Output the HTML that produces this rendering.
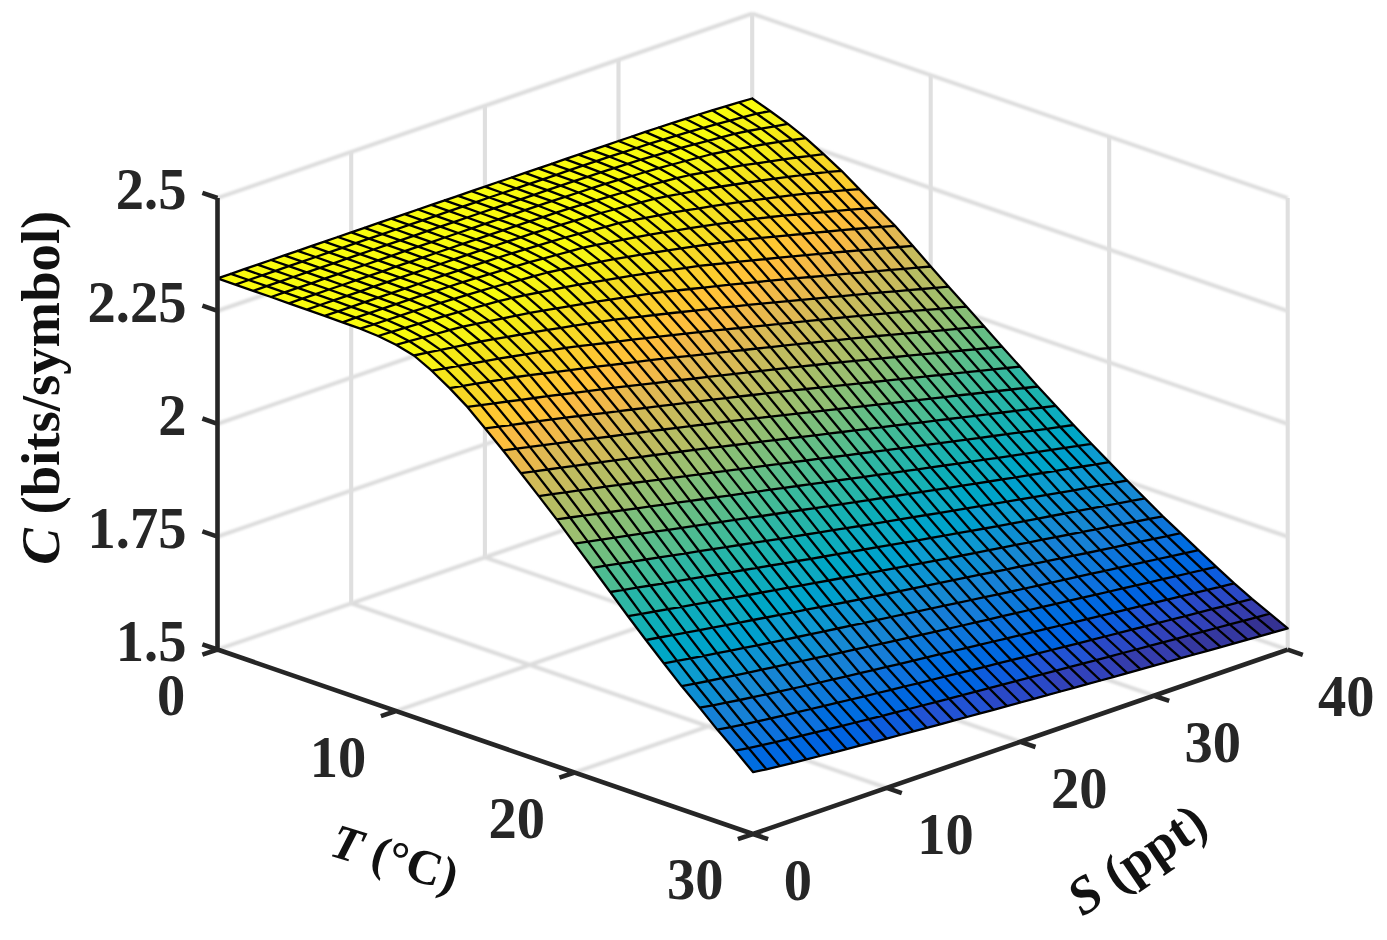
<!DOCTYPE html>
<html lang="en">
<head>
<meta charset="utf-8">
<title>Capacity versus temperature and salinity</title>
<style>
html,body{margin:0;padding:0;background:#fff;}
body{width:1387px;height:940px;overflow:hidden;}
svg{display:block;}
</style>
</head>
<body>
<svg width="1387" height="940" viewBox="0 0 1387 940">
<rect width="1387" height="940" fill="#fff"/>
<defs><filter id="soft" x="-2%" y="-2%" width="104%" height="104%"><feGaussianBlur stdDeviation="0.55"/></filter><filter id="soft2" x="-2%" y="-2%" width="104%" height="104%"><feGaussianBlur stdDeviation="0.8"/></filter></defs>
<path d="M351.2,603.4L886.7,787.9 M484.9,557.3L1020.4,741.8 M618.5,511.2L1154,695.7 M752.2,465.1L1287.7,649.6 M217.5,649.5L752.2,465.1 M396,711L930.7,526.6 M574.5,772.5L1109.2,588.1 M217.5,536.6L752.2,352.2 M217.5,423.8L752.2,239.4 M217.5,310.9L752.2,126.5 M217.5,198L752.2,13.6 M752.2,352.2L1287.7,536.7 M752.2,239.4L1287.7,423.9 M752.2,126.5L1287.7,311 M752.2,13.6L1287.7,198.1" stroke="#dcdcdc" stroke-width="3.9" fill="none" stroke-linecap="butt" filter="url(#soft2)"/>
<path d="M351.2,603.4L351.2,151.9 M484.9,557.3L484.9,105.8 M618.5,511.2L618.5,59.7 M752.2,465.1L752.2,13.6 M930.7,526.6L930.7,75.1 M1109.2,588.1L1109.2,136.6 M1287.7,649.6L1287.7,198.1" stroke="#dfdfdf" stroke-width="4.1" fill="none" stroke-linecap="butt"/>
<g filter="url(#soft)">
<g stroke-width="0.6" stroke-linejoin="round">
<polygon points="738.8,102.4 752.2,98.5 770.1,111 756.7,113.7" fill="#f9fb0e" stroke="#f9fb0e"/>
<polygon points="756.7,113.7 770.1,111 787.9,123.9 774.5,126.3" fill="#f6f313" stroke="#f6f313"/>
<polygon points="774.5,126.3 787.9,123.9 805.8,138.2 792.4,140" fill="#f5eb18" stroke="#f5eb18"/>
<polygon points="792.4,140 805.8,138.2 823.6,154.2 810.2,155.9" fill="#f5de21" stroke="#f5de21"/>
<polygon points="810.2,155.9 823.6,154.2 841.5,170.8 828.1,171.8" fill="#f7d826" stroke="#f7d826"/>
<polygon points="828.1,171.8 841.5,170.8 859.3,189.1 845.9,190.2" fill="#fcce2e" stroke="#fcce2e"/>
<polygon points="845.9,190.2 859.3,189.1 877.2,207.5 863.8,208.6" fill="#fdbe3d" stroke="#fdbe3d"/>
<polygon points="863.8,208.6 877.2,207.5 895,225.8 881.6,226.8" fill="#f1b94a" stroke="#f1b94a"/>
<polygon points="881.6,226.8 895,225.8 912.9,245.9 899.5,247" fill="#e1b952" stroke="#e1b952"/>
<polygon points="899.5,247 912.9,245.9 930.7,266.5 917.3,267.6" fill="#c8bc5d" stroke="#c8bc5d"/>
<polygon points="917.3,267.6 930.7,266.5 948.6,286.7 935.2,287.8" fill="#b7bd64" stroke="#b7bd64"/>
<polygon points="935.2,287.8 948.6,286.7 966.4,306.6 953,307.7" fill="#9cbf6f" stroke="#9cbf6f"/>
<polygon points="953,307.7 966.4,306.6 984.2,326.5 970.9,327.7" fill="#87bf77" stroke="#87bf77"/>
<polygon points="970.9,327.7 984.2,326.5 1002.1,346.7 988.7,348" fill="#65be86" stroke="#65be86"/>
<polygon points="988.7,348 1002.1,346.7 1020,366.6 1006.6,368" fill="#4dbc92" stroke="#4dbc92"/>
<polygon points="1006.6,368 1020,366.6 1037.8,386.5 1024.4,388" fill="#2eb7a4" stroke="#2eb7a4"/>
<polygon points="1024.4,388 1037.8,386.5 1055.7,405.8 1042.3,407.5" fill="#1db3af" stroke="#1db3af"/>
<polygon points="1042.3,407.5 1055.7,405.8 1073.5,425 1060.1,426.9" fill="#0aacbe" stroke="#0aacbe"/>
<polygon points="1060.1,426.9 1073.5,425 1091.4,443.8 1078,445.8" fill="#06a7c6" stroke="#06a7c6"/>
<polygon points="1078,445.8 1091.4,443.8 1109.2,462.1 1095.8,464.3" fill="#079ccf" stroke="#079ccf"/>
<polygon points="1095.8,464.3 1109.2,462.1 1127.1,480.5 1113.7,482.9" fill="#0c93d2" stroke="#0c93d2"/>
<polygon points="1113.7,482.9 1127.1,480.5 1144.9,498.4 1131.5,500.8" fill="#1389d3" stroke="#1389d3"/>
<polygon points="1131.5,500.8 1144.9,498.4 1162.8,516.3 1149.4,518.9" fill="#1481d6" stroke="#1481d6"/>
<polygon points="1149.4,518.9 1162.8,516.3 1180.6,533.2 1167.2,536.1" fill="#0d75dc" stroke="#0d75dc"/>
<polygon points="1167.2,536.1 1180.6,533.2 1198.5,550.2 1185.1,553.1" fill="#046de0" stroke="#046de0"/>
<polygon points="1185.1,553.1 1198.5,550.2 1216.3,566.8 1202.9,569.9" fill="#0363e1" stroke="#0363e1"/>
<polygon points="1202.9,569.9 1216.3,566.8 1234.2,583.3 1220.8,586.6" fill="#0f5cdd" stroke="#0f5cdd"/>
<polygon points="1220.8,586.6 1234.2,583.3 1252,598.9 1238.6,602.4" fill="#2c4ac7" stroke="#2c4ac7"/>
<polygon points="1238.6,602.4 1252,598.9 1269.9,613.7 1256.5,617.3" fill="#353dad" stroke="#353dad"/>
<polygon points="1256.5,617.3 1269.9,613.7 1287.7,628.4 1274.3,632.1" fill="#363093" stroke="#363093"/>
<polygon points="725.5,106.4 738.8,102.4 756.7,113.7 743.3,117.2" fill="#f9fb0e" stroke="#f9fb0e"/>
<polygon points="743.3,117.2 756.7,113.7 774.5,126.3 761.2,128.6" fill="#f6f313" stroke="#f6f313"/>
<polygon points="761.2,128.6 774.5,126.3 792.4,140 779,141.9" fill="#f5eb18" stroke="#f5eb18"/>
<polygon points="779,141.9 792.4,140 810.2,155.9 796.9,157.5" fill="#f5e41d" stroke="#f5e41d"/>
<polygon points="796.9,157.5 810.2,155.9 828.1,171.8 814.7,173.5" fill="#f7d826" stroke="#f7d826"/>
<polygon points="814.7,173.5 828.1,171.8 845.9,190.2 832.6,191.4" fill="#fcce2e" stroke="#fcce2e"/>
<polygon points="832.6,191.4 845.9,190.2 863.8,208.6 850.4,209.7" fill="#ffc337" stroke="#ffc337"/>
<polygon points="850.4,209.7 863.8,208.6 881.6,226.8 868.3,227.9" fill="#f8bb44" stroke="#f8bb44"/>
<polygon points="868.3,227.9 881.6,226.8 899.5,247 886.1,248.2" fill="#e9b94e" stroke="#e9b94e"/>
<polygon points="886.1,248.2 899.5,247 917.3,267.6 904,268.8" fill="#d1bb59" stroke="#d1bb59"/>
<polygon points="904,268.8 917.3,267.6 935.2,287.8 921.8,289" fill="#b7bd64" stroke="#b7bd64"/>
<polygon points="921.8,289 935.2,287.8 953,307.7 939.7,308.8" fill="#a5be6b" stroke="#a5be6b"/>
<polygon points="939.7,308.8 953,307.7 970.9,327.7 957.5,328.9" fill="#87bf77" stroke="#87bf77"/>
<polygon points="957.5,328.9 970.9,327.7 988.7,348 975.4,349.3" fill="#71bf80" stroke="#71bf80"/>
<polygon points="975.4,349.3 988.7,348 1006.6,368 993.2,369.4" fill="#4dbc92" stroke="#4dbc92"/>
<polygon points="993.2,369.4 1006.6,368 1024.4,388 1011.1,389.5" fill="#38b99e" stroke="#38b99e"/>
<polygon points="1011.1,389.5 1024.4,388 1042.3,407.5 1028.9,409.2" fill="#1db3af" stroke="#1db3af"/>
<polygon points="1028.9,409.2 1042.3,407.5 1060.1,426.9 1046.8,428.8" fill="#0faeb9" stroke="#0faeb9"/>
<polygon points="1046.8,428.8 1060.1,426.9 1078,445.8 1064.6,447.8" fill="#06a7c6" stroke="#06a7c6"/>
<polygon points="1064.6,447.8 1078,445.8 1095.8,464.3 1082.5,466.5" fill="#06a0cd" stroke="#06a0cd"/>
<polygon points="1082.5,466.5 1095.8,464.3 1113.7,482.9 1100.3,485.4" fill="#0998d1" stroke="#0998d1"/>
<polygon points="1100.3,485.4 1113.7,482.9 1131.5,500.8 1118.2,503.3" fill="#1389d3" stroke="#1389d3"/>
<polygon points="1118.2,503.3 1131.5,500.8 1149.4,518.9 1136,521.5" fill="#1481d6" stroke="#1481d6"/>
<polygon points="1136,521.5 1149.4,518.9 1167.2,536.1 1153.9,538.9" fill="#1079da" stroke="#1079da"/>
<polygon points="1153.9,538.9 1167.2,536.1 1185.1,553.1 1171.7,556.1" fill="#0871de" stroke="#0871de"/>
<polygon points="1171.7,556.1 1185.1,553.1 1202.9,569.9 1189.6,573" fill="#0268e1" stroke="#0268e1"/>
<polygon points="1189.6,573 1202.9,569.9 1220.8,586.6 1207.4,589.8" fill="#0f5cdd" stroke="#0f5cdd"/>
<polygon points="1207.4,589.8 1220.8,586.6 1238.6,602.4 1225.3,605.8" fill="#2c4ac7" stroke="#2c4ac7"/>
<polygon points="1225.3,605.8 1238.6,602.4 1256.5,617.3 1243.1,620.8" fill="#353dad" stroke="#353dad"/>
<polygon points="1243.1,620.8 1256.5,617.3 1274.3,632.1 1261,635.9" fill="#363093" stroke="#363093"/>
<polygon points="712.1,110.3 725.5,106.4 743.3,117.2 729.9,120.7" fill="#f9fb0e" stroke="#f9fb0e"/>
<polygon points="729.9,120.7 743.3,117.2 761.2,128.6 747.8,131" fill="#f6f313" stroke="#f6f313"/>
<polygon points="747.8,131 761.2,128.6 779,141.9 765.6,144" fill="#f6f313" stroke="#f6f313"/>
<polygon points="765.6,144 779,141.9 796.9,157.5 783.5,159.4" fill="#f5e41d" stroke="#f5e41d"/>
<polygon points="783.5,159.4 796.9,157.5 814.7,173.5 801.3,175.2" fill="#f5de21" stroke="#f5de21"/>
<polygon points="801.3,175.2 814.7,173.5 832.6,191.4 819.2,192.5" fill="#fad32a" stroke="#fad32a"/>
<polygon points="819.2,192.5 832.6,191.4 850.4,209.7 837,210.9" fill="#fec832" stroke="#fec832"/>
<polygon points="837,210.9 850.4,209.7 868.3,227.9 854.9,229" fill="#fdbe3d" stroke="#fdbe3d"/>
<polygon points="854.9,229 868.3,227.9 886.1,248.2 872.7,249.3" fill="#e9b94e" stroke="#e9b94e"/>
<polygon points="872.7,249.3 886.1,248.2 904,268.8 890.6,269.9" fill="#d9ba56" stroke="#d9ba56"/>
<polygon points="890.6,269.9 904,268.8 921.8,289 908.4,290.1" fill="#c0bc60" stroke="#c0bc60"/>
<polygon points="908.4,290.1 921.8,289 939.7,308.8 926.3,309.9" fill="#aebe67" stroke="#aebe67"/>
<polygon points="926.3,309.9 939.7,308.8 957.5,328.9 944.1,330.1" fill="#92bf73" stroke="#92bf73"/>
<polygon points="944.1,330.1 957.5,328.9 975.4,349.3 962,350.5" fill="#71bf80" stroke="#71bf80"/>
<polygon points="962,350.5 975.4,349.3 993.2,369.4 979.8,370.8" fill="#59bd8c" stroke="#59bd8c"/>
<polygon points="979.8,370.8 993.2,369.4 1011.1,389.5 997.7,391" fill="#38b99e" stroke="#38b99e"/>
<polygon points="997.7,391 1011.1,389.5 1028.9,409.2 1015.5,410.8" fill="#25b5a9" stroke="#25b5a9"/>
<polygon points="1015.5,410.8 1028.9,409.2 1046.8,428.8 1033.4,430.6" fill="#0faeb9" stroke="#0faeb9"/>
<polygon points="1033.4,430.6 1046.8,428.8 1064.6,447.8 1051.2,449.8" fill="#07a9c2" stroke="#07a9c2"/>
<polygon points="1051.2,449.8 1064.6,447.8 1082.5,466.5 1069.1,468.6" fill="#06a0cd" stroke="#06a0cd"/>
<polygon points="1069.1,468.6 1082.5,466.5 1100.3,485.4 1086.9,487.8" fill="#0998d1" stroke="#0998d1"/>
<polygon points="1086.9,487.8 1100.3,485.4 1118.2,503.3 1104.8,505.8" fill="#108ed2" stroke="#108ed2"/>
<polygon points="1104.8,505.8 1118.2,503.3 1136,521.5 1122.6,524.1" fill="#1481d6" stroke="#1481d6"/>
<polygon points="1122.6,524.1 1136,521.5 1153.9,538.9 1140.5,541.7" fill="#1079da" stroke="#1079da"/>
<polygon points="1140.5,541.7 1153.9,538.9 1171.7,556.1 1158.3,559" fill="#0871de" stroke="#0871de"/>
<polygon points="1158.3,559 1171.7,556.1 1189.6,573 1176.2,576.1" fill="#0268e1" stroke="#0268e1"/>
<polygon points="1176.2,576.1 1189.6,573 1207.4,589.8 1194,593.1" fill="#0f5cdd" stroke="#0f5cdd"/>
<polygon points="1194,593.1 1207.4,589.8 1225.3,605.8 1211.9,609.2" fill="#2c4ac7" stroke="#2c4ac7"/>
<polygon points="1211.9,609.2 1225.3,605.8 1243.1,620.8 1229.7,624.4" fill="#353dad" stroke="#353dad"/>
<polygon points="1229.7,624.4 1243.1,620.8 1261,635.9 1247.6,639.6" fill="#3637a0" stroke="#3637a0"/>
<polygon points="698.7,114.5 712.1,110.3 729.9,120.7 716.6,124.1" fill="#f9fb0e" stroke="#f9fb0e"/>
<polygon points="716.6,124.1 729.9,120.7 747.8,131 734.4,133.8" fill="#f6f313" stroke="#f6f313"/>
<polygon points="734.4,133.8 747.8,131 765.6,144 752.3,146.4" fill="#f6f313" stroke="#f6f313"/>
<polygon points="752.3,146.4 765.6,144 783.5,159.4 770.1,161.4" fill="#f5eb18" stroke="#f5eb18"/>
<polygon points="770.1,161.4 783.5,159.4 801.3,175.2 788,176.9" fill="#f5de21" stroke="#f5de21"/>
<polygon points="788,176.9 801.3,175.2 819.2,192.5 805.8,193.7" fill="#fad32a" stroke="#fad32a"/>
<polygon points="805.8,193.7 819.2,192.5 837,210.9 823.7,212" fill="#fec832" stroke="#fec832"/>
<polygon points="823.7,212 837,210.9 854.9,229 841.5,230.2" fill="#fdbe3d" stroke="#fdbe3d"/>
<polygon points="841.5,230.2 854.9,229 872.7,249.3 859.4,250.4" fill="#f1b94a" stroke="#f1b94a"/>
<polygon points="859.4,250.4 872.7,249.3 890.6,269.9 877.2,271.1" fill="#d9ba56" stroke="#d9ba56"/>
<polygon points="877.2,271.1 890.6,269.9 908.4,290.1 895.1,291.3" fill="#c8bc5d" stroke="#c8bc5d"/>
<polygon points="895.1,291.3 908.4,290.1 926.3,309.9 912.9,310.9" fill="#aebe67" stroke="#aebe67"/>
<polygon points="912.9,310.9 926.3,309.9 944.1,330.1 930.8,331.3" fill="#9cbf6f" stroke="#9cbf6f"/>
<polygon points="930.8,331.3 944.1,330.1 962,350.5 948.6,351.8" fill="#7cbf7b" stroke="#7cbf7b"/>
<polygon points="948.6,351.8 962,350.5 979.8,370.8 966.5,372.2" fill="#59bd8c" stroke="#59bd8c"/>
<polygon points="966.5,372.2 979.8,370.8 997.7,391 984.3,392.5" fill="#42bb98" stroke="#42bb98"/>
<polygon points="984.3,392.5 997.7,391 1015.5,410.8 1002.2,412.5" fill="#25b5a9" stroke="#25b5a9"/>
<polygon points="1002.2,412.5 1015.5,410.8 1033.4,430.6 1020,432.4" fill="#15b1b4" stroke="#15b1b4"/>
<polygon points="1020,432.4 1033.4,430.6 1051.2,449.8 1037.9,451.8" fill="#07a9c2" stroke="#07a9c2"/>
<polygon points="1037.9,451.8 1051.2,449.8 1069.1,468.6 1055.7,470.8" fill="#06a4ca" stroke="#06a4ca"/>
<polygon points="1055.7,470.8 1069.1,468.6 1086.9,487.8 1073.6,490.3" fill="#0998d1" stroke="#0998d1"/>
<polygon points="1073.6,490.3 1086.9,487.8 1104.8,505.8 1091.4,508.4" fill="#108ed2" stroke="#108ed2"/>
<polygon points="1091.4,508.4 1104.8,505.8 1122.6,524.1 1109.3,526.7" fill="#1485d4" stroke="#1485d4"/>
<polygon points="1109.3,526.7 1122.6,524.1 1140.5,541.7 1127.1,544.5" fill="#127dd8" stroke="#127dd8"/>
<polygon points="1127.1,544.5 1140.5,541.7 1158.3,559 1145,561.9" fill="#0871de" stroke="#0871de"/>
<polygon points="1145,561.9 1158.3,559 1176.2,576.1 1162.8,579.2" fill="#0268e1" stroke="#0268e1"/>
<polygon points="1162.8,579.2 1176.2,576.1 1194,593.1 1180.7,596.4" fill="#0f5cdd" stroke="#0f5cdd"/>
<polygon points="1180.7,596.4 1194,593.1 1211.9,609.2 1198.5,612.7" fill="#2c4ac7" stroke="#2c4ac7"/>
<polygon points="1198.5,612.7 1211.9,609.2 1229.7,624.4 1216.4,628" fill="#353dad" stroke="#353dad"/>
<polygon points="1216.4,628 1229.7,624.4 1247.6,639.6 1234.2,643.3" fill="#3637a0" stroke="#3637a0"/>
<polygon points="685.4,118.8 698.7,114.5 716.6,124.1 703.2,127.8" fill="#f9fb0e" stroke="#f9fb0e"/>
<polygon points="703.2,127.8 716.6,124.1 734.4,133.8 721.1,137.3" fill="#f9fb0e" stroke="#f9fb0e"/>
<polygon points="721.1,137.3 734.4,133.8 752.3,146.4 738.9,148.9" fill="#f6f313" stroke="#f6f313"/>
<polygon points="738.9,148.9 752.3,146.4 770.1,161.4 756.8,163.3" fill="#f5eb18" stroke="#f5eb18"/>
<polygon points="756.8,163.3 770.1,161.4 788,176.9 774.6,178.6" fill="#f5e41d" stroke="#f5e41d"/>
<polygon points="774.6,178.6 788,176.9 805.8,193.7 792.5,195.1" fill="#f7d826" stroke="#f7d826"/>
<polygon points="792.5,195.1 805.8,193.7 823.7,212 810.3,213.3" fill="#fcce2e" stroke="#fcce2e"/>
<polygon points="810.3,213.3 823.7,212 841.5,230.2 828.2,231.5" fill="#ffc337" stroke="#ffc337"/>
<polygon points="828.2,231.5 841.5,230.2 859.4,250.4 846,251.5" fill="#f8bb44" stroke="#f8bb44"/>
<polygon points="846,251.5 859.4,250.4 877.2,271.1 863.9,272.3" fill="#e1b952" stroke="#e1b952"/>
<polygon points="863.9,272.3 877.2,271.1 895.1,291.3 881.7,292.4" fill="#c8bc5d" stroke="#c8bc5d"/>
<polygon points="881.7,292.4 895.1,291.3 912.9,310.9 899.6,312.2" fill="#b7bd64" stroke="#b7bd64"/>
<polygon points="899.6,312.2 912.9,310.9 930.8,331.3 917.4,332.5" fill="#9cbf6f" stroke="#9cbf6f"/>
<polygon points="917.4,332.5 930.8,331.3 948.6,351.8 935.3,353.1" fill="#87bf77" stroke="#87bf77"/>
<polygon points="935.3,353.1 948.6,351.8 966.5,372.2 953.1,373.6" fill="#65be86" stroke="#65be86"/>
<polygon points="953.1,373.6 966.5,372.2 984.3,392.5 971,394" fill="#42bb98" stroke="#42bb98"/>
<polygon points="971,394 984.3,392.5 1002.2,412.5 988.8,414.1" fill="#2eb7a4" stroke="#2eb7a4"/>
<polygon points="988.8,414.1 1002.2,412.5 1020,432.4 1006.7,434.2" fill="#15b1b4" stroke="#15b1b4"/>
<polygon points="1006.7,434.2 1020,432.4 1037.9,451.8 1024.5,453.8" fill="#0aacbe" stroke="#0aacbe"/>
<polygon points="1024.5,453.8 1037.9,451.8 1055.7,470.8 1042.4,473" fill="#06a4ca" stroke="#06a4ca"/>
<polygon points="1042.4,473 1055.7,470.8 1073.6,490.3 1060.2,492.6" fill="#079ccf" stroke="#079ccf"/>
<polygon points="1060.2,492.6 1073.6,490.3 1091.4,508.4 1078.1,510.9" fill="#108ed2" stroke="#108ed2"/>
<polygon points="1078.1,510.9 1091.4,508.4 1109.3,526.7 1095.9,529.3" fill="#1485d4" stroke="#1485d4"/>
<polygon points="1095.9,529.3 1109.3,526.7 1127.1,544.5 1113.8,547.3" fill="#127dd8" stroke="#127dd8"/>
<polygon points="1113.8,547.3 1127.1,544.5 1145,561.9 1131.6,564.8" fill="#0d75dc" stroke="#0d75dc"/>
<polygon points="1131.6,564.8 1145,561.9 1162.8,579.2 1149.5,582.3" fill="#046de0" stroke="#046de0"/>
<polygon points="1149.5,582.3 1162.8,579.2 1180.7,596.4 1167.3,599.6" fill="#0363e1" stroke="#0363e1"/>
<polygon points="1167.3,599.6 1180.7,596.4 1198.5,612.7 1185.2,616.1" fill="#2053d4" stroke="#2053d4"/>
<polygon points="1185.2,616.1 1198.5,612.7 1216.4,628 1203,631.6" fill="#3243ba" stroke="#3243ba"/>
<polygon points="1203,631.6 1216.4,628 1234.2,643.3 1220.9,647.1" fill="#3637a0" stroke="#3637a0"/>
<polygon points="672,123.2 685.4,118.8 703.2,127.8 689.8,131.7" fill="#f9fb0e" stroke="#f9fb0e"/>
<polygon points="689.8,131.7 703.2,127.8 721.1,137.3 707.7,140.8" fill="#f9fb0e" stroke="#f9fb0e"/>
<polygon points="707.7,140.8 721.1,137.3 738.9,148.9 725.5,151.3" fill="#f6f313" stroke="#f6f313"/>
<polygon points="725.5,151.3 738.9,148.9 756.8,163.3 743.4,165.2" fill="#f5eb18" stroke="#f5eb18"/>
<polygon points="743.4,165.2 756.8,163.3 774.6,178.6 761.2,180.5" fill="#f5e41d" stroke="#f5e41d"/>
<polygon points="761.2,180.5 774.6,178.6 792.5,195.1 779.1,196.9" fill="#f7d826" stroke="#f7d826"/>
<polygon points="779.1,196.9 792.5,195.1 810.3,213.3 796.9,214.5" fill="#fcce2e" stroke="#fcce2e"/>
<polygon points="796.9,214.5 810.3,213.3 828.2,231.5 814.8,232.7" fill="#ffc337" stroke="#ffc337"/>
<polygon points="814.8,232.7 828.2,231.5 846,251.5 832.6,252.6" fill="#f8bb44" stroke="#f8bb44"/>
<polygon points="832.6,252.6 846,251.5 863.9,272.3 850.5,273.4" fill="#e9b94e" stroke="#e9b94e"/>
<polygon points="850.5,273.4 863.9,272.3 881.7,292.4 868.3,293.7" fill="#d1bb59" stroke="#d1bb59"/>
<polygon points="868.3,293.7 881.7,292.4 899.6,312.2 886.2,313.4" fill="#b7bd64" stroke="#b7bd64"/>
<polygon points="886.2,313.4 899.6,312.2 917.4,332.5 904,333.7" fill="#a5be6b" stroke="#a5be6b"/>
<polygon points="904,333.7 917.4,332.5 935.3,353.1 921.9,354.4" fill="#87bf77" stroke="#87bf77"/>
<polygon points="921.9,354.4 935.3,353.1 953.1,373.6 939.7,375" fill="#71bf80" stroke="#71bf80"/>
<polygon points="939.7,375 953.1,373.6 971,394 957.6,395.5" fill="#4dbc92" stroke="#4dbc92"/>
<polygon points="957.6,395.5 971,394 988.8,414.1 975.4,415.8" fill="#2eb7a4" stroke="#2eb7a4"/>
<polygon points="975.4,415.8 988.8,414.1 1006.7,434.2 993.3,436" fill="#1db3af" stroke="#1db3af"/>
<polygon points="993.3,436 1006.7,434.2 1024.5,453.8 1011.1,455.8" fill="#0aacbe" stroke="#0aacbe"/>
<polygon points="1011.1,455.8 1024.5,453.8 1042.4,473 1029,475.1" fill="#06a7c6" stroke="#06a7c6"/>
<polygon points="1029,475.1 1042.4,473 1060.2,492.6 1046.8,494.9" fill="#079ccf" stroke="#079ccf"/>
<polygon points="1046.8,494.9 1060.2,492.6 1078.1,510.9 1064.7,513.5" fill="#0c93d2" stroke="#0c93d2"/>
<polygon points="1064.7,513.5 1078.1,510.9 1095.9,529.3 1082.5,531.9" fill="#1389d3" stroke="#1389d3"/>
<polygon points="1082.5,531.9 1095.9,529.3 1113.8,547.3 1100.4,550.2" fill="#127dd8" stroke="#127dd8"/>
<polygon points="1100.4,550.2 1113.8,547.3 1131.6,564.8 1118.2,567.8" fill="#0d75dc" stroke="#0d75dc"/>
<polygon points="1118.2,567.8 1131.6,564.8 1149.5,582.3 1136.1,585.3" fill="#046de0" stroke="#046de0"/>
<polygon points="1136.1,585.3 1149.5,582.3 1167.3,599.6 1153.9,602.9" fill="#0363e1" stroke="#0363e1"/>
<polygon points="1153.9,602.9 1167.3,599.6 1185.2,616.1 1171.8,619.5" fill="#2053d4" stroke="#2053d4"/>
<polygon points="1171.8,619.5 1185.2,616.1 1203,631.6 1189.6,635.2" fill="#3243ba" stroke="#3243ba"/>
<polygon points="1189.6,635.2 1203,631.6 1220.9,647.1 1207.5,650.8" fill="#3637a0" stroke="#3637a0"/>
<polygon points="658.6,127.5 672,123.2 689.8,131.7 676.5,135.7" fill="#f9fb0e" stroke="#f9fb0e"/>
<polygon points="676.5,135.7 689.8,131.7 707.7,140.8 694.3,144.3" fill="#f9fb0e" stroke="#f9fb0e"/>
<polygon points="694.3,144.3 707.7,140.8 725.5,151.3 712.2,154" fill="#f6f313" stroke="#f6f313"/>
<polygon points="712.2,154 725.5,151.3 743.4,165.2 730,167.6" fill="#f6f313" stroke="#f6f313"/>
<polygon points="730,167.6 743.4,165.2 761.2,180.5 747.9,182.5" fill="#f5e41d" stroke="#f5e41d"/>
<polygon points="747.9,182.5 761.2,180.5 779.1,196.9 765.7,198.6" fill="#f5de21" stroke="#f5de21"/>
<polygon points="765.7,198.6 779.1,196.9 796.9,214.5 783.6,215.7" fill="#fad32a" stroke="#fad32a"/>
<polygon points="783.6,215.7 796.9,214.5 814.8,232.7 801.4,234" fill="#fec832" stroke="#fec832"/>
<polygon points="801.4,234 814.8,232.7 832.6,252.6 819.3,253.8" fill="#fdbe3d" stroke="#fdbe3d"/>
<polygon points="819.3,253.8 832.6,252.6 850.5,273.4 837.1,274.6" fill="#e9b94e" stroke="#e9b94e"/>
<polygon points="837.1,274.6 850.5,273.4 868.3,293.7 855,294.9" fill="#d9ba56" stroke="#d9ba56"/>
<polygon points="855,294.9 868.3,293.7 886.2,313.4 872.8,314.7" fill="#c0bc60" stroke="#c0bc60"/>
<polygon points="872.8,314.7 886.2,313.4 904,333.7 890.7,334.9" fill="#aebe67" stroke="#aebe67"/>
<polygon points="890.7,334.9 904,333.7 921.9,354.4 908.5,355.7" fill="#92bf73" stroke="#92bf73"/>
<polygon points="908.5,355.7 921.9,354.4 939.7,375 926.4,376.4" fill="#71bf80" stroke="#71bf80"/>
<polygon points="926.4,376.4 939.7,375 957.6,395.5 944.2,397.1" fill="#59bd8c" stroke="#59bd8c"/>
<polygon points="944.2,397.1 957.6,395.5 975.4,415.8 962.1,417.4" fill="#38b99e" stroke="#38b99e"/>
<polygon points="962.1,417.4 975.4,415.8 993.3,436 979.9,437.8" fill="#1db3af" stroke="#1db3af"/>
<polygon points="979.9,437.8 993.3,436 1011.1,455.8 997.8,457.8" fill="#0faeb9" stroke="#0faeb9"/>
<polygon points="997.8,457.8 1011.1,455.8 1029,475.1 1015.6,477.3" fill="#06a7c6" stroke="#06a7c6"/>
<polygon points="1015.6,477.3 1029,475.1 1046.8,494.9 1033.5,497.2" fill="#06a0cd" stroke="#06a0cd"/>
<polygon points="1033.5,497.2 1046.8,494.9 1064.7,513.5 1051.3,516" fill="#0c93d2" stroke="#0c93d2"/>
<polygon points="1051.3,516 1064.7,513.5 1082.5,531.9 1069.2,534.5" fill="#1389d3" stroke="#1389d3"/>
<polygon points="1069.2,534.5 1082.5,531.9 1100.4,550.2 1087,553" fill="#1481d6" stroke="#1481d6"/>
<polygon points="1087,553 1100.4,550.2 1118.2,567.8 1104.9,570.8" fill="#0d75dc" stroke="#0d75dc"/>
<polygon points="1104.9,570.8 1118.2,567.8 1136.1,585.3 1122.7,588.4" fill="#046de0" stroke="#046de0"/>
<polygon points="1122.7,588.4 1136.1,585.3 1153.9,602.9 1140.6,606.1" fill="#0363e1" stroke="#0363e1"/>
<polygon points="1140.6,606.1 1153.9,602.9 1171.8,619.5 1158.4,622.9" fill="#2053d4" stroke="#2053d4"/>
<polygon points="1158.4,622.9 1171.8,619.5 1189.6,635.2 1176.3,638.8" fill="#3243ba" stroke="#3243ba"/>
<polygon points="1176.3,638.8 1189.6,635.2 1207.5,650.8 1194.1,654.5" fill="#3637a0" stroke="#3637a0"/>
<polygon points="645.3,131.9 658.6,127.5 676.5,135.7 663.1,139.6" fill="#f9fb0e" stroke="#f9fb0e"/>
<polygon points="663.1,139.6 676.5,135.7 694.3,144.3 681,147.9" fill="#f9fb0e" stroke="#f9fb0e"/>
<polygon points="681,147.9 694.3,144.3 712.2,154 698.8,157.5" fill="#f9fb0e" stroke="#f9fb0e"/>
<polygon points="698.8,157.5 712.2,154 730,167.6 716.7,170.1" fill="#f6f313" stroke="#f6f313"/>
<polygon points="716.7,170.1 730,167.6 747.9,182.5 734.5,184.5" fill="#f5eb18" stroke="#f5eb18"/>
<polygon points="734.5,184.5 747.9,182.5 765.7,198.6 752.4,200.4" fill="#f5de21" stroke="#f5de21"/>
<polygon points="752.4,200.4 765.7,198.6 783.6,215.7 770.2,217" fill="#f7d826" stroke="#f7d826"/>
<polygon points="770.2,217 783.6,215.7 801.4,234 788.1,235.3" fill="#fcce2e" stroke="#fcce2e"/>
<polygon points="788.1,235.3 801.4,234 819.3,253.8 805.9,255.1" fill="#fdbe3d" stroke="#fdbe3d"/>
<polygon points="805.9,255.1 819.3,253.8 837.1,274.6 823.8,275.8" fill="#f1b94a" stroke="#f1b94a"/>
<polygon points="823.8,275.8 837.1,274.6 855,294.9 841.6,296.1" fill="#d9ba56" stroke="#d9ba56"/>
<polygon points="841.6,296.1 855,294.9 872.8,314.7 859.5,315.9" fill="#c8bc5d" stroke="#c8bc5d"/>
<polygon points="859.5,315.9 872.8,314.7 890.7,334.9 877.3,336" fill="#aebe67" stroke="#aebe67"/>
<polygon points="877.3,336 890.7,334.9 908.5,355.7 895.2,357" fill="#9cbf6f" stroke="#9cbf6f"/>
<polygon points="895.2,357 908.5,355.7 926.4,376.4 913,377.8" fill="#7cbf7b" stroke="#7cbf7b"/>
<polygon points="913,377.8 926.4,376.4 944.2,397.1 930.9,398.6" fill="#59bd8c" stroke="#59bd8c"/>
<polygon points="930.9,398.6 944.2,397.1 962.1,417.4 948.7,419" fill="#42bb98" stroke="#42bb98"/>
<polygon points="948.7,419 962.1,417.4 979.9,437.8 966.6,439.6" fill="#25b5a9" stroke="#25b5a9"/>
<polygon points="966.6,439.6 979.9,437.8 997.8,457.8 984.4,459.7" fill="#0faeb9" stroke="#0faeb9"/>
<polygon points="984.4,459.7 997.8,457.8 1015.6,477.3 1002.3,479.4" fill="#07a9c2" stroke="#07a9c2"/>
<polygon points="1002.3,479.4 1015.6,477.3 1033.5,497.2 1020.1,499.4" fill="#06a0cd" stroke="#06a0cd"/>
<polygon points="1020.1,499.4 1033.5,497.2 1051.3,516 1038,518.6" fill="#0998d1" stroke="#0998d1"/>
<polygon points="1038,518.6 1051.3,516 1069.2,534.5 1055.8,537.1" fill="#1389d3" stroke="#1389d3"/>
<polygon points="1055.8,537.1 1069.2,534.5 1087,553 1073.7,555.7" fill="#1481d6" stroke="#1481d6"/>
<polygon points="1073.7,555.7 1087,553 1104.9,570.8 1091.5,573.7" fill="#1079da" stroke="#1079da"/>
<polygon points="1091.5,573.7 1104.9,570.8 1122.7,588.4 1109.4,591.5" fill="#0871de" stroke="#0871de"/>
<polygon points="1109.4,591.5 1122.7,588.4 1140.6,606.1 1127.2,609.4" fill="#0363e1" stroke="#0363e1"/>
<polygon points="1127.2,609.4 1140.6,606.1 1158.4,622.9 1145.1,626.3" fill="#2053d4" stroke="#2053d4"/>
<polygon points="1145.1,626.3 1158.4,622.9 1176.3,638.8 1162.9,642.3" fill="#3243ba" stroke="#3243ba"/>
<polygon points="1162.9,642.3 1176.3,638.8 1194.1,654.5 1180.8,658.2" fill="#353dad" stroke="#353dad"/>
<polygon points="631.9,136.5 645.3,131.9 663.1,139.6 649.7,143.7" fill="#f9fb0e" stroke="#f9fb0e"/>
<polygon points="649.7,143.7 663.1,139.6 681,147.9 667.6,151.8" fill="#f9fb0e" stroke="#f9fb0e"/>
<polygon points="667.6,151.8 681,147.9 698.8,157.5 685.4,161" fill="#f9fb0e" stroke="#f9fb0e"/>
<polygon points="685.4,161 698.8,157.5 716.7,170.1 703.3,172.6" fill="#f6f313" stroke="#f6f313"/>
<polygon points="703.3,172.6 716.7,170.1 734.5,184.5 721.1,186.5" fill="#f5eb18" stroke="#f5eb18"/>
<polygon points="721.1,186.5 734.5,184.5 752.4,200.4 739,202.1" fill="#f5e41d" stroke="#f5e41d"/>
<polygon points="739,202.1 752.4,200.4 770.2,217 756.8,218.7" fill="#f7d826" stroke="#f7d826"/>
<polygon points="756.8,218.7 770.2,217 788.1,235.3 774.7,236.6" fill="#fcce2e" stroke="#fcce2e"/>
<polygon points="774.7,236.6 788.1,235.3 805.9,255.1 792.5,256.4" fill="#ffc337" stroke="#ffc337"/>
<polygon points="792.5,256.4 805.9,255.1 823.8,275.8 810.4,277" fill="#f8bb44" stroke="#f8bb44"/>
<polygon points="810.4,277 823.8,275.8 841.6,296.1 828.2,297.4" fill="#e1b952" stroke="#e1b952"/>
<polygon points="828.2,297.4 841.6,296.1 859.5,315.9 846.1,317.2" fill="#c8bc5d" stroke="#c8bc5d"/>
<polygon points="846.1,317.2 859.5,315.9 877.3,336 863.9,337.3" fill="#b7bd64" stroke="#b7bd64"/>
<polygon points="863.9,337.3 877.3,336 895.2,357 881.8,358.3" fill="#9cbf6f" stroke="#9cbf6f"/>
<polygon points="881.8,358.3 895.2,357 913,377.8 899.6,379.2" fill="#7cbf7b" stroke="#7cbf7b"/>
<polygon points="899.6,379.2 913,377.8 930.9,398.6 917.5,400.1" fill="#65be86" stroke="#65be86"/>
<polygon points="917.5,400.1 930.9,398.6 948.7,419 935.3,420.6" fill="#42bb98" stroke="#42bb98"/>
<polygon points="935.3,420.6 948.7,419 966.6,439.6 953.2,441.4" fill="#25b5a9" stroke="#25b5a9"/>
<polygon points="953.2,441.4 966.6,439.6 984.4,459.7 971,461.6" fill="#15b1b4" stroke="#15b1b4"/>
<polygon points="971,461.6 984.4,459.7 1002.3,479.4 988.9,481.5" fill="#07a9c2" stroke="#07a9c2"/>
<polygon points="988.9,481.5 1002.3,479.4 1020.1,499.4 1006.7,501.7" fill="#06a4ca" stroke="#06a4ca"/>
<polygon points="1006.7,501.7 1020.1,499.4 1038,518.6 1024.6,521.1" fill="#0998d1" stroke="#0998d1"/>
<polygon points="1024.6,521.1 1038,518.6 1055.8,537.1 1042.4,539.7" fill="#108ed2" stroke="#108ed2"/>
<polygon points="1042.4,539.7 1055.8,537.1 1073.7,555.7 1060.3,558.4" fill="#1481d6" stroke="#1481d6"/>
<polygon points="1060.3,558.4 1073.7,555.7 1091.5,573.7 1078.1,576.7" fill="#1079da" stroke="#1079da"/>
<polygon points="1078.1,576.7 1091.5,573.7 1109.4,591.5 1096,594.6" fill="#0871de" stroke="#0871de"/>
<polygon points="1096,594.6 1109.4,591.5 1127.2,609.4 1113.8,612.6" fill="#0268e1" stroke="#0268e1"/>
<polygon points="1113.8,612.6 1127.2,609.4 1145.1,626.3 1131.7,629.7" fill="#0f5cdd" stroke="#0f5cdd"/>
<polygon points="1131.7,629.7 1145.1,626.3 1162.9,642.3 1149.5,645.9" fill="#2c4ac7" stroke="#2c4ac7"/>
<polygon points="1149.5,645.9 1162.9,642.3 1180.8,658.2 1167.4,662" fill="#353dad" stroke="#353dad"/>
<polygon points="618.5,141 631.9,136.5 649.7,143.7 636.4,148" fill="#f9fb0e" stroke="#f9fb0e"/>
<polygon points="636.4,148 649.7,143.7 667.6,151.8 654.2,155.8" fill="#f9fb0e" stroke="#f9fb0e"/>
<polygon points="654.2,155.8 667.6,151.8 685.4,161 672.1,164.5" fill="#f9fb0e" stroke="#f9fb0e"/>
<polygon points="672.1,164.5 685.4,161 703.3,172.6 689.9,175" fill="#f6f313" stroke="#f6f313"/>
<polygon points="689.9,175 703.3,172.6 721.1,186.5 707.8,188.7" fill="#f6f313" stroke="#f6f313"/>
<polygon points="707.8,188.7 721.1,186.5 739,202.1 725.6,204.2" fill="#f5e41d" stroke="#f5e41d"/>
<polygon points="725.6,204.2 739,202.1 756.8,218.7 743.5,220.5" fill="#f5de21" stroke="#f5de21"/>
<polygon points="743.5,220.5 756.8,218.7 774.7,236.6 761.3,237.9" fill="#fad32a" stroke="#fad32a"/>
<polygon points="761.3,237.9 774.7,236.6 792.5,256.4 779.2,257.7" fill="#fec832" stroke="#fec832"/>
<polygon points="779.2,257.7 792.5,256.4 810.4,277 797,278.1" fill="#f8bb44" stroke="#f8bb44"/>
<polygon points="797,278.1 810.4,277 828.2,297.4 814.9,298.6" fill="#e9b94e" stroke="#e9b94e"/>
<polygon points="814.9,298.6 828.2,297.4 846.1,317.2 832.7,318.5" fill="#d1bb59" stroke="#d1bb59"/>
<polygon points="832.7,318.5 846.1,317.2 863.9,337.3 850.6,338.7" fill="#b7bd64" stroke="#b7bd64"/>
<polygon points="850.6,338.7 863.9,337.3 881.8,358.3 868.4,359.6" fill="#a5be6b" stroke="#a5be6b"/>
<polygon points="868.4,359.6 881.8,358.3 899.6,379.2 886.3,380.6" fill="#87bf77" stroke="#87bf77"/>
<polygon points="886.3,380.6 899.6,379.2 917.5,400.1 904.1,401.6" fill="#65be86" stroke="#65be86"/>
<polygon points="904.1,401.6 917.5,400.1 935.3,420.6 922,422.3" fill="#4dbc92" stroke="#4dbc92"/>
<polygon points="922,422.3 935.3,420.6 953.2,441.4 939.8,443.1" fill="#2eb7a4" stroke="#2eb7a4"/>
<polygon points="939.8,443.1 953.2,441.4 971,461.6 957.7,463.6" fill="#15b1b4" stroke="#15b1b4"/>
<polygon points="957.7,463.6 971,461.6 988.9,481.5 975.5,483.6" fill="#0aacbe" stroke="#0aacbe"/>
<polygon points="975.5,483.6 988.9,481.5 1006.7,501.7 993.4,503.9" fill="#06a4ca" stroke="#06a4ca"/>
<polygon points="993.4,503.9 1006.7,501.7 1024.6,521.1 1011.2,523.7" fill="#079ccf" stroke="#079ccf"/>
<polygon points="1011.2,523.7 1024.6,521.1 1042.4,539.7 1029.1,542.3" fill="#108ed2" stroke="#108ed2"/>
<polygon points="1029.1,542.3 1042.4,539.7 1060.3,558.4 1046.9,561.1" fill="#1485d4" stroke="#1485d4"/>
<polygon points="1046.9,561.1 1060.3,558.4 1078.1,576.7 1064.8,579.7" fill="#1079da" stroke="#1079da"/>
<polygon points="1064.8,579.7 1078.1,576.7 1096,594.6 1082.6,597.7" fill="#0871de" stroke="#0871de"/>
<polygon points="1082.6,597.7 1096,594.6 1113.8,612.6 1100.5,615.8" fill="#0268e1" stroke="#0268e1"/>
<polygon points="1100.5,615.8 1113.8,612.6 1131.7,629.7 1118.3,633.1" fill="#0f5cdd" stroke="#0f5cdd"/>
<polygon points="1118.3,633.1 1131.7,629.7 1149.5,645.9 1136.2,649.5" fill="#2c4ac7" stroke="#2c4ac7"/>
<polygon points="1136.2,649.5 1149.5,645.9 1167.4,662 1154,665.7" fill="#353dad" stroke="#353dad"/>
<polygon points="605.2,145.6 618.5,141 636.4,148 623,152.4" fill="#f9fb0e" stroke="#f9fb0e"/>
<polygon points="623,152.4 636.4,148 654.2,155.8 640.9,159.7" fill="#f9fb0e" stroke="#f9fb0e"/>
<polygon points="640.9,159.7 654.2,155.8 672.1,164.5 658.7,168.1" fill="#f9fb0e" stroke="#f9fb0e"/>
<polygon points="658.7,168.1 672.1,164.5 689.9,175 676.6,178.1" fill="#f9fb0e" stroke="#f9fb0e"/>
<polygon points="676.6,178.1 689.9,175 707.8,188.7 694.4,191.2" fill="#f6f313" stroke="#f6f313"/>
<polygon points="694.4,191.2 707.8,188.7 725.6,204.2 712.3,206.2" fill="#f5eb18" stroke="#f5eb18"/>
<polygon points="712.3,206.2 725.6,204.2 743.5,220.5 730.1,222.3" fill="#f5de21" stroke="#f5de21"/>
<polygon points="730.1,222.3 743.5,220.5 761.3,237.9 748,239.3" fill="#fad32a" stroke="#fad32a"/>
<polygon points="748,239.3 761.3,237.9 779.2,257.7 765.8,259" fill="#fec832" stroke="#fec832"/>
<polygon points="765.8,259 779.2,257.7 797,278.1 783.7,279.3" fill="#fdbe3d" stroke="#fdbe3d"/>
<polygon points="783.7,279.3 797,278.1 814.9,298.6 801.5,299.9" fill="#e9b94e" stroke="#e9b94e"/>
<polygon points="801.5,299.9 814.9,298.6 832.7,318.5 819.4,319.9" fill="#d1bb59" stroke="#d1bb59"/>
<polygon points="819.4,319.9 832.7,318.5 850.6,338.7 837.2,340.1" fill="#c0bc60" stroke="#c0bc60"/>
<polygon points="837.2,340.1 850.6,338.7 868.4,359.6 855.1,360.9" fill="#a5be6b" stroke="#a5be6b"/>
<polygon points="855.1,360.9 868.4,359.6 886.3,380.6 872.9,382" fill="#92bf73" stroke="#92bf73"/>
<polygon points="872.9,382 886.3,380.6 904.1,401.6 890.8,403.1" fill="#71bf80" stroke="#71bf80"/>
<polygon points="890.8,403.1 904.1,401.6 922,422.3 908.6,423.9" fill="#4dbc92" stroke="#4dbc92"/>
<polygon points="908.6,423.9 922,422.3 939.8,443.1 926.5,444.9" fill="#38b99e" stroke="#38b99e"/>
<polygon points="926.5,444.9 939.8,443.1 957.7,463.6 944.3,465.5" fill="#1db3af" stroke="#1db3af"/>
<polygon points="944.3,465.5 957.7,463.6 975.5,483.6 962.2,485.7" fill="#0aacbe" stroke="#0aacbe"/>
<polygon points="962.2,485.7 975.5,483.6 993.4,503.9 980,506.2" fill="#06a7c6" stroke="#06a7c6"/>
<polygon points="980,506.2 993.4,503.9 1011.2,523.7 997.9,526.1" fill="#079ccf" stroke="#079ccf"/>
<polygon points="997.9,526.1 1011.2,523.7 1029.1,542.3 1015.7,544.9" fill="#108ed2" stroke="#108ed2"/>
<polygon points="1015.7,544.9 1029.1,542.3 1046.9,561.1 1033.6,563.8" fill="#1485d4" stroke="#1485d4"/>
<polygon points="1033.6,563.8 1046.9,561.1 1064.8,579.7 1051.4,582.6" fill="#127dd8" stroke="#127dd8"/>
<polygon points="1051.4,582.6 1064.8,579.7 1082.6,597.7 1069.3,600.7" fill="#0d75dc" stroke="#0d75dc"/>
<polygon points="1069.3,600.7 1082.6,597.7 1100.5,615.8 1087.1,619.1" fill="#0268e1" stroke="#0268e1"/>
<polygon points="1087.1,619.1 1100.5,615.8 1118.3,633.1 1105,636.5" fill="#0f5cdd" stroke="#0f5cdd"/>
<polygon points="1105,636.5 1118.3,633.1 1136.2,649.5 1122.8,653" fill="#2c4ac7" stroke="#2c4ac7"/>
<polygon points="1122.8,653 1136.2,649.5 1154,665.7 1140.7,669.4" fill="#353dad" stroke="#353dad"/>
<polygon points="591.8,150.1 605.2,145.6 623,152.4 609.6,156.7" fill="#f9fb0e" stroke="#f9fb0e"/>
<polygon points="609.6,156.7 623,152.4 640.9,159.7 627.5,163.8" fill="#f9fb0e" stroke="#f9fb0e"/>
<polygon points="627.5,163.8 640.9,159.7 658.7,168.1 645.3,172" fill="#f9fb0e" stroke="#f9fb0e"/>
<polygon points="645.3,172 658.7,168.1 676.6,178.1 663.2,181.7" fill="#f9fb0e" stroke="#f9fb0e"/>
<polygon points="663.2,181.7 676.6,178.1 694.4,191.2 681,193.7" fill="#f6f313" stroke="#f6f313"/>
<polygon points="681,193.7 694.4,191.2 712.3,206.2 698.9,208.3" fill="#f5eb18" stroke="#f5eb18"/>
<polygon points="698.9,208.3 712.3,206.2 730.1,222.3 716.7,224.2" fill="#f5de21" stroke="#f5de21"/>
<polygon points="716.7,224.2 730.1,222.3 748,239.3 734.6,240.7" fill="#f7d826" stroke="#f7d826"/>
<polygon points="734.6,240.7 748,239.3 765.8,259 752.4,260.4" fill="#fcce2e" stroke="#fcce2e"/>
<polygon points="752.4,260.4 765.8,259 783.7,279.3 770.3,280.7" fill="#fdbe3d" stroke="#fdbe3d"/>
<polygon points="770.3,280.7 783.7,279.3 801.5,299.9 788.1,301.1" fill="#f1b94a" stroke="#f1b94a"/>
<polygon points="788.1,301.1 801.5,299.9 819.4,319.9 806,321.2" fill="#d9ba56" stroke="#d9ba56"/>
<polygon points="806,321.2 819.4,319.9 837.2,340.1 823.8,341.4" fill="#c8bc5d" stroke="#c8bc5d"/>
<polygon points="823.8,341.4 837.2,340.1 855.1,360.9 841.7,362.2" fill="#aebe67" stroke="#aebe67"/>
<polygon points="841.7,362.2 855.1,360.9 872.9,382 859.5,383.4" fill="#92bf73" stroke="#92bf73"/>
<polygon points="859.5,383.4 872.9,382 890.8,403.1 877.4,404.6" fill="#7cbf7b" stroke="#7cbf7b"/>
<polygon points="877.4,404.6 890.8,403.1 908.6,423.9 895.2,425.5" fill="#59bd8c" stroke="#59bd8c"/>
<polygon points="895.2,425.5 908.6,423.9 926.5,444.9 913.1,446.6" fill="#38b99e" stroke="#38b99e"/>
<polygon points="913.1,446.6 926.5,444.9 944.3,465.5 930.9,467.4" fill="#1db3af" stroke="#1db3af"/>
<polygon points="930.9,467.4 944.3,465.5 962.2,485.7 948.8,487.8" fill="#0faeb9" stroke="#0faeb9"/>
<polygon points="948.8,487.8 962.2,485.7 980,506.2 966.6,508.4" fill="#06a7c6" stroke="#06a7c6"/>
<polygon points="966.6,508.4 980,506.2 997.9,526.1 984.5,528.5" fill="#079ccf" stroke="#079ccf"/>
<polygon points="984.5,528.5 997.9,526.1 1015.7,544.9 1002.3,547.6" fill="#0c93d2" stroke="#0c93d2"/>
<polygon points="1002.3,547.6 1015.7,544.9 1033.6,563.8 1020.2,566.5" fill="#1389d3" stroke="#1389d3"/>
<polygon points="1020.2,566.5 1033.6,563.8 1051.4,582.6 1038,585.6" fill="#127dd8" stroke="#127dd8"/>
<polygon points="1038,585.6 1051.4,582.6 1069.3,600.7 1055.9,603.8" fill="#0d75dc" stroke="#0d75dc"/>
<polygon points="1055.9,603.8 1069.3,600.7 1087.1,619.1 1073.7,622.3" fill="#046de0" stroke="#046de0"/>
<polygon points="1073.7,622.3 1087.1,619.1 1105,636.5 1091.6,639.9" fill="#0f5cdd" stroke="#0f5cdd"/>
<polygon points="1091.6,639.9 1105,636.5 1122.8,653 1109.4,656.6" fill="#2c4ac7" stroke="#2c4ac7"/>
<polygon points="1109.4,656.6 1122.8,653 1140.7,669.4 1127.3,673.1" fill="#353dad" stroke="#353dad"/>
<polygon points="578.4,154.7 591.8,150.1 609.6,156.7 596.3,161.1" fill="#f9fb0e" stroke="#f9fb0e"/>
<polygon points="596.3,161.1 609.6,156.7 627.5,163.8 614.1,168.1" fill="#f9fb0e" stroke="#f9fb0e"/>
<polygon points="614.1,168.1 627.5,163.8 645.3,172 632,176" fill="#f9fb0e" stroke="#f9fb0e"/>
<polygon points="632,176 645.3,172 663.2,181.7 649.8,185.2" fill="#f9fb0e" stroke="#f9fb0e"/>
<polygon points="649.8,185.2 663.2,181.7 681,193.7 667.7,196.2" fill="#f6f313" stroke="#f6f313"/>
<polygon points="667.7,196.2 681,193.7 698.9,208.3 685.5,210.4" fill="#f5eb18" stroke="#f5eb18"/>
<polygon points="685.5,210.4 698.9,208.3 716.7,224.2 703.4,226.1" fill="#f5e41d" stroke="#f5e41d"/>
<polygon points="703.4,226.1 716.7,224.2 734.6,240.7 721.2,242.6" fill="#f7d826" stroke="#f7d826"/>
<polygon points="721.2,242.6 734.6,240.7 752.4,260.4 739.1,261.7" fill="#fcce2e" stroke="#fcce2e"/>
<polygon points="739.1,261.7 752.4,260.4 770.3,280.7 756.9,282" fill="#ffc337" stroke="#ffc337"/>
<polygon points="756.9,282 770.3,280.7 788.1,301.1 774.8,302.4" fill="#f1b94a" stroke="#f1b94a"/>
<polygon points="774.8,302.4 788.1,301.1 806,321.2 792.6,322.6" fill="#e1b952" stroke="#e1b952"/>
<polygon points="792.6,322.6 806,321.2 823.8,341.4 810.5,342.8" fill="#c8bc5d" stroke="#c8bc5d"/>
<polygon points="810.5,342.8 823.8,341.4 841.7,362.2 828.3,363.5" fill="#b7bd64" stroke="#b7bd64"/>
<polygon points="828.3,363.5 841.7,362.2 859.5,383.4 846.2,384.8" fill="#9cbf6f" stroke="#9cbf6f"/>
<polygon points="846.2,384.8 859.5,383.4 877.4,404.6 864,406.1" fill="#7cbf7b" stroke="#7cbf7b"/>
<polygon points="864,406.1 877.4,404.6 895.2,425.5 881.9,427.1" fill="#59bd8c" stroke="#59bd8c"/>
<polygon points="881.9,427.1 895.2,425.5 913.1,446.6 899.7,448.3" fill="#42bb98" stroke="#42bb98"/>
<polygon points="899.7,448.3 913.1,446.6 930.9,467.4 917.6,469.3" fill="#25b5a9" stroke="#25b5a9"/>
<polygon points="917.6,469.3 930.9,467.4 948.8,487.8 935.4,489.9" fill="#0faeb9" stroke="#0faeb9"/>
<polygon points="935.4,489.9 948.8,487.8 966.6,508.4 953.3,510.6" fill="#07a9c2" stroke="#07a9c2"/>
<polygon points="953.3,510.6 966.6,508.4 984.5,528.5 971.1,530.8" fill="#06a0cd" stroke="#06a0cd"/>
<polygon points="971.1,530.8 984.5,528.5 1002.3,547.6 989,550.2" fill="#0c93d2" stroke="#0c93d2"/>
<polygon points="989,550.2 1002.3,547.6 1020.2,566.5 1006.8,569.3" fill="#1389d3" stroke="#1389d3"/>
<polygon points="1006.8,569.3 1020.2,566.5 1038,585.6 1024.7,588.5" fill="#1481d6" stroke="#1481d6"/>
<polygon points="1024.7,588.5 1038,585.6 1055.9,603.8 1042.5,606.9" fill="#0d75dc" stroke="#0d75dc"/>
<polygon points="1042.5,606.9 1055.9,603.8 1073.7,622.3 1060.4,625.5" fill="#046de0" stroke="#046de0"/>
<polygon points="1060.4,625.5 1073.7,622.3 1091.6,639.9 1078.2,643.3" fill="#0363e1" stroke="#0363e1"/>
<polygon points="1078.2,643.3 1091.6,639.9 1109.4,656.6 1096.1,660.1" fill="#2c4ac7" stroke="#2c4ac7"/>
<polygon points="1096.1,660.1 1109.4,656.6 1127.3,673.1 1113.9,676.8" fill="#3243ba" stroke="#3243ba"/>
<polygon points="565.1,159.2 578.4,154.7 596.3,161.1 582.9,165.7" fill="#f9fb0e" stroke="#f9fb0e"/>
<polygon points="582.9,165.7 596.3,161.1 614.1,168.1 600.8,172.4" fill="#f9fb0e" stroke="#f9fb0e"/>
<polygon points="600.8,172.4 614.1,168.1 632,176 618.6,179.9" fill="#f9fb0e" stroke="#f9fb0e"/>
<polygon points="618.6,179.9 632,176 649.8,185.2 636.5,188.8" fill="#f9fb0e" stroke="#f9fb0e"/>
<polygon points="636.5,188.8 649.8,185.2 667.7,196.2 654.3,198.8" fill="#f6f313" stroke="#f6f313"/>
<polygon points="654.3,198.8 667.7,196.2 685.5,210.4 672.2,212.7" fill="#f6f313" stroke="#f6f313"/>
<polygon points="672.2,212.7 685.5,210.4 703.4,226.1 690,228.2" fill="#f5e41d" stroke="#f5e41d"/>
<polygon points="690,228.2 703.4,226.1 721.2,242.6 707.9,244.5" fill="#f5de21" stroke="#f5de21"/>
<polygon points="707.9,244.5 721.2,242.6 739.1,261.7 725.7,263.1" fill="#fad32a" stroke="#fad32a"/>
<polygon points="725.7,263.1 739.1,261.7 756.9,282 743.6,283.4" fill="#ffc337" stroke="#ffc337"/>
<polygon points="743.6,283.4 756.9,282 774.8,302.4 761.4,303.6" fill="#f8bb44" stroke="#f8bb44"/>
<polygon points="761.4,303.6 774.8,302.4 792.6,322.6 779.3,323.9" fill="#e1b952" stroke="#e1b952"/>
<polygon points="779.3,323.9 792.6,322.6 810.5,342.8 797.1,344.2" fill="#d1bb59" stroke="#d1bb59"/>
<polygon points="797.1,344.2 810.5,342.8 828.3,363.5 815,365" fill="#b7bd64" stroke="#b7bd64"/>
<polygon points="815,365 828.3,363.5 846.2,384.8 832.8,386.2" fill="#9cbf6f" stroke="#9cbf6f"/>
<polygon points="832.8,386.2 846.2,384.8 864,406.1 850.7,407.6" fill="#87bf77" stroke="#87bf77"/>
<polygon points="850.7,407.6 864,406.1 881.9,427.1 868.5,428.8" fill="#65be86" stroke="#65be86"/>
<polygon points="868.5,428.8 881.9,427.1 899.7,448.3 886.4,450.1" fill="#42bb98" stroke="#42bb98"/>
<polygon points="886.4,450.1 899.7,448.3 917.6,469.3 904.2,471.2" fill="#25b5a9" stroke="#25b5a9"/>
<polygon points="904.2,471.2 917.6,469.3 935.4,489.9 922.1,491.9" fill="#15b1b4" stroke="#15b1b4"/>
<polygon points="922.1,491.9 935.4,489.9 953.3,510.6 939.9,512.8" fill="#07a9c2" stroke="#07a9c2"/>
<polygon points="939.9,512.8 953.3,510.6 971.1,530.8 957.8,533.2" fill="#06a0cd" stroke="#06a0cd"/>
<polygon points="957.8,533.2 971.1,530.8 989,550.2 975.6,552.9" fill="#0998d1" stroke="#0998d1"/>
<polygon points="975.6,552.9 989,550.2 1006.8,569.3 993.5,572" fill="#1389d3" stroke="#1389d3"/>
<polygon points="993.5,572 1006.8,569.3 1024.7,588.5 1011.3,591.5" fill="#1481d6" stroke="#1481d6"/>
<polygon points="1011.3,591.5 1024.7,588.5 1042.5,606.9 1029.2,610" fill="#0d75dc" stroke="#0d75dc"/>
<polygon points="1029.2,610 1042.5,606.9 1060.4,625.5 1047,628.7" fill="#046de0" stroke="#046de0"/>
<polygon points="1047,628.7 1060.4,625.5 1078.2,643.3 1064.9,646.7" fill="#0363e1" stroke="#0363e1"/>
<polygon points="1064.9,646.7 1078.2,643.3 1096.1,660.1 1082.7,663.7" fill="#2053d4" stroke="#2053d4"/>
<polygon points="1082.7,663.7 1096.1,660.1 1113.9,676.8 1100.6,680.5" fill="#3243ba" stroke="#3243ba"/>
<polygon points="551.7,163.8 565.1,159.2 582.9,165.7 569.5,170.2" fill="#f9fb0e" stroke="#f9fb0e"/>
<polygon points="569.5,170.2 582.9,165.7 600.8,172.4 587.4,176.8" fill="#f9fb0e" stroke="#f9fb0e"/>
<polygon points="587.4,176.8 600.8,172.4 618.6,179.9 605.2,183.9" fill="#f9fb0e" stroke="#f9fb0e"/>
<polygon points="605.2,183.9 618.6,179.9 636.5,188.8 623.1,192.5" fill="#f9fb0e" stroke="#f9fb0e"/>
<polygon points="623.1,192.5 636.5,188.8 654.3,198.8 640.9,202.3" fill="#f9fb0e" stroke="#f9fb0e"/>
<polygon points="640.9,202.3 654.3,198.8 672.2,212.7 658.8,215.3" fill="#f6f313" stroke="#f6f313"/>
<polygon points="658.8,215.3 672.2,212.7 690,228.2 676.6,230.3" fill="#f5eb18" stroke="#f5eb18"/>
<polygon points="676.6,230.3 690,228.2 707.9,244.5 694.5,246.4" fill="#f5de21" stroke="#f5de21"/>
<polygon points="694.5,246.4 707.9,244.5 725.7,263.1 712.3,264.5" fill="#fad32a" stroke="#fad32a"/>
<polygon points="712.3,264.5 725.7,263.1 743.6,283.4 730.2,284.7" fill="#fec832" stroke="#fec832"/>
<polygon points="730.2,284.7 743.6,283.4 761.4,303.6 748,304.9" fill="#fdbe3d" stroke="#fdbe3d"/>
<polygon points="748,304.9 761.4,303.6 779.3,323.9 765.9,325.3" fill="#e9b94e" stroke="#e9b94e"/>
<polygon points="765.9,325.3 779.3,323.9 797.1,344.2 783.7,345.6" fill="#d1bb59" stroke="#d1bb59"/>
<polygon points="783.7,345.6 797.1,344.2 815,365 801.6,366.4" fill="#c0bc60" stroke="#c0bc60"/>
<polygon points="801.6,366.4 815,365 832.8,386.2 819.4,387.6" fill="#a5be6b" stroke="#a5be6b"/>
<polygon points="819.4,387.6 832.8,386.2 850.7,407.6 837.3,409.1" fill="#87bf77" stroke="#87bf77"/>
<polygon points="837.3,409.1 850.7,407.6 868.5,428.8 855.1,430.4" fill="#71bf80" stroke="#71bf80"/>
<polygon points="855.1,430.4 868.5,428.8 886.4,450.1 873,451.8" fill="#4dbc92" stroke="#4dbc92"/>
<polygon points="873,451.8 886.4,450.1 904.2,471.2 890.8,473.1" fill="#2eb7a4" stroke="#2eb7a4"/>
<polygon points="890.8,473.1 904.2,471.2 922.1,491.9 908.7,493.9" fill="#15b1b4" stroke="#15b1b4"/>
<polygon points="908.7,493.9 922.1,491.9 939.9,512.8 926.5,515" fill="#07a9c2" stroke="#07a9c2"/>
<polygon points="926.5,515 939.9,512.8 957.8,533.2 944.4,535.6" fill="#06a4ca" stroke="#06a4ca"/>
<polygon points="944.4,535.6 957.8,533.2 975.6,552.9 962.2,555.5" fill="#0998d1" stroke="#0998d1"/>
<polygon points="962.2,555.5 975.6,552.9 993.5,572 980.1,574.7" fill="#108ed2" stroke="#108ed2"/>
<polygon points="980.1,574.7 993.5,572 1011.3,591.5 997.9,594.3" fill="#1481d6" stroke="#1481d6"/>
<polygon points="997.9,594.3 1011.3,591.5 1029.2,610 1015.8,613.1" fill="#1079da" stroke="#1079da"/>
<polygon points="1015.8,613.1 1029.2,610 1047,628.7 1033.6,631.9" fill="#046de0" stroke="#046de0"/>
<polygon points="1033.6,631.9 1047,628.7 1064.9,646.7 1051.5,650" fill="#0363e1" stroke="#0363e1"/>
<polygon points="1051.5,650 1064.9,646.7 1082.7,663.7 1069.3,667.2" fill="#2053d4" stroke="#2053d4"/>
<polygon points="1069.3,667.2 1082.7,663.7 1100.6,680.5 1087.2,684.1" fill="#3243ba" stroke="#3243ba"/>
<polygon points="538.3,168.3 551.7,163.8 569.5,170.2 556.2,174.8" fill="#f9fb0e" stroke="#f9fb0e"/>
<polygon points="556.2,174.8 569.5,170.2 587.4,176.8 574,181.1" fill="#f9fb0e" stroke="#f9fb0e"/>
<polygon points="574,181.1 587.4,176.8 605.2,183.9 591.9,188.2" fill="#f9fb0e" stroke="#f9fb0e"/>
<polygon points="591.9,188.2 605.2,183.9 623.1,192.5 609.7,196.4" fill="#f9fb0e" stroke="#f9fb0e"/>
<polygon points="609.7,196.4 623.1,192.5 640.9,202.3 627.6,205.9" fill="#f9fb0e" stroke="#f9fb0e"/>
<polygon points="627.6,205.9 640.9,202.3 658.8,215.3 645.4,217.9" fill="#f6f313" stroke="#f6f313"/>
<polygon points="645.4,217.9 658.8,215.3 676.6,230.3 663.3,232.4" fill="#f5eb18" stroke="#f5eb18"/>
<polygon points="663.3,232.4 676.6,230.3 694.5,246.4 681.1,248.3" fill="#f5e41d" stroke="#f5e41d"/>
<polygon points="681.1,248.3 694.5,246.4 712.3,264.5 699,265.9" fill="#f7d826" stroke="#f7d826"/>
<polygon points="699,265.9 712.3,264.5 730.2,284.7 716.8,286.1" fill="#fcce2e" stroke="#fcce2e"/>
<polygon points="716.8,286.1 730.2,284.7 748,304.9 734.7,306.3" fill="#fdbe3d" stroke="#fdbe3d"/>
<polygon points="734.7,306.3 748,304.9 765.9,325.3 752.5,326.6" fill="#f1b94a" stroke="#f1b94a"/>
<polygon points="752.5,326.6 765.9,325.3 783.7,345.6 770.4,347.1" fill="#d9ba56" stroke="#d9ba56"/>
<polygon points="770.4,347.1 783.7,345.6 801.6,366.4 788.2,367.9" fill="#c0bc60" stroke="#c0bc60"/>
<polygon points="788.2,367.9 801.6,366.4 819.4,387.6 806.1,389" fill="#aebe67" stroke="#aebe67"/>
<polygon points="806.1,389 819.4,387.6 837.3,409.1 823.9,410.6" fill="#92bf73" stroke="#92bf73"/>
<polygon points="823.9,410.6 837.3,409.1 855.1,430.4 841.8,432" fill="#71bf80" stroke="#71bf80"/>
<polygon points="841.8,432 855.1,430.4 873,451.8 859.6,453.5" fill="#4dbc92" stroke="#4dbc92"/>
<polygon points="859.6,453.5 873,451.8 890.8,473.1 877.5,474.9" fill="#2eb7a4" stroke="#2eb7a4"/>
<polygon points="877.5,474.9 890.8,473.1 908.7,493.9 895.3,496" fill="#1db3af" stroke="#1db3af"/>
<polygon points="895.3,496 908.7,493.9 926.5,515 913.2,517.2" fill="#0aacbe" stroke="#0aacbe"/>
<polygon points="913.2,517.2 926.5,515 944.4,535.6 931,537.9" fill="#06a4ca" stroke="#06a4ca"/>
<polygon points="931,537.9 944.4,535.6 962.2,555.5 948.9,558.2" fill="#079ccf" stroke="#079ccf"/>
<polygon points="948.9,558.2 962.2,555.5 980.1,574.7 966.7,577.4" fill="#108ed2" stroke="#108ed2"/>
<polygon points="966.7,577.4 980.1,574.7 997.9,594.3 984.6,597.2" fill="#1485d4" stroke="#1485d4"/>
<polygon points="984.6,597.2 997.9,594.3 1015.8,613.1 1002.4,616.2" fill="#1079da" stroke="#1079da"/>
<polygon points="1002.4,616.2 1015.8,613.1 1033.6,631.9 1020.3,635.1" fill="#0871de" stroke="#0871de"/>
<polygon points="1020.3,635.1 1033.6,631.9 1051.5,650 1038.1,653.4" fill="#0363e1" stroke="#0363e1"/>
<polygon points="1038.1,653.4 1051.5,650 1069.3,667.2 1056,670.7" fill="#2053d4" stroke="#2053d4"/>
<polygon points="1056,670.7 1069.3,667.2 1087.2,684.1 1073.8,687.8" fill="#3243ba" stroke="#3243ba"/>
<polygon points="525,172.9 538.3,168.3 556.2,174.8 542.8,179.3" fill="#f9fb0e" stroke="#f9fb0e"/>
<polygon points="542.8,179.3 556.2,174.8 574,181.1 560.7,185.7" fill="#f9fb0e" stroke="#f9fb0e"/>
<polygon points="560.7,185.7 574,181.1 591.9,188.2 578.5,192.5" fill="#f9fb0e" stroke="#f9fb0e"/>
<polygon points="578.5,192.5 591.9,188.2 609.7,196.4 596.4,200.4" fill="#f9fb0e" stroke="#f9fb0e"/>
<polygon points="596.4,200.4 609.7,196.4 627.6,205.9 614.2,209.5" fill="#f9fb0e" stroke="#f9fb0e"/>
<polygon points="614.2,209.5 627.6,205.9 645.4,217.9 632.1,220.4" fill="#f6f313" stroke="#f6f313"/>
<polygon points="632.1,220.4 645.4,217.9 663.3,232.4 649.9,234.6" fill="#f5eb18" stroke="#f5eb18"/>
<polygon points="649.9,234.6 663.3,232.4 681.1,248.3 667.8,250.3" fill="#f5e41d" stroke="#f5e41d"/>
<polygon points="667.8,250.3 681.1,248.3 699,265.9 685.6,267.8" fill="#f7d826" stroke="#f7d826"/>
<polygon points="685.6,267.8 699,265.9 716.8,286.1 703.5,287.6" fill="#fcce2e" stroke="#fcce2e"/>
<polygon points="703.5,287.6 716.8,286.1 734.7,306.3 721.3,307.7" fill="#ffc337" stroke="#ffc337"/>
<polygon points="721.3,307.7 734.7,306.3 752.5,326.6 739.2,328" fill="#f1b94a" stroke="#f1b94a"/>
<polygon points="739.2,328 752.5,326.6 770.4,347.1 757,348.5" fill="#e1b952" stroke="#e1b952"/>
<polygon points="757,348.5 770.4,347.1 788.2,367.9 774.9,369.3" fill="#c8bc5d" stroke="#c8bc5d"/>
<polygon points="774.9,369.3 788.2,367.9 806.1,389 792.7,390.4" fill="#aebe67" stroke="#aebe67"/>
<polygon points="792.7,390.4 806.1,389 823.9,410.6 810.6,412.1" fill="#92bf73" stroke="#92bf73"/>
<polygon points="810.6,412.1 823.9,410.6 841.8,432 828.4,433.6" fill="#7cbf7b" stroke="#7cbf7b"/>
<polygon points="828.4,433.6 841.8,432 859.6,453.5 846.3,455.3" fill="#59bd8c" stroke="#59bd8c"/>
<polygon points="846.3,455.3 859.6,453.5 877.5,474.9 864.1,476.8" fill="#38b99e" stroke="#38b99e"/>
<polygon points="864.1,476.8 877.5,474.9 895.3,496 882,498" fill="#1db3af" stroke="#1db3af"/>
<polygon points="882,498 895.3,496 913.2,517.2 899.8,519.4" fill="#0aacbe" stroke="#0aacbe"/>
<polygon points="899.8,519.4 913.2,517.2 931,537.9 917.7,540.3" fill="#06a7c6" stroke="#06a7c6"/>
<polygon points="917.7,540.3 931,537.9 948.9,558.2 935.5,560.7" fill="#079ccf" stroke="#079ccf"/>
<polygon points="935.5,560.7 948.9,558.2 966.7,577.4 953.4,580.2" fill="#108ed2" stroke="#108ed2"/>
<polygon points="953.4,580.2 966.7,577.4 984.6,597.2 971.2,600" fill="#1485d4" stroke="#1485d4"/>
<polygon points="971.2,600 984.6,597.2 1002.4,616.2 989.1,619.3" fill="#1079da" stroke="#1079da"/>
<polygon points="989.1,619.3 1002.4,616.2 1020.3,635.1 1006.9,638.3" fill="#0871de" stroke="#0871de"/>
<polygon points="1006.9,638.3 1020.3,635.1 1038.1,653.4 1024.8,656.8" fill="#0268e1" stroke="#0268e1"/>
<polygon points="1024.8,656.8 1038.1,653.4 1056,670.7 1042.6,674.2" fill="#2053d4" stroke="#2053d4"/>
<polygon points="1042.6,674.2 1056,670.7 1073.8,687.8 1060.5,691.5" fill="#3243ba" stroke="#3243ba"/>
<polygon points="511.6,177.5 525,172.9 542.8,179.3 529.4,183.9" fill="#f9fb0e" stroke="#f9fb0e"/>
<polygon points="529.4,183.9 542.8,179.3 560.7,185.7 547.3,190.2" fill="#f9fb0e" stroke="#f9fb0e"/>
<polygon points="547.3,190.2 560.7,185.7 578.5,192.5 565.1,196.9" fill="#f9fb0e" stroke="#f9fb0e"/>
<polygon points="565.1,196.9 578.5,192.5 596.4,200.4 583,204.4" fill="#f9fb0e" stroke="#f9fb0e"/>
<polygon points="583,204.4 596.4,200.4 614.2,209.5 600.8,213" fill="#f9fb0e" stroke="#f9fb0e"/>
<polygon points="600.8,213 614.2,209.5 632.1,220.4 618.7,223.2" fill="#f9fb0e" stroke="#f9fb0e"/>
<polygon points="618.7,223.2 632.1,220.4 649.9,234.6 636.5,237.1" fill="#f6f313" stroke="#f6f313"/>
<polygon points="636.5,237.1 649.9,234.6 667.8,250.3 654.4,252.5" fill="#f5e41d" stroke="#f5e41d"/>
<polygon points="654.4,252.5 667.8,250.3 685.6,267.8 672.2,269.8" fill="#f5de21" stroke="#f5de21"/>
<polygon points="672.2,269.8 685.6,267.8 703.5,287.6 690.1,289" fill="#fad32a" stroke="#fad32a"/>
<polygon points="690.1,289 703.5,287.6 721.3,307.7 707.9,309.1" fill="#ffc337" stroke="#ffc337"/>
<polygon points="707.9,309.1 721.3,307.7 739.2,328 725.8,329.3" fill="#f8bb44" stroke="#f8bb44"/>
<polygon points="725.8,329.3 739.2,328 757,348.5 743.6,350" fill="#e1b952" stroke="#e1b952"/>
<polygon points="743.6,350 757,348.5 774.9,369.3 761.5,370.8" fill="#c8bc5d" stroke="#c8bc5d"/>
<polygon points="761.5,370.8 774.9,369.3 792.7,390.4 779.3,391.8" fill="#b7bd64" stroke="#b7bd64"/>
<polygon points="779.3,391.8 792.7,390.4 810.6,412.1 797.2,413.6" fill="#9cbf6f" stroke="#9cbf6f"/>
<polygon points="797.2,413.6 810.6,412.1 828.4,433.6 815,435.3" fill="#7cbf7b" stroke="#7cbf7b"/>
<polygon points="815,435.3 828.4,433.6 846.3,455.3 832.9,457" fill="#59bd8c" stroke="#59bd8c"/>
<polygon points="832.9,457 846.3,455.3 864.1,476.8 850.7,478.6" fill="#42bb98" stroke="#42bb98"/>
<polygon points="850.7,478.6 864.1,476.8 882,498 868.6,500.1" fill="#25b5a9" stroke="#25b5a9"/>
<polygon points="868.6,500.1 882,498 899.8,519.4 886.4,521.6" fill="#0faeb9" stroke="#0faeb9"/>
<polygon points="886.4,521.6 899.8,519.4 917.7,540.3 904.3,542.6" fill="#06a7c6" stroke="#06a7c6"/>
<polygon points="904.3,542.6 917.7,540.3 935.5,560.7 922.1,563.2" fill="#079ccf" stroke="#079ccf"/>
<polygon points="922.1,563.2 935.5,560.7 953.4,580.2 940,582.9" fill="#0c93d2" stroke="#0c93d2"/>
<polygon points="940,582.9 953.4,580.2 971.2,600 957.8,602.9" fill="#1485d4" stroke="#1485d4"/>
<polygon points="957.8,602.9 971.2,600 989.1,619.3 975.7,622.4" fill="#127dd8" stroke="#127dd8"/>
<polygon points="975.7,622.4 989.1,619.3 1006.9,638.3 993.5,641.5" fill="#0871de" stroke="#0871de"/>
<polygon points="993.5,641.5 1006.9,638.3 1024.8,656.8 1011.4,660.1" fill="#0268e1" stroke="#0268e1"/>
<polygon points="1011.4,660.1 1024.8,656.8 1042.6,674.2 1029.2,677.7" fill="#0f5cdd" stroke="#0f5cdd"/>
<polygon points="1029.2,677.7 1042.6,674.2 1060.5,691.5 1047.1,695.2" fill="#2c4ac7" stroke="#2c4ac7"/>
<polygon points="498.2,182 511.6,177.5 529.4,183.9 516.1,188.4" fill="#f9fb0e" stroke="#f9fb0e"/>
<polygon points="516.1,188.4 529.4,183.9 547.3,190.2 533.9,194.8" fill="#f9fb0e" stroke="#f9fb0e"/>
<polygon points="533.9,194.8 547.3,190.2 565.1,196.9 551.8,201.2" fill="#f9fb0e" stroke="#f9fb0e"/>
<polygon points="551.8,201.2 565.1,196.9 583,204.4 569.6,208.4" fill="#f9fb0e" stroke="#f9fb0e"/>
<polygon points="569.6,208.4 583,204.4 600.8,213 587.5,216.9" fill="#f9fb0e" stroke="#f9fb0e"/>
<polygon points="587.5,216.9 600.8,213 618.7,223.2 605.3,226.8" fill="#f9fb0e" stroke="#f9fb0e"/>
<polygon points="605.3,226.8 618.7,223.2 636.5,237.1 623.2,239.7" fill="#f6f313" stroke="#f6f313"/>
<polygon points="623.2,239.7 636.5,237.1 654.4,252.5 641,254.7" fill="#f5eb18" stroke="#f5eb18"/>
<polygon points="641,254.7 654.4,252.5 672.2,269.8 658.9,271.7" fill="#f5de21" stroke="#f5de21"/>
<polygon points="658.9,271.7 672.2,269.8 690.1,289 676.7,290.5" fill="#fad32a" stroke="#fad32a"/>
<polygon points="676.7,290.5 690.1,289 707.9,309.1 694.6,310.6" fill="#fec832" stroke="#fec832"/>
<polygon points="694.6,310.6 707.9,309.1 725.8,329.3 712.4,330.6" fill="#f8bb44" stroke="#f8bb44"/>
<polygon points="712.4,330.6 725.8,329.3 743.6,350 730.3,351.4" fill="#e9b94e" stroke="#e9b94e"/>
<polygon points="730.3,351.4 743.6,350 761.5,370.8 748.1,372.3" fill="#d1bb59" stroke="#d1bb59"/>
<polygon points="748.1,372.3 761.5,370.8 779.3,391.8 766,393.4" fill="#b7bd64" stroke="#b7bd64"/>
<polygon points="766,393.4 779.3,391.8 797.2,413.6 783.8,415.1" fill="#a5be6b" stroke="#a5be6b"/>
<polygon points="783.8,415.1 797.2,413.6 815,435.3 801.7,436.9" fill="#87bf77" stroke="#87bf77"/>
<polygon points="801.7,436.9 815,435.3 832.9,457 819.5,458.7" fill="#65be86" stroke="#65be86"/>
<polygon points="819.5,458.7 832.9,457 850.7,478.6 837.4,480.5" fill="#42bb98" stroke="#42bb98"/>
<polygon points="837.4,480.5 850.7,478.6 868.6,500.1 855.2,502.1" fill="#25b5a9" stroke="#25b5a9"/>
<polygon points="855.2,502.1 868.6,500.1 886.4,521.6 873.1,523.8" fill="#0faeb9" stroke="#0faeb9"/>
<polygon points="873.1,523.8 886.4,521.6 904.3,542.6 890.9,544.9" fill="#07a9c2" stroke="#07a9c2"/>
<polygon points="890.9,544.9 904.3,542.6 922.1,563.2 908.8,565.7" fill="#06a0cd" stroke="#06a0cd"/>
<polygon points="908.8,565.7 922.1,563.2 940,582.9 926.6,585.7" fill="#0c93d2" stroke="#0c93d2"/>
<polygon points="926.6,585.7 940,582.9 957.8,602.9 944.5,605.7" fill="#1389d3" stroke="#1389d3"/>
<polygon points="944.5,605.7 957.8,602.9 975.7,622.4 962.3,625.5" fill="#127dd8" stroke="#127dd8"/>
<polygon points="962.3,625.5 975.7,622.4 993.5,641.5 980.2,644.7" fill="#0d75dc" stroke="#0d75dc"/>
<polygon points="980.2,644.7 993.5,641.5 1011.4,660.1 998,663.4" fill="#0268e1" stroke="#0268e1"/>
<polygon points="998,663.4 1011.4,660.1 1029.2,677.7 1015.9,681.2" fill="#0f5cdd" stroke="#0f5cdd"/>
<polygon points="1015.9,681.2 1029.2,677.7 1047.1,695.2 1033.7,698.8" fill="#2c4ac7" stroke="#2c4ac7"/>
<polygon points="484.9,186.6 498.2,182 516.1,188.4 502.7,193" fill="#f9fb0e" stroke="#f9fb0e"/>
<polygon points="502.7,193 516.1,188.4 533.9,194.8 520.5,199.3" fill="#f9fb0e" stroke="#f9fb0e"/>
<polygon points="520.5,199.3 533.9,194.8 551.8,201.2 538.4,205.7" fill="#f9fb0e" stroke="#f9fb0e"/>
<polygon points="538.4,205.7 551.8,201.2 569.6,208.4 556.2,212.7" fill="#f9fb0e" stroke="#f9fb0e"/>
<polygon points="556.2,212.7 569.6,208.4 587.5,216.9 574.1,220.8" fill="#f9fb0e" stroke="#f9fb0e"/>
<polygon points="574.1,220.8 587.5,216.9 605.3,226.8 592,230.4" fill="#f9fb0e" stroke="#f9fb0e"/>
<polygon points="592,230.4 605.3,226.8 623.2,239.7 609.8,242.3" fill="#f6f313" stroke="#f6f313"/>
<polygon points="609.8,242.3 623.2,239.7 641,254.7 627.7,256.9" fill="#f5eb18" stroke="#f5eb18"/>
<polygon points="627.7,256.9 641,254.7 658.9,271.7 645.5,273.7" fill="#f5e41d" stroke="#f5e41d"/>
<polygon points="645.5,273.7 658.9,271.7 676.7,290.5 663.4,291.9" fill="#f7d826" stroke="#f7d826"/>
<polygon points="663.4,291.9 676.7,290.5 694.6,310.6 681.2,312" fill="#fec832" stroke="#fec832"/>
<polygon points="681.2,312 694.6,310.6 712.4,330.6 699.1,332.1" fill="#fdbe3d" stroke="#fdbe3d"/>
<polygon points="699.1,332.1 712.4,330.6 730.3,351.4 716.9,352.9" fill="#e9b94e" stroke="#e9b94e"/>
<polygon points="716.9,352.9 730.3,351.4 748.1,372.3 734.8,373.8" fill="#d9ba56" stroke="#d9ba56"/>
<polygon points="734.8,373.8 748.1,372.3 766,393.4 752.6,395" fill="#c0bc60" stroke="#c0bc60"/>
<polygon points="752.6,395 766,393.4 783.8,415.1 770.5,416.6" fill="#a5be6b" stroke="#a5be6b"/>
<polygon points="770.5,416.6 783.8,415.1 801.7,436.9 788.3,438.5" fill="#87bf77" stroke="#87bf77"/>
<polygon points="788.3,438.5 801.7,436.9 819.5,458.7 806.1,460.5" fill="#65be86" stroke="#65be86"/>
<polygon points="806.1,460.5 819.5,458.7 837.4,480.5 824,482.3" fill="#4dbc92" stroke="#4dbc92"/>
<polygon points="824,482.3 837.4,480.5 855.2,502.1 841.9,504.1" fill="#2eb7a4" stroke="#2eb7a4"/>
<polygon points="841.9,504.1 855.2,502.1 873.1,523.8 859.7,526" fill="#15b1b4" stroke="#15b1b4"/>
<polygon points="859.7,526 873.1,523.8 890.9,544.9 877.6,547.2" fill="#07a9c2" stroke="#07a9c2"/>
<polygon points="877.6,547.2 890.9,544.9 908.8,565.7 895.4,568.2" fill="#06a0cd" stroke="#06a0cd"/>
<polygon points="895.4,568.2 908.8,565.7 926.6,585.7 913.3,588.4" fill="#0998d1" stroke="#0998d1"/>
<polygon points="913.3,588.4 926.6,585.7 944.5,605.7 931.1,608.5" fill="#1389d3" stroke="#1389d3"/>
<polygon points="931.1,608.5 944.5,605.7 962.3,625.5 949,628.5" fill="#127dd8" stroke="#127dd8"/>
<polygon points="949,628.5 962.3,625.5 980.2,644.7 966.8,647.9" fill="#0d75dc" stroke="#0d75dc"/>
<polygon points="966.8,647.9 980.2,644.7 998,663.4 984.7,666.8" fill="#0268e1" stroke="#0268e1"/>
<polygon points="984.7,666.8 998,663.4 1015.9,681.2 1002.5,684.7" fill="#0f5cdd" stroke="#0f5cdd"/>
<polygon points="1002.5,684.7 1015.9,681.2 1033.7,698.8 1020.4,702.5" fill="#2c4ac7" stroke="#2c4ac7"/>
<polygon points="471.5,191.2 484.9,186.6 502.7,193 489.3,197.5" fill="#f9fb0e" stroke="#f9fb0e"/>
<polygon points="489.3,197.5 502.7,193 520.5,199.3 507.2,203.9" fill="#f9fb0e" stroke="#f9fb0e"/>
<polygon points="507.2,203.9 520.5,199.3 538.4,205.7 525,210.2" fill="#f9fb0e" stroke="#f9fb0e"/>
<polygon points="525,210.2 538.4,205.7 556.2,212.7 542.9,217.1" fill="#f9fb0e" stroke="#f9fb0e"/>
<polygon points="542.9,217.1 556.2,212.7 574.1,220.8 560.7,224.8" fill="#f9fb0e" stroke="#f9fb0e"/>
<polygon points="560.7,224.8 574.1,220.8 592,230.4 578.6,233.9" fill="#f9fb0e" stroke="#f9fb0e"/>
<polygon points="578.6,233.9 592,230.4 609.8,242.3 596.4,244.9" fill="#f6f313" stroke="#f6f313"/>
<polygon points="596.4,244.9 609.8,242.3 627.7,256.9 614.3,259.1" fill="#f5eb18" stroke="#f5eb18"/>
<polygon points="614.3,259.1 627.7,256.9 645.5,273.7 632.1,275.7" fill="#f5e41d" stroke="#f5e41d"/>
<polygon points="632.1,275.7 645.5,273.7 663.4,291.9 650,293.6" fill="#f7d826" stroke="#f7d826"/>
<polygon points="650,293.6 663.4,291.9 681.2,312 667.8,313.5" fill="#fcce2e" stroke="#fcce2e"/>
<polygon points="667.8,313.5 681.2,312 699.1,332.1 685.7,333.6" fill="#fdbe3d" stroke="#fdbe3d"/>
<polygon points="685.7,333.6 699.1,332.1 716.9,352.9 703.5,354.3" fill="#f1b94a" stroke="#f1b94a"/>
<polygon points="703.5,354.3 716.9,352.9 734.8,373.8 721.4,375.4" fill="#d9ba56" stroke="#d9ba56"/>
<polygon points="721.4,375.4 734.8,373.8 752.6,395 739.2,396.5" fill="#c0bc60" stroke="#c0bc60"/>
<polygon points="739.2,396.5 752.6,395 770.5,416.6 757.1,418.1" fill="#aebe67" stroke="#aebe67"/>
<polygon points="757.1,418.1 770.5,416.6 788.3,438.5 774.9,440.1" fill="#92bf73" stroke="#92bf73"/>
<polygon points="774.9,440.1 788.3,438.5 806.1,460.5 792.8,462.2" fill="#71bf80" stroke="#71bf80"/>
<polygon points="792.8,462.2 806.1,460.5 824,482.3 810.6,484.2" fill="#4dbc92" stroke="#4dbc92"/>
<polygon points="810.6,484.2 824,482.3 841.9,504.1 828.5,506.1" fill="#2eb7a4" stroke="#2eb7a4"/>
<polygon points="828.5,506.1 841.9,504.1 859.7,526 846.3,528.1" fill="#15b1b4" stroke="#15b1b4"/>
<polygon points="846.3,528.1 859.7,526 877.6,547.2 864.2,549.5" fill="#07a9c2" stroke="#07a9c2"/>
<polygon points="864.2,549.5 877.6,547.2 895.4,568.2 882,570.6" fill="#06a4ca" stroke="#06a4ca"/>
<polygon points="882,570.6 895.4,568.2 913.3,588.4 899.9,591.2" fill="#0998d1" stroke="#0998d1"/>
<polygon points="899.9,591.2 913.3,588.4 931.1,608.5 917.7,611.4" fill="#1389d3" stroke="#1389d3"/>
<polygon points="917.7,611.4 931.1,608.5 949,628.5 935.6,631.6" fill="#1481d6" stroke="#1481d6"/>
<polygon points="935.6,631.6 949,628.5 966.8,647.9 953.4,651" fill="#0d75dc" stroke="#0d75dc"/>
<polygon points="953.4,651 966.8,647.9 984.7,666.8 971.3,670.1" fill="#046de0" stroke="#046de0"/>
<polygon points="971.3,670.1 984.7,666.8 1002.5,684.7 989.1,688.2" fill="#0f5cdd" stroke="#0f5cdd"/>
<polygon points="989.1,688.2 1002.5,684.7 1020.4,702.5 1007,706.1" fill="#2c4ac7" stroke="#2c4ac7"/>
<polygon points="458.1,195.8 471.5,191.2 489.3,197.5 476,202.1" fill="#f9fb0e" stroke="#f9fb0e"/>
<polygon points="476,202.1 489.3,197.5 507.2,203.9 493.8,208.4" fill="#f9fb0e" stroke="#f9fb0e"/>
<polygon points="493.8,208.4 507.2,203.9 525,210.2 511.7,214.8" fill="#f9fb0e" stroke="#f9fb0e"/>
<polygon points="511.7,214.8 525,210.2 542.9,217.1 529.5,221.4" fill="#f9fb0e" stroke="#f9fb0e"/>
<polygon points="529.5,221.4 542.9,217.1 560.7,224.8 547.4,228.8" fill="#f9fb0e" stroke="#f9fb0e"/>
<polygon points="547.4,228.8 560.7,224.8 578.6,233.9 565.2,237.5" fill="#f9fb0e" stroke="#f9fb0e"/>
<polygon points="565.2,237.5 578.6,233.9 596.4,244.9 583.1,247.7" fill="#f9fb0e" stroke="#f9fb0e"/>
<polygon points="583.1,247.7 596.4,244.9 614.3,259.1 600.9,261.7" fill="#f6f313" stroke="#f6f313"/>
<polygon points="600.9,261.7 614.3,259.1 632.1,275.7 618.8,277.9" fill="#f5e41d" stroke="#f5e41d"/>
<polygon points="618.8,277.9 632.1,275.7 650,293.6 636.6,295.6" fill="#f5de21" stroke="#f5de21"/>
<polygon points="636.6,295.6 650,293.6 667.8,313.5 654.5,315" fill="#fcce2e" stroke="#fcce2e"/>
<polygon points="654.5,315 667.8,313.5 685.7,333.6 672.3,335.1" fill="#ffc337" stroke="#ffc337"/>
<polygon points="672.3,335.1 685.7,333.6 703.5,354.3 690.2,355.8" fill="#f1b94a" stroke="#f1b94a"/>
<polygon points="690.2,355.8 703.5,354.3 721.4,375.4 708,376.9" fill="#e1b952" stroke="#e1b952"/>
<polygon points="708,376.9 721.4,375.4 739.2,396.5 725.9,398.1" fill="#c8bc5d" stroke="#c8bc5d"/>
<polygon points="725.9,398.1 739.2,396.5 757.1,418.1 743.7,419.6" fill="#aebe67" stroke="#aebe67"/>
<polygon points="743.7,419.6 757.1,418.1 774.9,440.1 761.6,441.7" fill="#92bf73" stroke="#92bf73"/>
<polygon points="761.6,441.7 774.9,440.1 792.8,462.2 779.4,463.9" fill="#7cbf7b" stroke="#7cbf7b"/>
<polygon points="779.4,463.9 792.8,462.2 810.6,484.2 797.3,486" fill="#59bd8c" stroke="#59bd8c"/>
<polygon points="797.3,486 810.6,484.2 828.5,506.1 815.1,508.1" fill="#38b99e" stroke="#38b99e"/>
<polygon points="815.1,508.1 828.5,506.1 846.3,528.1 833,530.2" fill="#1db3af" stroke="#1db3af"/>
<polygon points="833,530.2 846.3,528.1 864.2,549.5 850.8,551.9" fill="#0aacbe" stroke="#0aacbe"/>
<polygon points="850.8,551.9 864.2,549.5 882,570.6 868.7,573.1" fill="#06a4ca" stroke="#06a4ca"/>
<polygon points="868.7,573.1 882,570.6 899.9,591.2 886.5,594" fill="#0998d1" stroke="#0998d1"/>
<polygon points="886.5,594 899.9,591.2 917.7,611.4 904.4,614.2" fill="#108ed2" stroke="#108ed2"/>
<polygon points="904.4,614.2 917.7,611.4 935.6,631.6 922.2,634.7" fill="#1481d6" stroke="#1481d6"/>
<polygon points="922.2,634.7 935.6,631.6 953.4,651 940.1,654.2" fill="#0d75dc" stroke="#0d75dc"/>
<polygon points="940.1,654.2 953.4,651 971.3,670.1 957.9,673.4" fill="#046de0" stroke="#046de0"/>
<polygon points="957.9,673.4 971.3,670.1 989.1,688.2 975.8,691.7" fill="#0363e1" stroke="#0363e1"/>
<polygon points="975.8,691.7 989.1,688.2 1007,706.1 993.6,709.8" fill="#2c4ac7" stroke="#2c4ac7"/>
<polygon points="444.7,200.3 458.1,195.8 476,202.1 462.6,206.7" fill="#f9fb0e" stroke="#f9fb0e"/>
<polygon points="462.6,206.7 476,202.1 493.8,208.4 480.4,213" fill="#f9fb0e" stroke="#f9fb0e"/>
<polygon points="480.4,213 493.8,208.4 511.7,214.8 498.3,219.3" fill="#f9fb0e" stroke="#f9fb0e"/>
<polygon points="498.3,219.3 511.7,214.8 529.5,221.4 516.1,225.8" fill="#f9fb0e" stroke="#f9fb0e"/>
<polygon points="516.1,225.8 529.5,221.4 547.4,228.8 534,232.9" fill="#f9fb0e" stroke="#f9fb0e"/>
<polygon points="534,232.9 547.4,228.8 565.2,237.5 551.8,241.4" fill="#f9fb0e" stroke="#f9fb0e"/>
<polygon points="551.8,241.4 565.2,237.5 583.1,247.7 569.7,251.4" fill="#f9fb0e" stroke="#f9fb0e"/>
<polygon points="569.7,251.4 583.1,247.7 600.9,261.7 587.5,264.4" fill="#f6f313" stroke="#f6f313"/>
<polygon points="587.5,264.4 600.9,261.7 618.8,277.9 605.4,280.2" fill="#f5eb18" stroke="#f5eb18"/>
<polygon points="605.4,280.2 618.8,277.9 636.6,295.6 623.2,297.6" fill="#f5de21" stroke="#f5de21"/>
<polygon points="623.2,297.6 636.6,295.6 654.5,315 641.1,316.6" fill="#fad32a" stroke="#fad32a"/>
<polygon points="641.1,316.6 654.5,315 672.3,335.1 658.9,336.7" fill="#fec832" stroke="#fec832"/>
<polygon points="658.9,336.7 672.3,335.1 690.2,355.8 676.8,357.2" fill="#f8bb44" stroke="#f8bb44"/>
<polygon points="676.8,357.2 690.2,355.8 708,376.9 694.6,378.5" fill="#e1b952" stroke="#e1b952"/>
<polygon points="694.6,378.5 708,376.9 725.9,398.1 712.5,399.6" fill="#d1bb59" stroke="#d1bb59"/>
<polygon points="712.5,399.6 725.9,398.1 743.7,419.6 730.3,421.2" fill="#b7bd64" stroke="#b7bd64"/>
<polygon points="730.3,421.2 743.7,419.6 761.6,441.7 748.2,443.4" fill="#9cbf6f" stroke="#9cbf6f"/>
<polygon points="748.2,443.4 761.6,441.7 779.4,463.9 766,465.7" fill="#7cbf7b" stroke="#7cbf7b"/>
<polygon points="766,465.7 779.4,463.9 797.3,486 783.9,487.9" fill="#59bd8c" stroke="#59bd8c"/>
<polygon points="783.9,487.9 797.3,486 815.1,508.1 801.7,510" fill="#38b99e" stroke="#38b99e"/>
<polygon points="801.7,510 815.1,508.1 833,530.2 819.6,532.4" fill="#1db3af" stroke="#1db3af"/>
<polygon points="819.6,532.4 833,530.2 850.8,551.9 837.4,554.2" fill="#0aacbe" stroke="#0aacbe"/>
<polygon points="837.4,554.2 850.8,551.9 868.7,573.1 855.3,575.6" fill="#06a4ca" stroke="#06a4ca"/>
<polygon points="855.3,575.6 868.7,573.1 886.5,594 873.1,596.7" fill="#079ccf" stroke="#079ccf"/>
<polygon points="873.1,596.7 886.5,594 904.4,614.2 891,617" fill="#108ed2" stroke="#108ed2"/>
<polygon points="891,617 904.4,614.2 922.2,634.7 908.8,637.6" fill="#1481d6" stroke="#1481d6"/>
<polygon points="908.8,637.6 922.2,634.7 940.1,654.2 926.7,657.4" fill="#1079da" stroke="#1079da"/>
<polygon points="926.7,657.4 940.1,654.2 957.9,673.4 944.5,676.7" fill="#046de0" stroke="#046de0"/>
<polygon points="944.5,676.7 957.9,673.4 975.8,691.7 962.4,695.2" fill="#0363e1" stroke="#0363e1"/>
<polygon points="962.4,695.2 975.8,691.7 993.6,709.8 980.2,713.4" fill="#2053d4" stroke="#2053d4"/>
<polygon points="431.4,204.9 444.7,200.3 462.6,206.7 449.2,211.2" fill="#f9fb0e" stroke="#f9fb0e"/>
<polygon points="449.2,211.2 462.6,206.7 480.4,213 467.1,217.5" fill="#f9fb0e" stroke="#f9fb0e"/>
<polygon points="467.1,217.5 480.4,213 498.3,219.3 484.9,223.9" fill="#f9fb0e" stroke="#f9fb0e"/>
<polygon points="484.9,223.9 498.3,219.3 516.1,225.8 502.8,230.3" fill="#f9fb0e" stroke="#f9fb0e"/>
<polygon points="502.8,230.3 516.1,225.8 534,232.9 520.6,237.3" fill="#f9fb0e" stroke="#f9fb0e"/>
<polygon points="520.6,237.3 534,232.9 551.8,241.4 538.5,245.4" fill="#f9fb0e" stroke="#f9fb0e"/>
<polygon points="538.5,245.4 551.8,241.4 569.7,251.4 556.3,255" fill="#f9fb0e" stroke="#f9fb0e"/>
<polygon points="556.3,255 569.7,251.4 587.5,264.4 574.2,267" fill="#f6f313" stroke="#f6f313"/>
<polygon points="574.2,267 587.5,264.4 605.4,280.2 592,282.4" fill="#f5eb18" stroke="#f5eb18"/>
<polygon points="592,282.4 605.4,280.2 623.2,297.6 609.9,299.6" fill="#f5de21" stroke="#f5de21"/>
<polygon points="609.9,299.6 623.2,297.6 641.1,316.6 627.7,318.1" fill="#fad32a" stroke="#fad32a"/>
<polygon points="627.7,318.1 641.1,316.6 658.9,336.7 645.6,338.2" fill="#fec832" stroke="#fec832"/>
<polygon points="645.6,338.2 658.9,336.7 676.8,357.2 663.4,358.7" fill="#fdbe3d" stroke="#fdbe3d"/>
<polygon points="663.4,358.7 676.8,357.2 694.6,378.5 681.3,380" fill="#e9b94e" stroke="#e9b94e"/>
<polygon points="681.3,380 694.6,378.5 712.5,399.6 699.1,401.3" fill="#d1bb59" stroke="#d1bb59"/>
<polygon points="699.1,401.3 712.5,399.6 730.3,421.2 717,422.9" fill="#b7bd64" stroke="#b7bd64"/>
<polygon points="717,422.9 730.3,421.2 748.2,443.4 734.8,445" fill="#a5be6b" stroke="#a5be6b"/>
<polygon points="734.8,445 748.2,443.4 766,465.7 752.7,467.4" fill="#87bf77" stroke="#87bf77"/>
<polygon points="752.7,467.4 766,465.7 783.9,487.9 770.5,489.7" fill="#65be86" stroke="#65be86"/>
<polygon points="770.5,489.7 783.9,487.9 801.7,510 788.4,512" fill="#42bb98" stroke="#42bb98"/>
<polygon points="788.4,512 801.7,510 819.6,532.4 806.2,534.5" fill="#25b5a9" stroke="#25b5a9"/>
<polygon points="806.2,534.5 819.6,532.4 837.4,554.2 824.1,556.5" fill="#0faeb9" stroke="#0faeb9"/>
<polygon points="824.1,556.5 837.4,554.2 855.3,575.6 841.9,578" fill="#06a7c6" stroke="#06a7c6"/>
<polygon points="841.9,578 855.3,575.6 873.1,596.7 859.8,599.4" fill="#079ccf" stroke="#079ccf"/>
<polygon points="859.8,599.4 873.1,596.7 891,617 877.6,619.9" fill="#108ed2" stroke="#108ed2"/>
<polygon points="877.6,619.9 891,617 908.8,637.6 895.5,640.6" fill="#1485d4" stroke="#1485d4"/>
<polygon points="895.5,640.6 908.8,637.6 926.7,657.4 913.3,660.6" fill="#1079da" stroke="#1079da"/>
<polygon points="913.3,660.6 926.7,657.4 944.5,676.7 931.2,680" fill="#046de0" stroke="#046de0"/>
<polygon points="931.2,680 944.5,676.7 962.4,695.2 949,698.6" fill="#0363e1" stroke="#0363e1"/>
<polygon points="949,698.6 962.4,695.2 980.2,713.4 966.9,717" fill="#2053d4" stroke="#2053d4"/>
<polygon points="418,209.5 431.4,204.9 449.2,211.2 435.9,215.8" fill="#f9fb0e" stroke="#f9fb0e"/>
<polygon points="435.9,215.8 449.2,211.2 467.1,217.5 453.7,222.1" fill="#f9fb0e" stroke="#f9fb0e"/>
<polygon points="453.7,222.1 467.1,217.5 484.9,223.9 471.6,228.4" fill="#f9fb0e" stroke="#f9fb0e"/>
<polygon points="471.6,228.4 484.9,223.9 502.8,230.3 489.4,234.8" fill="#f9fb0e" stroke="#f9fb0e"/>
<polygon points="489.4,234.8 502.8,230.3 520.6,237.3 507.3,241.6" fill="#f9fb0e" stroke="#f9fb0e"/>
<polygon points="507.3,241.6 520.6,237.3 538.5,245.4 525.1,249.4" fill="#f9fb0e" stroke="#f9fb0e"/>
<polygon points="525.1,249.4 538.5,245.4 556.3,255 543,258.6" fill="#f9fb0e" stroke="#f9fb0e"/>
<polygon points="543,258.6 556.3,255 574.2,267 560.8,269.7" fill="#f6f313" stroke="#f6f313"/>
<polygon points="560.8,269.7 574.2,267 592,282.4 578.7,284.7" fill="#f5eb18" stroke="#f5eb18"/>
<polygon points="578.7,284.7 592,282.4 609.9,299.6 596.5,301.6" fill="#f5e41d" stroke="#f5e41d"/>
<polygon points="596.5,301.6 609.9,299.6 627.7,318.1 614.4,319.6" fill="#f7d826" stroke="#f7d826"/>
<polygon points="614.4,319.6 627.7,318.1 645.6,338.2 632.2,339.7" fill="#fcce2e" stroke="#fcce2e"/>
<polygon points="632.2,339.7 645.6,338.2 663.4,358.7 650.1,360.2" fill="#fdbe3d" stroke="#fdbe3d"/>
<polygon points="650.1,360.2 663.4,358.7 681.3,380 667.9,381.5" fill="#f1b94a" stroke="#f1b94a"/>
<polygon points="667.9,381.5 681.3,380 699.1,401.3 685.8,402.9" fill="#d9ba56" stroke="#d9ba56"/>
<polygon points="685.8,402.9 699.1,401.3 717,422.9 703.6,424.5" fill="#c0bc60" stroke="#c0bc60"/>
<polygon points="703.6,424.5 717,422.9 734.8,445 721.5,446.6" fill="#a5be6b" stroke="#a5be6b"/>
<polygon points="721.5,446.6 734.8,445 752.7,467.4 739.3,469.1" fill="#87bf77" stroke="#87bf77"/>
<polygon points="739.3,469.1 752.7,467.4 770.5,489.7 757.2,491.6" fill="#65be86" stroke="#65be86"/>
<polygon points="757.2,491.6 770.5,489.7 788.4,512 775,514" fill="#42bb98" stroke="#42bb98"/>
<polygon points="775,514 788.4,512 806.2,534.5 792.9,536.6" fill="#25b5a9" stroke="#25b5a9"/>
<polygon points="792.9,536.6 806.2,534.5 824.1,556.5 810.7,558.8" fill="#0faeb9" stroke="#0faeb9"/>
<polygon points="810.7,558.8 824.1,556.5 841.9,578 828.6,580.5" fill="#06a7c6" stroke="#06a7c6"/>
<polygon points="828.6,580.5 841.9,578 859.8,599.4 846.4,602" fill="#079ccf" stroke="#079ccf"/>
<polygon points="846.4,602 859.8,599.4 877.6,619.9 864.3,622.8" fill="#0c93d2" stroke="#0c93d2"/>
<polygon points="864.3,622.8 877.6,619.9 895.5,640.6 882.1,643.6" fill="#1485d4" stroke="#1485d4"/>
<polygon points="882.1,643.6 895.5,640.6 913.3,660.6 900,663.8" fill="#1079da" stroke="#1079da"/>
<polygon points="900,663.8 913.3,660.6 931.2,680 917.8,683.3" fill="#0871de" stroke="#0871de"/>
<polygon points="917.8,683.3 931.2,680 949,698.6 935.7,702.1" fill="#0363e1" stroke="#0363e1"/>
<polygon points="935.7,702.1 949,698.6 966.9,717 953.5,720.6" fill="#2053d4" stroke="#2053d4"/>
<polygon points="404.6,214.1 418,209.5 435.9,215.8 422.5,220.4" fill="#f9fb0e" stroke="#f9fb0e"/>
<polygon points="422.5,220.4 435.9,215.8 453.7,222.1 440.3,226.7" fill="#f9fb0e" stroke="#f9fb0e"/>
<polygon points="440.3,226.7 453.7,222.1 471.6,228.4 458.2,233" fill="#f9fb0e" stroke="#f9fb0e"/>
<polygon points="458.2,233 471.6,228.4 489.4,234.8 476,239.4" fill="#f9fb0e" stroke="#f9fb0e"/>
<polygon points="476,239.4 489.4,234.8 507.3,241.6 493.9,246" fill="#f9fb0e" stroke="#f9fb0e"/>
<polygon points="493.9,246 507.3,241.6 525.1,249.4 511.7,253.4" fill="#f9fb0e" stroke="#f9fb0e"/>
<polygon points="511.7,253.4 525.1,249.4 543,258.6 529.6,262.2" fill="#f9fb0e" stroke="#f9fb0e"/>
<polygon points="529.6,262.2 543,258.6 560.8,269.7 547.4,272.5" fill="#f9fb0e" stroke="#f9fb0e"/>
<polygon points="547.4,272.5 560.8,269.7 578.7,284.7 565.3,287.1" fill="#f6f313" stroke="#f6f313"/>
<polygon points="565.3,287.1 578.7,284.7 596.5,301.6 583.1,303.8" fill="#f5e41d" stroke="#f5e41d"/>
<polygon points="583.1,303.8 596.5,301.6 614.4,319.6 601,321.6" fill="#f7d826" stroke="#f7d826"/>
<polygon points="601,321.6 614.4,319.6 632.2,339.7 618.8,341.3" fill="#fcce2e" stroke="#fcce2e"/>
<polygon points="618.8,341.3 632.2,339.7 650.1,360.2 636.7,361.9" fill="#ffc337" stroke="#ffc337"/>
<polygon points="636.7,361.9 650.1,360.2 667.9,381.5 654.5,383.1" fill="#f1b94a" stroke="#f1b94a"/>
<polygon points="654.5,383.1 667.9,381.5 685.8,402.9 672.4,404.6" fill="#d9ba56" stroke="#d9ba56"/>
<polygon points="672.4,404.6 685.8,402.9 703.6,424.5 690.2,426.2" fill="#c0bc60" stroke="#c0bc60"/>
<polygon points="690.2,426.2 703.6,424.5 721.5,446.6 708.1,448.2" fill="#aebe67" stroke="#aebe67"/>
<polygon points="708.1,448.2 721.5,446.6 739.3,469.1 725.9,470.9" fill="#92bf73" stroke="#92bf73"/>
<polygon points="725.9,470.9 739.3,469.1 757.2,491.6 743.8,493.4" fill="#71bf80" stroke="#71bf80"/>
<polygon points="743.8,493.4 757.2,491.6 775,514 761.6,516" fill="#4dbc92" stroke="#4dbc92"/>
<polygon points="761.6,516 775,514 792.9,536.6 779.5,538.8" fill="#2eb7a4" stroke="#2eb7a4"/>
<polygon points="779.5,538.8 792.9,536.6 810.7,558.8 797.3,561" fill="#15b1b4" stroke="#15b1b4"/>
<polygon points="797.3,561 810.7,558.8 828.6,580.5 815.2,582.9" fill="#07a9c2" stroke="#07a9c2"/>
<polygon points="815.2,582.9 828.6,580.5 846.4,602 833,604.6" fill="#06a0cd" stroke="#06a0cd"/>
<polygon points="833,604.6 846.4,602 864.3,622.8 850.9,625.6" fill="#0c93d2" stroke="#0c93d2"/>
<polygon points="850.9,625.6 864.3,622.8 882.1,643.6 868.7,646.5" fill="#1485d4" stroke="#1485d4"/>
<polygon points="868.7,646.5 882.1,643.6 900,663.8 886.6,666.9" fill="#127dd8" stroke="#127dd8"/>
<polygon points="886.6,666.9 900,663.8 917.8,683.3 904.4,686.5" fill="#0871de" stroke="#0871de"/>
<polygon points="904.4,686.5 917.8,683.3 935.7,702.1 922.3,705.5" fill="#0268e1" stroke="#0268e1"/>
<polygon points="922.3,705.5 935.7,702.1 953.5,720.6 940.1,724.3" fill="#2053d4" stroke="#2053d4"/>
<polygon points="391.3,218.6 404.6,214.1 422.5,220.4 409.1,224.9" fill="#f9fb0e" stroke="#f9fb0e"/>
<polygon points="409.1,224.9 422.5,220.4 440.3,226.7 427,231.2" fill="#f9fb0e" stroke="#f9fb0e"/>
<polygon points="427,231.2 440.3,226.7 458.2,233 444.8,237.5" fill="#f9fb0e" stroke="#f9fb0e"/>
<polygon points="444.8,237.5 458.2,233 476,239.4 462.7,243.9" fill="#f9fb0e" stroke="#f9fb0e"/>
<polygon points="462.7,243.9 476,239.4 493.9,246 480.5,250.3" fill="#f9fb0e" stroke="#f9fb0e"/>
<polygon points="480.5,250.3 493.9,246 511.7,253.4 498.4,257.5" fill="#f9fb0e" stroke="#f9fb0e"/>
<polygon points="498.4,257.5 511.7,253.4 529.6,262.2 516.2,266.1" fill="#f9fb0e" stroke="#f9fb0e"/>
<polygon points="516.2,266.1 529.6,262.2 547.4,272.5 534.1,276.1" fill="#f9fb0e" stroke="#f9fb0e"/>
<polygon points="534.1,276.1 547.4,272.5 565.3,287.1 551.9,289.8" fill="#f6f313" stroke="#f6f313"/>
<polygon points="551.9,289.8 565.3,287.1 583.1,303.8 569.8,306.1" fill="#f5eb18" stroke="#f5eb18"/>
<polygon points="569.8,306.1 583.1,303.8 601,321.6 587.6,323.7" fill="#f5de21" stroke="#f5de21"/>
<polygon points="587.6,323.7 601,321.6 618.8,341.3 605.5,343" fill="#fad32a" stroke="#fad32a"/>
<polygon points="605.5,343 618.8,341.3 636.7,361.9 623.3,363.5" fill="#ffc337" stroke="#ffc337"/>
<polygon points="623.3,363.5 636.7,361.9 654.5,383.1 641.2,384.6" fill="#f8bb44" stroke="#f8bb44"/>
<polygon points="641.2,384.6 654.5,383.1 672.4,404.6 659,406.2" fill="#e1b952" stroke="#e1b952"/>
<polygon points="659,406.2 672.4,404.6 690.2,426.2 676.9,427.9" fill="#c8bc5d" stroke="#c8bc5d"/>
<polygon points="676.9,427.9 690.2,426.2 708.1,448.2 694.7,449.9" fill="#aebe67" stroke="#aebe67"/>
<polygon points="694.7,449.9 708.1,448.2 725.9,470.9 712.6,472.6" fill="#92bf73" stroke="#92bf73"/>
<polygon points="712.6,472.6 725.9,470.9 743.8,493.4 730.4,495.3" fill="#71bf80" stroke="#71bf80"/>
<polygon points="730.4,495.3 743.8,493.4 761.6,516 748.3,517.9" fill="#4dbc92" stroke="#4dbc92"/>
<polygon points="748.3,517.9 761.6,516 779.5,538.8 766.1,540.8" fill="#2eb7a4" stroke="#2eb7a4"/>
<polygon points="766.1,540.8 779.5,538.8 797.3,561 784,563.3" fill="#15b1b4" stroke="#15b1b4"/>
<polygon points="784,563.3 797.3,561 815.2,582.9 801.8,585.3" fill="#07a9c2" stroke="#07a9c2"/>
<polygon points="801.8,585.3 815.2,582.9 833,604.6 819.7,607.2" fill="#06a0cd" stroke="#06a0cd"/>
<polygon points="819.7,607.2 833,604.6 850.9,625.6 837.5,628.5" fill="#0c93d2" stroke="#0c93d2"/>
<polygon points="837.5,628.5 850.9,625.6 868.7,646.5 855.4,649.4" fill="#1389d3" stroke="#1389d3"/>
<polygon points="855.4,649.4 868.7,646.5 886.6,666.9 873.2,670.1" fill="#127dd8" stroke="#127dd8"/>
<polygon points="873.2,670.1 886.6,666.9 904.4,686.5 891.1,689.8" fill="#0871de" stroke="#0871de"/>
<polygon points="891.1,689.8 904.4,686.5 922.3,705.5 908.9,709" fill="#0268e1" stroke="#0268e1"/>
<polygon points="908.9,709 922.3,705.5 940.1,724.3 926.8,727.8" fill="#2053d4" stroke="#2053d4"/>
<polygon points="377.9,223.2 391.3,218.6 409.1,224.9 395.8,229.5" fill="#f9fb0e" stroke="#f9fb0e"/>
<polygon points="395.8,229.5 409.1,224.9 427,231.2 413.6,235.8" fill="#f9fb0e" stroke="#f9fb0e"/>
<polygon points="413.6,235.8 427,231.2 444.8,237.5 431.5,242.1" fill="#f9fb0e" stroke="#f9fb0e"/>
<polygon points="431.5,242.1 444.8,237.5 462.7,243.9 449.3,248.5" fill="#f9fb0e" stroke="#f9fb0e"/>
<polygon points="449.3,248.5 462.7,243.9 480.5,250.3 467.2,254.9" fill="#f9fb0e" stroke="#f9fb0e"/>
<polygon points="467.2,254.9 480.5,250.3 498.4,257.5 485,261.9" fill="#f9fb0e" stroke="#f9fb0e"/>
<polygon points="485,261.9 498.4,257.5 516.2,266.1 502.9,270.1" fill="#f9fb0e" stroke="#f9fb0e"/>
<polygon points="502.9,270.1 516.2,266.1 534.1,276.1 520.7,279.8" fill="#f9fb0e" stroke="#f9fb0e"/>
<polygon points="520.7,279.8 534.1,276.1 551.9,289.8 538.6,292.5" fill="#f6f313" stroke="#f6f313"/>
<polygon points="538.6,292.5 551.9,289.8 569.8,306.1 556.4,308.4" fill="#f5eb18" stroke="#f5eb18"/>
<polygon points="556.4,308.4 569.8,306.1 587.6,323.7 574.3,325.7" fill="#f5de21" stroke="#f5de21"/>
<polygon points="574.3,325.7 587.6,323.7 605.5,343 592.1,344.6" fill="#fad32a" stroke="#fad32a"/>
<polygon points="592.1,344.6 605.5,343 623.3,363.5 610,365.1" fill="#fec832" stroke="#fec832"/>
<polygon points="610,365.1 623.3,363.5 641.2,384.6 627.8,386.2" fill="#f8bb44" stroke="#f8bb44"/>
<polygon points="627.8,386.2 641.2,384.6 659,406.2 645.7,407.8" fill="#e1b952" stroke="#e1b952"/>
<polygon points="645.7,407.8 659,406.2 676.9,427.9 663.5,429.5" fill="#d1bb59" stroke="#d1bb59"/>
<polygon points="663.5,429.5 676.9,427.9 694.7,449.9 681.4,451.5" fill="#b7bd64" stroke="#b7bd64"/>
<polygon points="681.4,451.5 694.7,449.9 712.6,472.6 699.2,474.4" fill="#9cbf6f" stroke="#9cbf6f"/>
<polygon points="699.2,474.4 712.6,472.6 730.4,495.3 717.1,497.2" fill="#7cbf7b" stroke="#7cbf7b"/>
<polygon points="717.1,497.2 730.4,495.3 748.3,517.9 734.9,519.9" fill="#59bd8c" stroke="#59bd8c"/>
<polygon points="734.9,519.9 748.3,517.9 766.1,540.8 752.8,542.9" fill="#38b99e" stroke="#38b99e"/>
<polygon points="752.8,542.9 766.1,540.8 784,563.3 770.6,565.5" fill="#1db3af" stroke="#1db3af"/>
<polygon points="770.6,565.5 784,563.3 801.8,585.3 788.5,587.7" fill="#0aacbe" stroke="#0aacbe"/>
<polygon points="788.5,587.7 801.8,585.3 819.7,607.2 806.3,609.7" fill="#06a4ca" stroke="#06a4ca"/>
<polygon points="806.3,609.7 819.7,607.2 837.5,628.5 824.2,631.3" fill="#0998d1" stroke="#0998d1"/>
<polygon points="824.2,631.3 837.5,628.5 855.4,649.4 842,652.3" fill="#1389d3" stroke="#1389d3"/>
<polygon points="842,652.3 855.4,649.4 873.2,670.1 859.9,673.2" fill="#127dd8" stroke="#127dd8"/>
<polygon points="859.9,673.2 873.2,670.1 891.1,689.8 877.7,693" fill="#0d75dc" stroke="#0d75dc"/>
<polygon points="877.7,693 891.1,689.8 908.9,709 895.6,712.4" fill="#0268e1" stroke="#0268e1"/>
<polygon points="895.6,712.4 908.9,709 926.8,727.8 913.4,731.4" fill="#0f5cdd" stroke="#0f5cdd"/>
<polygon points="364.5,227.8 377.9,223.2 395.8,229.5 382.4,234.1" fill="#f9fb0e" stroke="#f9fb0e"/>
<polygon points="382.4,234.1 395.8,229.5 413.6,235.8 400.2,240.4" fill="#f9fb0e" stroke="#f9fb0e"/>
<polygon points="400.2,240.4 413.6,235.8 431.5,242.1 418.1,246.7" fill="#f9fb0e" stroke="#f9fb0e"/>
<polygon points="418.1,246.7 431.5,242.1 449.3,248.5 435.9,253" fill="#f9fb0e" stroke="#f9fb0e"/>
<polygon points="435.9,253 449.3,248.5 467.2,254.9 453.8,259.4" fill="#f9fb0e" stroke="#f9fb0e"/>
<polygon points="453.8,259.4 467.2,254.9 485,261.9 471.6,266.2" fill="#f9fb0e" stroke="#f9fb0e"/>
<polygon points="471.6,266.2 485,261.9 502.9,270.1 489.5,274.1" fill="#f9fb0e" stroke="#f9fb0e"/>
<polygon points="489.5,274.1 502.9,270.1 520.7,279.8 507.3,283.4" fill="#f9fb0e" stroke="#f9fb0e"/>
<polygon points="507.3,283.4 520.7,279.8 538.6,292.5 525.2,295.2" fill="#f6f313" stroke="#f6f313"/>
<polygon points="525.2,295.2 538.6,292.5 556.4,308.4 543,310.7" fill="#f5eb18" stroke="#f5eb18"/>
<polygon points="543,310.7 556.4,308.4 574.3,325.7 560.9,327.8" fill="#f5e41d" stroke="#f5e41d"/>
<polygon points="560.9,327.8 574.3,325.7 592.1,344.6 578.7,346.2" fill="#f7d826" stroke="#f7d826"/>
<polygon points="578.7,346.2 592.1,344.6 610,365.1 596.6,366.7" fill="#fec832" stroke="#fec832"/>
<polygon points="596.6,366.7 610,365.1 627.8,386.2 614.4,387.7" fill="#fdbe3d" stroke="#fdbe3d"/>
<polygon points="614.4,387.7 627.8,386.2 645.7,407.8 632.3,409.5" fill="#e9b94e" stroke="#e9b94e"/>
<polygon points="632.3,409.5 645.7,407.8 663.5,429.5 650.1,431.2" fill="#d1bb59" stroke="#d1bb59"/>
<polygon points="650.1,431.2 663.5,429.5 681.4,451.5 668,453.3" fill="#b7bd64" stroke="#b7bd64"/>
<polygon points="668,453.3 681.4,451.5 699.2,474.4 685.8,476.1" fill="#9cbf6f" stroke="#9cbf6f"/>
<polygon points="685.8,476.1 699.2,474.4 717.1,497.2 703.7,499" fill="#7cbf7b" stroke="#7cbf7b"/>
<polygon points="703.7,499 717.1,497.2 734.9,519.9 721.5,521.9" fill="#59bd8c" stroke="#59bd8c"/>
<polygon points="721.5,521.9 734.9,519.9 752.8,542.9 739.4,545" fill="#38b99e" stroke="#38b99e"/>
<polygon points="739.4,545 752.8,542.9 770.6,565.5 757.2,567.8" fill="#1db3af" stroke="#1db3af"/>
<polygon points="757.2,567.8 770.6,565.5 788.5,587.7 775.1,590.1" fill="#0aacbe" stroke="#0aacbe"/>
<polygon points="775.1,590.1 788.5,587.7 806.3,609.7 792.9,612.3" fill="#06a4ca" stroke="#06a4ca"/>
<polygon points="792.9,612.3 806.3,609.7 824.2,631.3 810.8,634.2" fill="#0998d1" stroke="#0998d1"/>
<polygon points="810.8,634.2 824.2,631.3 842,652.3 828.6,655.3" fill="#1389d3" stroke="#1389d3"/>
<polygon points="828.6,655.3 842,652.3 859.9,673.2 846.5,676.3" fill="#1481d6" stroke="#1481d6"/>
<polygon points="846.5,676.3 859.9,673.2 877.7,693 864.3,696.3" fill="#0d75dc" stroke="#0d75dc"/>
<polygon points="864.3,696.3 877.7,693 895.6,712.4 882.2,715.8" fill="#0268e1" stroke="#0268e1"/>
<polygon points="882.2,715.8 895.6,712.4 913.4,731.4 900,735" fill="#0f5cdd" stroke="#0f5cdd"/>
<polygon points="351.2,232.4 364.5,227.8 382.4,234.1 369,238.7" fill="#f9fb0e" stroke="#f9fb0e"/>
<polygon points="369,238.7 382.4,234.1 400.2,240.4 386.9,244.9" fill="#f9fb0e" stroke="#f9fb0e"/>
<polygon points="386.9,244.9 400.2,240.4 418.1,246.7 404.7,251.2" fill="#f9fb0e" stroke="#f9fb0e"/>
<polygon points="404.7,251.2 418.1,246.7 435.9,253 422.6,257.6" fill="#f9fb0e" stroke="#f9fb0e"/>
<polygon points="422.6,257.6 435.9,253 453.8,259.4 440.4,264" fill="#f9fb0e" stroke="#f9fb0e"/>
<polygon points="440.4,264 453.8,259.4 471.6,266.2 458.3,270.6" fill="#f9fb0e" stroke="#f9fb0e"/>
<polygon points="458.3,270.6 471.6,266.2 489.5,274.1 476.1,278.1" fill="#f9fb0e" stroke="#f9fb0e"/>
<polygon points="476.1,278.1 489.5,274.1 507.3,283.4 494,287" fill="#f9fb0e" stroke="#f9fb0e"/>
<polygon points="494,287 507.3,283.4 525.2,295.2 511.8,298" fill="#f6f313" stroke="#f6f313"/>
<polygon points="511.8,298 525.2,295.2 543,310.7 529.7,312.9" fill="#f6f313" stroke="#f6f313"/>
<polygon points="529.7,312.9 543,310.7 560.9,327.8 547.5,329.9" fill="#f5e41d" stroke="#f5e41d"/>
<polygon points="547.5,329.9 560.9,327.8 578.7,346.2 565.4,347.9" fill="#f7d826" stroke="#f7d826"/>
<polygon points="565.4,347.9 578.7,346.2 596.6,366.7 583.2,368.4" fill="#fcce2e" stroke="#fcce2e"/>
<polygon points="583.2,368.4 596.6,366.7 614.4,387.7 601.1,389.4" fill="#fdbe3d" stroke="#fdbe3d"/>
<polygon points="601.1,389.4 614.4,387.7 632.3,409.5 618.9,411.1" fill="#f1b94a" stroke="#f1b94a"/>
<polygon points="618.9,411.1 632.3,409.5 650.1,431.2 636.8,433" fill="#d9ba56" stroke="#d9ba56"/>
<polygon points="636.8,433 650.1,431.2 668,453.3 654.6,455" fill="#c0bc60" stroke="#c0bc60"/>
<polygon points="654.6,455 668,453.3 685.8,476.1 672.5,477.8" fill="#a5be6b" stroke="#a5be6b"/>
<polygon points="672.5,477.8 685.8,476.1 703.7,499 690.3,500.9" fill="#87bf77" stroke="#87bf77"/>
<polygon points="690.3,500.9 703.7,499 721.5,521.9 708.2,523.8" fill="#65be86" stroke="#65be86"/>
<polygon points="708.2,523.8 721.5,521.9 739.4,545 726,547.1" fill="#42bb98" stroke="#42bb98"/>
<polygon points="726,547.1 739.4,545 757.2,567.8 743.9,570" fill="#25b5a9" stroke="#25b5a9"/>
<polygon points="743.9,570 757.2,567.8 775.1,590.1 761.7,592.5" fill="#0aacbe" stroke="#0aacbe"/>
<polygon points="761.7,592.5 775.1,590.1 792.9,612.3 779.6,614.9" fill="#06a4ca" stroke="#06a4ca"/>
<polygon points="779.6,614.9 792.9,612.3 810.8,634.2 797.4,637" fill="#079ccf" stroke="#079ccf"/>
<polygon points="797.4,637 810.8,634.2 828.6,655.3 815.3,658.2" fill="#108ed2" stroke="#108ed2"/>
<polygon points="815.3,658.2 828.6,655.3 846.5,676.3 833.1,679.4" fill="#1481d6" stroke="#1481d6"/>
<polygon points="833.1,679.4 846.5,676.3 864.3,696.3 851,699.5" fill="#0d75dc" stroke="#0d75dc"/>
<polygon points="851,699.5 864.3,696.3 882.2,715.8 868.8,719.1" fill="#046de0" stroke="#046de0"/>
<polygon points="868.8,719.1 882.2,715.8 900,735 886.7,738.6" fill="#0f5cdd" stroke="#0f5cdd"/>
<polygon points="337.8,237 351.2,232.4 369,238.7 355.7,243.2" fill="#f9fb0e" stroke="#f9fb0e"/>
<polygon points="355.7,243.2 369,238.7 386.9,244.9 373.5,249.5" fill="#f9fb0e" stroke="#f9fb0e"/>
<polygon points="373.5,249.5 386.9,244.9 404.7,251.2 391.4,255.8" fill="#f9fb0e" stroke="#f9fb0e"/>
<polygon points="391.4,255.8 404.7,251.2 422.6,257.6 409.2,262.1" fill="#f9fb0e" stroke="#f9fb0e"/>
<polygon points="409.2,262.1 422.6,257.6 440.4,264 427.1,268.5" fill="#f9fb0e" stroke="#f9fb0e"/>
<polygon points="427.1,268.5 440.4,264 458.3,270.6 444.9,274.9" fill="#f9fb0e" stroke="#f9fb0e"/>
<polygon points="444.9,274.9 458.3,270.6 476.1,278.1 462.8,282.2" fill="#f9fb0e" stroke="#f9fb0e"/>
<polygon points="462.8,282.2 476.1,278.1 494,287 480.6,290.8" fill="#f9fb0e" stroke="#f9fb0e"/>
<polygon points="480.6,290.8 494,287 511.8,298 498.5,301.2" fill="#f9fb0e" stroke="#f9fb0e"/>
<polygon points="498.5,301.2 511.8,298 529.7,312.9 516.3,315.6" fill="#f6f313" stroke="#f6f313"/>
<polygon points="516.3,315.6 529.7,312.9 547.5,329.9 534.2,332.2" fill="#f5e41d" stroke="#f5e41d"/>
<polygon points="534.2,332.2 547.5,329.9 565.4,347.9 552,350.1" fill="#f7d826" stroke="#f7d826"/>
<polygon points="552,350.1 565.4,347.9 583.2,368.4 569.9,370.1" fill="#fcce2e" stroke="#fcce2e"/>
<polygon points="569.9,370.1 583.2,368.4 601.1,389.4 587.7,391.1" fill="#ffc337" stroke="#ffc337"/>
<polygon points="587.7,391.1 601.1,389.4 618.9,411.1 605.6,412.8" fill="#f1b94a" stroke="#f1b94a"/>
<polygon points="605.6,412.8 618.9,411.1 636.8,433 623.4,434.7" fill="#d9ba56" stroke="#d9ba56"/>
<polygon points="623.4,434.7 636.8,433 654.6,455 641.3,456.8" fill="#c0bc60" stroke="#c0bc60"/>
<polygon points="641.3,456.8 654.6,455 672.5,477.8 659.1,479.6" fill="#a5be6b" stroke="#a5be6b"/>
<polygon points="659.1,479.6 672.5,477.8 690.3,500.9 677,502.7" fill="#87bf77" stroke="#87bf77"/>
<polygon points="677,502.7 690.3,500.9 708.2,523.8 694.8,525.8" fill="#65be86" stroke="#65be86"/>
<polygon points="694.8,525.8 708.2,523.8 726,547.1 712.7,549.1" fill="#42bb98" stroke="#42bb98"/>
<polygon points="712.7,549.1 726,547.1 743.9,570 730.5,572.3" fill="#25b5a9" stroke="#25b5a9"/>
<polygon points="730.5,572.3 743.9,570 761.7,592.5 748.4,595" fill="#0faeb9" stroke="#0faeb9"/>
<polygon points="748.4,595 761.7,592.5 779.6,614.9 766.2,617.5" fill="#06a7c6" stroke="#06a7c6"/>
<polygon points="766.2,617.5 779.6,614.9 797.4,637 784.1,639.8" fill="#079ccf" stroke="#079ccf"/>
<polygon points="784.1,639.8 797.4,637 815.3,658.2 801.9,661" fill="#108ed2" stroke="#108ed2"/>
<polygon points="801.9,661 815.3,658.2 833.1,679.4 819.8,682.5" fill="#1481d6" stroke="#1481d6"/>
<polygon points="819.8,682.5 833.1,679.4 851,699.5 837.6,702.7" fill="#0d75dc" stroke="#0d75dc"/>
<polygon points="837.6,702.7 851,699.5 868.8,719.1 855.5,722.5" fill="#046de0" stroke="#046de0"/>
<polygon points="855.5,722.5 868.8,719.1 886.7,738.6 873.3,742.1" fill="#0f5cdd" stroke="#0f5cdd"/>
<polygon points="324.4,241.6 337.8,237 355.7,243.2 342.3,247.8" fill="#f9fb0e" stroke="#f9fb0e"/>
<polygon points="342.3,247.8 355.7,243.2 373.5,249.5 360.1,254.1" fill="#f9fb0e" stroke="#f9fb0e"/>
<polygon points="360.1,254.1 373.5,249.5 391.4,255.8 378,260.4" fill="#f9fb0e" stroke="#f9fb0e"/>
<polygon points="378,260.4 391.4,255.8 409.2,262.1 395.8,266.7" fill="#f9fb0e" stroke="#f9fb0e"/>
<polygon points="395.8,266.7 409.2,262.1 427.1,268.5 413.7,273.1" fill="#f9fb0e" stroke="#f9fb0e"/>
<polygon points="413.7,273.1 427.1,268.5 444.9,274.9 431.5,279.5" fill="#f9fb0e" stroke="#f9fb0e"/>
<polygon points="431.5,279.5 444.9,274.9 462.8,282.2 449.4,286.5" fill="#f9fb0e" stroke="#f9fb0e"/>
<polygon points="449.4,286.5 462.8,282.2 480.6,290.8 467.2,294.9" fill="#f9fb0e" stroke="#f9fb0e"/>
<polygon points="467.2,294.9 480.6,290.8 498.5,301.2 485.1,304.9" fill="#f9fb0e" stroke="#f9fb0e"/>
<polygon points="485.1,304.9 498.5,301.2 516.3,315.6 502.9,318.3" fill="#f6f313" stroke="#f6f313"/>
<polygon points="502.9,318.3 516.3,315.6 534.2,332.2 520.8,334.5" fill="#f5eb18" stroke="#f5eb18"/>
<polygon points="520.8,334.5 534.2,332.2 552,350.1 538.6,352.2" fill="#f5de21" stroke="#f5de21"/>
<polygon points="538.6,352.2 552,350.1 569.9,370.1 556.5,371.8" fill="#fad32a" stroke="#fad32a"/>
<polygon points="556.5,371.8 569.9,370.1 587.7,391.1 574.3,392.8" fill="#ffc337" stroke="#ffc337"/>
<polygon points="574.3,392.8 587.7,391.1 605.6,412.8 592.2,414.4" fill="#f8bb44" stroke="#f8bb44"/>
<polygon points="592.2,414.4 605.6,412.8 623.4,434.7 610,436.5" fill="#e1b952" stroke="#e1b952"/>
<polygon points="610,436.5 623.4,434.7 641.3,456.8 627.9,458.6" fill="#c8bc5d" stroke="#c8bc5d"/>
<polygon points="627.9,458.6 641.3,456.8 659.1,479.6 645.7,481.3" fill="#aebe67" stroke="#aebe67"/>
<polygon points="645.7,481.3 659.1,479.6 677,502.7 663.6,504.6" fill="#92bf73" stroke="#92bf73"/>
<polygon points="663.6,504.6 677,502.7 694.8,525.8 681.4,527.8" fill="#71bf80" stroke="#71bf80"/>
<polygon points="681.4,527.8 694.8,525.8 712.7,549.1 699.3,551.2" fill="#4dbc92" stroke="#4dbc92"/>
<polygon points="699.3,551.2 712.7,549.1 730.5,572.3 717.1,574.5" fill="#25b5a9" stroke="#25b5a9"/>
<polygon points="717.1,574.5 730.5,572.3 748.4,595 735,597.4" fill="#0faeb9" stroke="#0faeb9"/>
<polygon points="735,597.4 748.4,595 766.2,617.5 752.8,620" fill="#06a7c6" stroke="#06a7c6"/>
<polygon points="752.8,620 766.2,617.5 784.1,639.8 770.7,642.6" fill="#079ccf" stroke="#079ccf"/>
<polygon points="770.7,642.6 784.1,639.8 801.9,661 788.5,663.9" fill="#108ed2" stroke="#108ed2"/>
<polygon points="788.5,663.9 801.9,661 819.8,682.5 806.4,685.5" fill="#1481d6" stroke="#1481d6"/>
<polygon points="806.4,685.5 819.8,682.5 837.6,702.7 824.2,705.9" fill="#1079da" stroke="#1079da"/>
<polygon points="824.2,705.9 837.6,702.7 855.5,722.5 842.1,725.8" fill="#046de0" stroke="#046de0"/>
<polygon points="842.1,725.8 855.5,722.5 873.3,742.1 859.9,745.6" fill="#0363e1" stroke="#0363e1"/>
<polygon points="311.1,246.2 324.4,241.6 342.3,247.8 328.9,252.4" fill="#f9fb0e" stroke="#f9fb0e"/>
<polygon points="328.9,252.4 342.3,247.8 360.1,254.1 346.8,258.7" fill="#f9fb0e" stroke="#f9fb0e"/>
<polygon points="346.8,258.7 360.1,254.1 378,260.4 364.6,265" fill="#f9fb0e" stroke="#f9fb0e"/>
<polygon points="364.6,265 378,260.4 395.8,266.7 382.5,271.3" fill="#f9fb0e" stroke="#f9fb0e"/>
<polygon points="382.5,271.3 395.8,266.7 413.7,273.1 400.3,277.6" fill="#f9fb0e" stroke="#f9fb0e"/>
<polygon points="400.3,277.6 413.7,273.1 431.5,279.5 418.2,284" fill="#f9fb0e" stroke="#f9fb0e"/>
<polygon points="418.2,284 431.5,279.5 449.4,286.5 436,290.9" fill="#f9fb0e" stroke="#f9fb0e"/>
<polygon points="436,290.9 449.4,286.5 467.2,294.9 453.9,298.9" fill="#f9fb0e" stroke="#f9fb0e"/>
<polygon points="453.9,298.9 467.2,294.9 485.1,304.9 471.7,308.5" fill="#f9fb0e" stroke="#f9fb0e"/>
<polygon points="471.7,308.5 485.1,304.9 502.9,318.3 489.6,321.1" fill="#f6f313" stroke="#f6f313"/>
<polygon points="489.6,321.1 502.9,318.3 520.8,334.5 507.4,336.9" fill="#f5eb18" stroke="#f5eb18"/>
<polygon points="507.4,336.9 520.8,334.5 538.6,352.2 525.3,354.3" fill="#f5de21" stroke="#f5de21"/>
<polygon points="525.3,354.3 538.6,352.2 556.5,371.8 543.1,373.5" fill="#fad32a" stroke="#fad32a"/>
<polygon points="543.1,373.5 556.5,371.8 574.3,392.8 561,394.5" fill="#fec832" stroke="#fec832"/>
<polygon points="561,394.5 574.3,392.8 592.2,414.4 578.8,416" fill="#f8bb44" stroke="#f8bb44"/>
<polygon points="578.8,416 592.2,414.4 610,436.5 596.7,438.2" fill="#e1b952" stroke="#e1b952"/>
<polygon points="596.7,438.2 610,436.5 627.9,458.6 614.5,460.4" fill="#c8bc5d" stroke="#c8bc5d"/>
<polygon points="614.5,460.4 627.9,458.6 645.7,481.3 632.4,483" fill="#aebe67" stroke="#aebe67"/>
<polygon points="632.4,483 645.7,481.3 663.6,504.6 650.2,506.4" fill="#92bf73" stroke="#92bf73"/>
<polygon points="650.2,506.4 663.6,504.6 681.4,527.8 668.1,529.8" fill="#71bf80" stroke="#71bf80"/>
<polygon points="668.1,529.8 681.4,527.8 699.3,551.2 685.9,553.3" fill="#4dbc92" stroke="#4dbc92"/>
<polygon points="685.9,553.3 699.3,551.2 717.1,574.5 703.8,576.7" fill="#2eb7a4" stroke="#2eb7a4"/>
<polygon points="703.8,576.7 717.1,574.5 735,597.4 721.6,599.7" fill="#15b1b4" stroke="#15b1b4"/>
<polygon points="721.6,599.7 735,597.4 752.8,620 739.5,622.6" fill="#07a9c2" stroke="#07a9c2"/>
<polygon points="739.5,622.6 752.8,620 770.7,642.6 757.3,645.3" fill="#06a0cd" stroke="#06a0cd"/>
<polygon points="757.3,645.3 770.7,642.6 788.5,663.9 775.2,666.8" fill="#0c93d2" stroke="#0c93d2"/>
<polygon points="775.2,666.8 788.5,663.9 806.4,685.5 793,688.5" fill="#1485d4" stroke="#1485d4"/>
<polygon points="793,688.5 806.4,685.5 824.2,705.9 810.9,709" fill="#1079da" stroke="#1079da"/>
<polygon points="810.9,709 824.2,705.9 842.1,725.8 828.7,729.1" fill="#046de0" stroke="#046de0"/>
<polygon points="828.7,729.1 842.1,725.8 859.9,745.6 846.6,749.1" fill="#0363e1" stroke="#0363e1"/>
<polygon points="297.7,250.8 311.1,246.2 328.9,252.4 315.6,257" fill="#f9fb0e" stroke="#f9fb0e"/>
<polygon points="315.6,257 328.9,252.4 346.8,258.7 333.4,263.3" fill="#f9fb0e" stroke="#f9fb0e"/>
<polygon points="333.4,263.3 346.8,258.7 364.6,265 351.3,269.5" fill="#f9fb0e" stroke="#f9fb0e"/>
<polygon points="351.3,269.5 364.6,265 382.5,271.3 369.1,275.8" fill="#f9fb0e" stroke="#f9fb0e"/>
<polygon points="369.1,275.8 382.5,271.3 400.3,277.6 387,282.2" fill="#f9fb0e" stroke="#f9fb0e"/>
<polygon points="387,282.2 400.3,277.6 418.2,284 404.8,288.6" fill="#f9fb0e" stroke="#f9fb0e"/>
<polygon points="404.8,288.6 418.2,284 436,290.9 422.7,295.2" fill="#f9fb0e" stroke="#f9fb0e"/>
<polygon points="422.7,295.2 436,290.9 453.9,298.9 440.5,302.9" fill="#f9fb0e" stroke="#f9fb0e"/>
<polygon points="440.5,302.9 453.9,298.9 471.7,308.5 458.4,312.2" fill="#f9fb0e" stroke="#f9fb0e"/>
<polygon points="458.4,312.2 471.7,308.5 489.6,321.1 476.2,323.8" fill="#f6f313" stroke="#f6f313"/>
<polygon points="476.2,323.8 489.6,321.1 507.4,336.9 494.1,339.2" fill="#f5eb18" stroke="#f5eb18"/>
<polygon points="494.1,339.2 507.4,336.9 525.3,354.3 511.9,356.5" fill="#f5e41d" stroke="#f5e41d"/>
<polygon points="511.9,356.5 525.3,354.3 543.1,373.5 529.8,375.2" fill="#f7d826" stroke="#f7d826"/>
<polygon points="529.8,375.2 543.1,373.5 561,394.5 547.6,396.2" fill="#fec832" stroke="#fec832"/>
<polygon points="547.6,396.2 561,394.5 578.8,416 565.5,417.7" fill="#fdbe3d" stroke="#fdbe3d"/>
<polygon points="565.5,417.7 578.8,416 596.7,438.2 583.3,439.9" fill="#e9b94e" stroke="#e9b94e"/>
<polygon points="583.3,439.9 596.7,438.2 614.5,460.4 601.2,462.1" fill="#d1bb59" stroke="#d1bb59"/>
<polygon points="601.2,462.1 614.5,460.4 632.4,483 619,484.8" fill="#b7bd64" stroke="#b7bd64"/>
<polygon points="619,484.8 632.4,483 650.2,506.4 636.9,508.3" fill="#9cbf6f" stroke="#9cbf6f"/>
<polygon points="636.9,508.3 650.2,506.4 668.1,529.8 654.7,531.7" fill="#7cbf7b" stroke="#7cbf7b"/>
<polygon points="654.7,531.7 668.1,529.8 685.9,553.3 672.6,555.4" fill="#59bd8c" stroke="#59bd8c"/>
<polygon points="672.6,555.4 685.9,553.3 703.8,576.7 690.4,578.9" fill="#2eb7a4" stroke="#2eb7a4"/>
<polygon points="690.4,578.9 703.8,576.7 721.6,599.7 708.3,602.1" fill="#15b1b4" stroke="#15b1b4"/>
<polygon points="708.3,602.1 721.6,599.7 739.5,622.6 726.1,625.1" fill="#07a9c2" stroke="#07a9c2"/>
<polygon points="726.1,625.1 739.5,622.6 757.3,645.3 744,647.9" fill="#06a0cd" stroke="#06a0cd"/>
<polygon points="744,647.9 757.3,645.3 775.2,666.8 761.8,669.7" fill="#0c93d2" stroke="#0c93d2"/>
<polygon points="761.8,669.7 775.2,666.8 793,688.5 779.7,691.4" fill="#1485d4" stroke="#1485d4"/>
<polygon points="779.7,691.4 793,688.5 810.9,709 797.5,712.2" fill="#1079da" stroke="#1079da"/>
<polygon points="797.5,712.2 810.9,709 828.7,729.1 815.4,732.4" fill="#0871de" stroke="#0871de"/>
<polygon points="815.4,732.4 828.7,729.1 846.6,749.1 833.2,752.6" fill="#0363e1" stroke="#0363e1"/>
<polygon points="284.3,255.4 297.7,250.8 315.6,257 302.2,261.6" fill="#f9fb0e" stroke="#f9fb0e"/>
<polygon points="302.2,261.6 315.6,257 333.4,263.3 320,267.8" fill="#f9fb0e" stroke="#f9fb0e"/>
<polygon points="320,267.8 333.4,263.3 351.3,269.5 337.9,274.1" fill="#f9fb0e" stroke="#f9fb0e"/>
<polygon points="337.9,274.1 351.3,269.5 369.1,275.8 355.7,280.4" fill="#f9fb0e" stroke="#f9fb0e"/>
<polygon points="355.7,280.4 369.1,275.8 387,282.2 373.6,286.7" fill="#f9fb0e" stroke="#f9fb0e"/>
<polygon points="373.6,286.7 387,282.2 404.8,288.6 391.4,293.1" fill="#f9fb0e" stroke="#f9fb0e"/>
<polygon points="391.4,293.1 404.8,288.6 422.7,295.2 409.3,299.6" fill="#f9fb0e" stroke="#f9fb0e"/>
<polygon points="409.3,299.6 422.7,295.2 440.5,302.9 427.1,307" fill="#f9fb0e" stroke="#f9fb0e"/>
<polygon points="427.1,307 440.5,302.9 458.4,312.2 445,315.8" fill="#f9fb0e" stroke="#f9fb0e"/>
<polygon points="445,315.8 458.4,312.2 476.2,323.8 462.8,326.6" fill="#f9fb0e" stroke="#f9fb0e"/>
<polygon points="462.8,326.6 476.2,323.8 494.1,339.2 480.7,341.5" fill="#f6f313" stroke="#f6f313"/>
<polygon points="480.7,341.5 494.1,339.2 511.9,356.5 498.5,358.7" fill="#f5e41d" stroke="#f5e41d"/>
<polygon points="498.5,358.7 511.9,356.5 529.8,375.2 516.4,377" fill="#f7d826" stroke="#f7d826"/>
<polygon points="516.4,377 529.8,375.2 547.6,396.2 534.2,398" fill="#fcce2e" stroke="#fcce2e"/>
<polygon points="534.2,398 547.6,396.2 565.5,417.7 552.1,419.4" fill="#fdbe3d" stroke="#fdbe3d"/>
<polygon points="552.1,419.4 565.5,417.7 583.3,439.9 569.9,441.7" fill="#e9b94e" stroke="#e9b94e"/>
<polygon points="569.9,441.7 583.3,439.9 601.2,462.1 587.8,464" fill="#d1bb59" stroke="#d1bb59"/>
<polygon points="587.8,464 601.2,462.1 619,484.8 605.6,486.7" fill="#b7bd64" stroke="#b7bd64"/>
<polygon points="605.6,486.7 619,484.8 636.9,508.3 623.5,510.1" fill="#9cbf6f" stroke="#9cbf6f"/>
<polygon points="623.5,510.1 636.9,508.3 654.7,531.7 641.3,533.7" fill="#7cbf7b" stroke="#7cbf7b"/>
<polygon points="641.3,533.7 654.7,531.7 672.6,555.4 659.2,557.4" fill="#59bd8c" stroke="#59bd8c"/>
<polygon points="659.2,557.4 672.6,555.4 690.4,578.9 677,581.1" fill="#38b99e" stroke="#38b99e"/>
<polygon points="677,581.1 690.4,578.9 708.3,602.1 694.9,604.4" fill="#1db3af" stroke="#1db3af"/>
<polygon points="694.9,604.4 708.3,602.1 726.1,625.1 712.7,627.6" fill="#0aacbe" stroke="#0aacbe"/>
<polygon points="712.7,627.6 726.1,625.1 744,647.9 730.6,650.6" fill="#06a0cd" stroke="#06a0cd"/>
<polygon points="730.6,650.6 744,647.9 761.8,669.7 748.4,672.6" fill="#0c93d2" stroke="#0c93d2"/>
<polygon points="748.4,672.6 761.8,669.7 779.7,691.4 766.3,694.3" fill="#1485d4" stroke="#1485d4"/>
<polygon points="766.3,694.3 779.7,691.4 797.5,712.2 784.1,715.3" fill="#127dd8" stroke="#127dd8"/>
<polygon points="784.1,715.3 797.5,712.2 815.4,732.4 802,735.7" fill="#0871de" stroke="#0871de"/>
<polygon points="802,735.7 815.4,732.4 833.2,752.6 819.8,756" fill="#0363e1" stroke="#0363e1"/>
<polygon points="271,260 284.3,255.4 302.2,261.6 288.8,266.2" fill="#f9fb0e" stroke="#f9fb0e"/>
<polygon points="288.8,266.2 302.2,261.6 320,267.8 306.7,272.4" fill="#f9fb0e" stroke="#f9fb0e"/>
<polygon points="306.7,272.4 320,267.8 337.9,274.1 324.5,278.7" fill="#f9fb0e" stroke="#f9fb0e"/>
<polygon points="324.5,278.7 337.9,274.1 355.7,280.4 342.4,285" fill="#f9fb0e" stroke="#f9fb0e"/>
<polygon points="342.4,285 355.7,280.4 373.6,286.7 360.2,291.3" fill="#f9fb0e" stroke="#f9fb0e"/>
<polygon points="360.2,291.3 373.6,286.7 391.4,293.1 378.1,297.7" fill="#f9fb0e" stroke="#f9fb0e"/>
<polygon points="378.1,297.7 391.4,293.1 409.3,299.6 395.9,304.1" fill="#f9fb0e" stroke="#f9fb0e"/>
<polygon points="395.9,304.1 409.3,299.6 427.1,307 413.8,311.2" fill="#f9fb0e" stroke="#f9fb0e"/>
<polygon points="413.8,311.2 427.1,307 445,315.8 431.6,319.8" fill="#f9fb0e" stroke="#f9fb0e"/>
<polygon points="431.6,319.8 445,315.8 462.8,326.6 449.5,330.1" fill="#f9fb0e" stroke="#f9fb0e"/>
<polygon points="449.5,330.1 462.8,326.6 480.7,341.5 467.3,344.3" fill="#f6f313" stroke="#f6f313"/>
<polygon points="467.3,344.3 480.7,341.5 498.5,358.7 485.2,361.1" fill="#f5e41d" stroke="#f5e41d"/>
<polygon points="485.2,361.1 498.5,358.7 516.4,377 503,379.3" fill="#f5de21" stroke="#f5de21"/>
<polygon points="503,379.3 516.4,377 534.2,398 520.9,399.8" fill="#fcce2e" stroke="#fcce2e"/>
<polygon points="520.9,399.8 534.2,398 552.1,419.4 538.7,421.2" fill="#ffc337" stroke="#ffc337"/>
<polygon points="538.7,421.2 552.1,419.4 569.9,441.7 556.6,443.4" fill="#f1b94a" stroke="#f1b94a"/>
<polygon points="556.6,443.4 569.9,441.7 587.8,464 574.4,465.8" fill="#d9ba56" stroke="#d9ba56"/>
<polygon points="574.4,465.8 587.8,464 605.6,486.7 592.3,488.6" fill="#c0bc60" stroke="#c0bc60"/>
<polygon points="592.3,488.6 605.6,486.7 623.5,510.1 610.1,512" fill="#a5be6b" stroke="#a5be6b"/>
<polygon points="610.1,512 623.5,510.1 641.3,533.7 628,535.7" fill="#87bf77" stroke="#87bf77"/>
<polygon points="628,535.7 641.3,533.7 659.2,557.4 645.8,559.5" fill="#65be86" stroke="#65be86"/>
<polygon points="645.8,559.5 659.2,557.4 677,581.1 663.7,583.3" fill="#38b99e" stroke="#38b99e"/>
<polygon points="663.7,583.3 677,581.1 694.9,604.4 681.5,606.8" fill="#1db3af" stroke="#1db3af"/>
<polygon points="681.5,606.8 694.9,604.4 712.7,627.6 699.4,630.1" fill="#0aacbe" stroke="#0aacbe"/>
<polygon points="699.4,630.1 712.7,627.6 730.6,650.6 717.2,653.2" fill="#06a4ca" stroke="#06a4ca"/>
<polygon points="717.2,653.2 730.6,650.6 748.4,672.6 735.1,675.4" fill="#0998d1" stroke="#0998d1"/>
<polygon points="735.1,675.4 748.4,672.6 766.3,694.3 752.9,697.2" fill="#1389d3" stroke="#1389d3"/>
<polygon points="752.9,697.2 766.3,694.3 784.1,715.3 770.8,718.4" fill="#127dd8" stroke="#127dd8"/>
<polygon points="770.8,718.4 784.1,715.3 802,735.7 788.6,738.9" fill="#0871de" stroke="#0871de"/>
<polygon points="788.6,738.9 802,735.7 819.8,756 806.5,759.4" fill="#0268e1" stroke="#0268e1"/>
<polygon points="257.6,264.6 271,260 288.8,266.2 275.5,270.8" fill="#f9fb0e" stroke="#f9fb0e"/>
<polygon points="275.5,270.8 288.8,266.2 306.7,272.4 293.3,277" fill="#f9fb0e" stroke="#f9fb0e"/>
<polygon points="293.3,277 306.7,272.4 324.5,278.7 311.2,283.3" fill="#f9fb0e" stroke="#f9fb0e"/>
<polygon points="311.2,283.3 324.5,278.7 342.4,285 329,289.5" fill="#f9fb0e" stroke="#f9fb0e"/>
<polygon points="329,289.5 342.4,285 360.2,291.3 346.9,295.9" fill="#f9fb0e" stroke="#f9fb0e"/>
<polygon points="346.9,295.9 360.2,291.3 378.1,297.7 364.7,302.2" fill="#f9fb0e" stroke="#f9fb0e"/>
<polygon points="364.7,302.2 378.1,297.7 395.9,304.1 382.6,308.6" fill="#f9fb0e" stroke="#f9fb0e"/>
<polygon points="382.6,308.6 395.9,304.1 413.8,311.2 400.4,315.6" fill="#f9fb0e" stroke="#f9fb0e"/>
<polygon points="400.4,315.6 413.8,311.2 431.6,319.8 418.3,323.8" fill="#f9fb0e" stroke="#f9fb0e"/>
<polygon points="418.3,323.8 431.6,319.8 449.5,330.1 436.1,333.8" fill="#f9fb0e" stroke="#f9fb0e"/>
<polygon points="436.1,333.8 449.5,330.1 467.3,344.3 454,347.1" fill="#f6f313" stroke="#f6f313"/>
<polygon points="454,347.1 467.3,344.3 485.2,361.1 471.8,363.5" fill="#f5eb18" stroke="#f5eb18"/>
<polygon points="471.8,363.5 485.2,361.1 503,379.3 489.7,381.5" fill="#f5de21" stroke="#f5de21"/>
<polygon points="489.7,381.5 503,379.3 520.9,399.8 507.5,401.5" fill="#fad32a" stroke="#fad32a"/>
<polygon points="507.5,401.5 520.9,399.8 538.7,421.2 525.4,423" fill="#ffc337" stroke="#ffc337"/>
<polygon points="525.4,423 538.7,421.2 556.6,443.4 543.2,445.1" fill="#f1b94a" stroke="#f1b94a"/>
<polygon points="543.2,445.1 556.6,443.4 574.4,465.8 561.1,467.7" fill="#d9ba56" stroke="#d9ba56"/>
<polygon points="561.1,467.7 574.4,465.8 592.3,488.6 578.9,490.4" fill="#c0bc60" stroke="#c0bc60"/>
<polygon points="578.9,490.4 592.3,488.6 610.1,512 596.8,513.8" fill="#a5be6b" stroke="#a5be6b"/>
<polygon points="596.8,513.8 610.1,512 628,535.7 614.6,537.7" fill="#87bf77" stroke="#87bf77"/>
<polygon points="614.6,537.7 628,535.7 645.8,559.5 632.5,561.6" fill="#65be86" stroke="#65be86"/>
<polygon points="632.5,561.6 645.8,559.5 663.7,583.3 650.3,585.5" fill="#42bb98" stroke="#42bb98"/>
<polygon points="650.3,585.5 663.7,583.3 681.5,606.8 668.2,609.2" fill="#25b5a9" stroke="#25b5a9"/>
<polygon points="668.2,609.2 681.5,606.8 699.4,630.1 686,632.6" fill="#0aacbe" stroke="#0aacbe"/>
<polygon points="686,632.6 699.4,630.1 717.2,653.2 703.9,655.8" fill="#06a4ca" stroke="#06a4ca"/>
<polygon points="703.9,655.8 717.2,653.2 735.1,675.4 721.7,678.2" fill="#0998d1" stroke="#0998d1"/>
<polygon points="721.7,678.2 735.1,675.4 752.9,697.2 739.6,700" fill="#1389d3" stroke="#1389d3"/>
<polygon points="739.6,700 752.9,697.2 770.8,718.4 757.4,721.4" fill="#127dd8" stroke="#127dd8"/>
<polygon points="757.4,721.4 770.8,718.4 788.6,738.9 775.3,742.1" fill="#0871de" stroke="#0871de"/>
<polygon points="775.3,742.1 788.6,738.9 806.5,759.4 793.1,762.8" fill="#0268e1" stroke="#0268e1"/>
<polygon points="244.2,269.2 257.6,264.6 275.5,270.8 262.1,275.4" fill="#f9fb0e" stroke="#f9fb0e"/>
<polygon points="262.1,275.4 275.5,270.8 293.3,277 279.9,281.6" fill="#f9fb0e" stroke="#f9fb0e"/>
<polygon points="279.9,281.6 293.3,277 311.2,283.3 297.8,287.8" fill="#f9fb0e" stroke="#f9fb0e"/>
<polygon points="297.8,287.8 311.2,283.3 329,289.5 315.6,294.1" fill="#f9fb0e" stroke="#f9fb0e"/>
<polygon points="315.6,294.1 329,289.5 346.9,295.9 333.5,300.4" fill="#f9fb0e" stroke="#f9fb0e"/>
<polygon points="333.5,300.4 346.9,295.9 364.7,302.2 351.3,306.8" fill="#f9fb0e" stroke="#f9fb0e"/>
<polygon points="351.3,306.8 364.7,302.2 382.6,308.6 369.2,313.2" fill="#f9fb0e" stroke="#f9fb0e"/>
<polygon points="369.2,313.2 382.6,308.6 400.4,315.6 387,320" fill="#f9fb0e" stroke="#f9fb0e"/>
<polygon points="387,320 400.4,315.6 418.3,323.8 404.9,327.9" fill="#f9fb0e" stroke="#f9fb0e"/>
<polygon points="404.9,327.9 418.3,323.8 436.1,333.8 422.7,337.5" fill="#f9fb0e" stroke="#f9fb0e"/>
<polygon points="422.7,337.5 436.1,333.8 454,347.1 440.6,349.9" fill="#f6f313" stroke="#f6f313"/>
<polygon points="440.6,349.9 454,347.1 471.8,363.5 458.4,365.9" fill="#f5eb18" stroke="#f5eb18"/>
<polygon points="458.4,365.9 471.8,363.5 489.7,381.5 476.3,383.7" fill="#f5de21" stroke="#f5de21"/>
<polygon points="476.3,383.7 489.7,381.5 507.5,401.5 494.1,403.3" fill="#fad32a" stroke="#fad32a"/>
<polygon points="494.1,403.3 507.5,401.5 525.4,423 512,424.8" fill="#fec832" stroke="#fec832"/>
<polygon points="512,424.8 525.4,423 543.2,445.1 529.8,446.9" fill="#f8bb44" stroke="#f8bb44"/>
<polygon points="529.8,446.9 543.2,445.1 561.1,467.7 547.7,469.5" fill="#e1b952" stroke="#e1b952"/>
<polygon points="547.7,469.5 561.1,467.7 578.9,490.4 565.5,492.3" fill="#c8bc5d" stroke="#c8bc5d"/>
<polygon points="565.5,492.3 578.9,490.4 596.8,513.8 583.4,515.7" fill="#aebe67" stroke="#aebe67"/>
<polygon points="583.4,515.7 596.8,513.8 614.6,537.7 601.2,539.6" fill="#92bf73" stroke="#92bf73"/>
<polygon points="601.2,539.6 614.6,537.7 632.5,561.6 619.1,563.7" fill="#71bf80" stroke="#71bf80"/>
<polygon points="619.1,563.7 632.5,561.6 650.3,585.5 636.9,587.6" fill="#42bb98" stroke="#42bb98"/>
<polygon points="636.9,587.6 650.3,585.5 668.2,609.2 654.8,611.5" fill="#25b5a9" stroke="#25b5a9"/>
<polygon points="654.8,611.5 668.2,609.2 686,632.6 672.6,635.1" fill="#0faeb9" stroke="#0faeb9"/>
<polygon points="672.6,635.1 686,632.6 703.9,655.8 690.5,658.3" fill="#06a7c6" stroke="#06a7c6"/>
<polygon points="690.5,658.3 703.9,655.8 721.7,678.2 708.3,681" fill="#0998d1" stroke="#0998d1"/>
<polygon points="708.3,681 721.7,678.2 739.6,700 726.2,702.7" fill="#1389d3" stroke="#1389d3"/>
<polygon points="726.2,702.7 739.6,700 757.4,721.4 744,724.4" fill="#1481d6" stroke="#1481d6"/>
<polygon points="744,724.4 757.4,721.4 775.3,742.1 761.9,745.1" fill="#0d75dc" stroke="#0d75dc"/>
<polygon points="761.9,745.1 775.3,742.1 793.1,762.8 779.7,766.1" fill="#0268e1" stroke="#0268e1"/>
<polygon points="230.9,273.8 244.2,269.2 262.1,275.4 248.7,280" fill="#f9fb0e" stroke="#f9fb0e"/>
<polygon points="248.7,280 262.1,275.4 279.9,281.6 266.6,286.2" fill="#f9fb0e" stroke="#f9fb0e"/>
<polygon points="266.6,286.2 279.9,281.6 297.8,287.8 284.4,292.4" fill="#f9fb0e" stroke="#f9fb0e"/>
<polygon points="284.4,292.4 297.8,287.8 315.6,294.1 302.3,298.7" fill="#f9fb0e" stroke="#f9fb0e"/>
<polygon points="302.3,298.7 315.6,294.1 333.5,300.4 320.1,305" fill="#f9fb0e" stroke="#f9fb0e"/>
<polygon points="320.1,305 333.5,300.4 351.3,306.8 338,311.3" fill="#f9fb0e" stroke="#f9fb0e"/>
<polygon points="338,311.3 351.3,306.8 369.2,313.2 355.8,317.7" fill="#f9fb0e" stroke="#f9fb0e"/>
<polygon points="355.8,317.7 369.2,313.2 387,320 373.7,324.3" fill="#f9fb0e" stroke="#f9fb0e"/>
<polygon points="373.7,324.3 387,320 404.9,327.9 391.5,331.9" fill="#f9fb0e" stroke="#f9fb0e"/>
<polygon points="391.5,331.9 404.9,327.9 422.7,337.5 409.4,341.2" fill="#f9fb0e" stroke="#f9fb0e"/>
<polygon points="409.4,341.2 422.7,337.5 440.6,349.9 427.2,352.7" fill="#f6f313" stroke="#f6f313"/>
<polygon points="427.2,352.7 440.6,349.9 458.4,365.9 445.1,368.3" fill="#f5eb18" stroke="#f5eb18"/>
<polygon points="445.1,368.3 458.4,365.9 476.3,383.7 462.9,385.9" fill="#f5e41d" stroke="#f5e41d"/>
<polygon points="462.9,385.9 476.3,383.7 494.1,403.3 480.8,405.1" fill="#f7d826" stroke="#f7d826"/>
<polygon points="480.8,405.1 494.1,403.3 512,424.8 498.6,426.6" fill="#fec832" stroke="#fec832"/>
<polygon points="498.6,426.6 512,424.8 529.8,446.9 516.5,448.6" fill="#f8bb44" stroke="#f8bb44"/>
<polygon points="516.5,448.6 529.8,446.9 547.7,469.5 534.3,471.4" fill="#e9b94e" stroke="#e9b94e"/>
<polygon points="534.3,471.4 547.7,469.5 565.5,492.3 552.2,494.2" fill="#c8bc5d" stroke="#c8bc5d"/>
<polygon points="552.2,494.2 565.5,492.3 583.4,515.7 570,517.5" fill="#aebe67" stroke="#aebe67"/>
<polygon points="570,517.5 583.4,515.7 601.2,539.6 587.9,541.6" fill="#92bf73" stroke="#92bf73"/>
<polygon points="587.9,541.6 601.2,539.6 619.1,563.7 605.7,565.7" fill="#71bf80" stroke="#71bf80"/>
<polygon points="605.7,565.7 619.1,563.7 636.9,587.6 623.6,589.8" fill="#4dbc92" stroke="#4dbc92"/>
<polygon points="623.6,589.8 636.9,587.6 654.8,611.5 641.4,613.9" fill="#25b5a9" stroke="#25b5a9"/>
<polygon points="641.4,613.9 654.8,611.5 672.6,635.1 659.3,637.5" fill="#0faeb9" stroke="#0faeb9"/>
<polygon points="659.3,637.5 672.6,635.1 690.5,658.3 677.1,660.9" fill="#06a7c6" stroke="#06a7c6"/>
<polygon points="677.1,660.9 690.5,658.3 708.3,681 695,683.7" fill="#079ccf" stroke="#079ccf"/>
<polygon points="695,683.7 708.3,681 726.2,702.7 712.8,705.4" fill="#108ed2" stroke="#108ed2"/>
<polygon points="712.8,705.4 726.2,702.7 744,724.4 730.7,727.2" fill="#1481d6" stroke="#1481d6"/>
<polygon points="730.7,727.2 744,724.4 761.9,745.1 748.5,748.1" fill="#0d75dc" stroke="#0d75dc"/>
<polygon points="748.5,748.1 761.9,745.1 779.7,766.1 766.4,769.3" fill="#0268e1" stroke="#0268e1"/>
<polygon points="217.5,278.4 230.9,273.8 248.7,280 235.3,284.6" fill="#f9fb0e" stroke="#f9fb0e"/>
<polygon points="235.3,284.6 248.7,280 266.6,286.2 253.2,290.8" fill="#f9fb0e" stroke="#f9fb0e"/>
<polygon points="253.2,290.8 266.6,286.2 284.4,292.4 271.1,297" fill="#f9fb0e" stroke="#f9fb0e"/>
<polygon points="271.1,297 284.4,292.4 302.3,298.7 288.9,303.3" fill="#f9fb0e" stroke="#f9fb0e"/>
<polygon points="288.9,303.3 302.3,298.7 320.1,305 306.8,309.6" fill="#f9fb0e" stroke="#f9fb0e"/>
<polygon points="306.8,309.6 320.1,305 338,311.3 324.6,315.9" fill="#f9fb0e" stroke="#f9fb0e"/>
<polygon points="324.6,315.9 338,311.3 355.8,317.7 342.5,322.3" fill="#f9fb0e" stroke="#f9fb0e"/>
<polygon points="342.5,322.3 355.8,317.7 373.7,324.3 360.3,328.7" fill="#f9fb0e" stroke="#f9fb0e"/>
<polygon points="360.3,328.7 373.7,324.3 391.5,331.9 378.1,336" fill="#f9fb0e" stroke="#f9fb0e"/>
<polygon points="378.1,336 391.5,331.9 409.4,341.2 396,344.8" fill="#f9fb0e" stroke="#f9fb0e"/>
<polygon points="396,344.8 409.4,341.2 427.2,352.7 413.9,355.5" fill="#f9fb0e" stroke="#f9fb0e"/>
<polygon points="413.9,355.5 427.2,352.7 445.1,368.3 431.7,370.7" fill="#f6f313" stroke="#f6f313"/>
<polygon points="431.7,370.7 445.1,368.3 462.9,385.9 449.6,388.1" fill="#f5e41d" stroke="#f5e41d"/>
<polygon points="449.6,388.1 462.9,385.9 480.8,405.1 467.4,406.9" fill="#f7d826" stroke="#f7d826"/>
<polygon points="467.4,406.9 480.8,405.1 498.6,426.6 485.2,428.4" fill="#fcce2e" stroke="#fcce2e"/>
<polygon points="485.2,428.4 498.6,426.6 516.5,448.6 503.1,450.4" fill="#fdbe3d" stroke="#fdbe3d"/>
<polygon points="503.1,450.4 516.5,448.6 534.3,471.4 521,473.2" fill="#e9b94e" stroke="#e9b94e"/>
<polygon points="521,473.2 534.3,471.4 552.2,494.2 538.8,496.1" fill="#d1bb59" stroke="#d1bb59"/>
<polygon points="538.8,496.1 552.2,494.2 570,517.5 556.7,519.4" fill="#b7bd64" stroke="#b7bd64"/>
<polygon points="556.7,519.4 570,517.5 587.9,541.6 574.5,543.6" fill="#9cbf6f" stroke="#9cbf6f"/>
<polygon points="574.5,543.6 587.9,541.6 605.7,565.7 592.4,567.8" fill="#71bf80" stroke="#71bf80"/>
<polygon points="592.4,567.8 605.7,565.7 623.6,589.8 610.2,592" fill="#4dbc92" stroke="#4dbc92"/>
<polygon points="610.2,592 623.6,589.8 641.4,613.9 628,616.2" fill="#2eb7a4" stroke="#2eb7a4"/>
<polygon points="628,616.2 641.4,613.9 659.3,637.5 645.9,640" fill="#15b1b4" stroke="#15b1b4"/>
<polygon points="645.9,640 659.3,637.5 677.1,660.9 663.8,663.3" fill="#06a7c6" stroke="#06a7c6"/>
<polygon points="663.8,663.3 677.1,660.9 695,683.7 681.6,686.1" fill="#079ccf" stroke="#079ccf"/>
<polygon points="681.6,686.1 695,683.7 712.8,705.4 699.5,707.6" fill="#108ed2" stroke="#108ed2"/>
<polygon points="699.5,707.6 712.8,705.4 730.7,727.2 717.3,729.6" fill="#1481d6" stroke="#1481d6"/>
<polygon points="717.3,729.6 730.7,727.2 748.5,748.1 735.2,750.6" fill="#0d75dc" stroke="#0d75dc"/>
<polygon points="735.2,750.6 748.5,748.1 766.4,769.3 753,772.1" fill="#046de0" stroke="#046de0"/>
</g>
<path d="M217.5,278.4L235.3,284.6L253.2,290.8L271.1,297L288.9,303.3L306.8,309.6L324.6,315.9L342.5,322.3L360.3,328.7L378.1,336L396,344.8L413.9,355.5L431.7,370.7L449.6,388.1L467.4,406.9L485.2,428.4L503.1,450.4L521,473.2L538.8,496.1L556.7,519.4L574.5,543.6L592.4,567.8L610.2,592L628,616.2L645.9,640L663.8,663.3L681.6,686.1L699.5,707.6L717.3,729.6L735.2,750.6L753,772.1 M230.9,273.8L248.7,280L266.6,286.2L284.4,292.4L302.3,298.7L320.1,305L338,311.3L355.8,317.7L373.7,324.3L391.5,331.9L409.4,341.2L427.2,352.7L445.1,368.3L462.9,385.9L480.8,405.1L498.6,426.6L516.5,448.6L534.3,471.4L552.2,494.2L570,517.5L587.9,541.6L605.7,565.7L623.6,589.8L641.4,613.9L659.3,637.5L677.1,660.9L695,683.7L712.8,705.4L730.7,727.2L748.5,748.1L766.4,769.3 M244.2,269.2L262.1,275.4L279.9,281.6L297.8,287.8L315.6,294.1L333.5,300.4L351.3,306.8L369.2,313.2L387,320L404.9,327.9L422.7,337.5L440.6,349.9L458.4,365.9L476.3,383.7L494.1,403.3L512,424.8L529.8,446.9L547.7,469.5L565.5,492.3L583.4,515.7L601.2,539.6L619.1,563.7L636.9,587.6L654.8,611.5L672.6,635.1L690.5,658.3L708.3,681L726.2,702.7L744,724.4L761.9,745.1L779.7,766.1 M257.6,264.6L275.5,270.8L293.3,277L311.2,283.3L329,289.5L346.9,295.9L364.7,302.2L382.6,308.6L400.4,315.6L418.3,323.8L436.1,333.8L454,347.1L471.8,363.5L489.7,381.5L507.5,401.5L525.4,423L543.2,445.1L561.1,467.7L578.9,490.4L596.8,513.8L614.6,537.7L632.5,561.6L650.3,585.5L668.2,609.2L686,632.6L703.9,655.8L721.7,678.2L739.6,700L757.4,721.4L775.3,742.1L793.1,762.8 M271,260L288.8,266.2L306.7,272.4L324.5,278.7L342.4,285L360.2,291.3L378.1,297.7L395.9,304.1L413.8,311.2L431.6,319.8L449.5,330.1L467.3,344.3L485.2,361.1L503,379.3L520.9,399.8L538.7,421.2L556.6,443.4L574.4,465.8L592.3,488.6L610.1,512L628,535.7L645.8,559.5L663.7,583.3L681.5,606.8L699.4,630.1L717.2,653.2L735.1,675.4L752.9,697.2L770.8,718.4L788.6,738.9L806.5,759.4 M284.3,255.4L302.2,261.6L320,267.8L337.9,274.1L355.7,280.4L373.6,286.7L391.4,293.1L409.3,299.6L427.1,307L445,315.8L462.8,326.6L480.7,341.5L498.5,358.7L516.4,377L534.2,398L552.1,419.4L569.9,441.7L587.8,464L605.6,486.7L623.5,510.1L641.3,533.7L659.2,557.4L677,581.1L694.9,604.4L712.7,627.6L730.6,650.6L748.4,672.6L766.3,694.3L784.1,715.3L802,735.7L819.8,756 M297.7,250.8L315.6,257L333.4,263.3L351.3,269.5L369.1,275.8L387,282.2L404.8,288.6L422.7,295.2L440.5,302.9L458.4,312.2L476.2,323.8L494.1,339.2L511.9,356.5L529.8,375.2L547.6,396.2L565.5,417.7L583.3,439.9L601.2,462.1L619,484.8L636.9,508.3L654.7,531.7L672.6,555.4L690.4,578.9L708.3,602.1L726.1,625.1L744,647.9L761.8,669.7L779.7,691.4L797.5,712.2L815.4,732.4L833.2,752.6 M311.1,246.2L328.9,252.4L346.8,258.7L364.6,265L382.5,271.3L400.3,277.6L418.2,284L436,290.9L453.9,298.9L471.7,308.5L489.6,321.1L507.4,336.9L525.3,354.3L543.1,373.5L561,394.5L578.8,416L596.7,438.2L614.5,460.4L632.4,483L650.2,506.4L668.1,529.8L685.9,553.3L703.8,576.7L721.6,599.7L739.5,622.6L757.3,645.3L775.2,666.8L793,688.5L810.9,709L828.7,729.1L846.6,749.1 M324.4,241.6L342.3,247.8L360.1,254.1L378,260.4L395.8,266.7L413.7,273.1L431.5,279.5L449.4,286.5L467.2,294.9L485.1,304.9L502.9,318.3L520.8,334.5L538.6,352.2L556.5,371.8L574.3,392.8L592.2,414.4L610,436.5L627.9,458.6L645.7,481.3L663.6,504.6L681.4,527.8L699.3,551.2L717.1,574.5L735,597.4L752.8,620L770.7,642.6L788.5,663.9L806.4,685.5L824.2,705.9L842.1,725.8L859.9,745.6 M337.8,237L355.7,243.2L373.5,249.5L391.4,255.8L409.2,262.1L427.1,268.5L444.9,274.9L462.8,282.2L480.6,290.8L498.5,301.2L516.3,315.6L534.2,332.2L552,350.1L569.9,370.1L587.7,391.1L605.6,412.8L623.4,434.7L641.3,456.8L659.1,479.6L677,502.7L694.8,525.8L712.7,549.1L730.5,572.3L748.4,595L766.2,617.5L784.1,639.8L801.9,661L819.8,682.5L837.6,702.7L855.5,722.5L873.3,742.1 M351.2,232.4L369,238.7L386.9,244.9L404.7,251.2L422.6,257.6L440.4,264L458.3,270.6L476.1,278.1L494,287L511.8,298L529.7,312.9L547.5,329.9L565.4,347.9L583.2,368.4L601.1,389.4L618.9,411.1L636.8,433L654.6,455L672.5,477.8L690.3,500.9L708.2,523.8L726,547.1L743.9,570L761.7,592.5L779.6,614.9L797.4,637L815.3,658.2L833.1,679.4L851,699.5L868.8,719.1L886.7,738.6 M364.5,227.8L382.4,234.1L400.2,240.4L418.1,246.7L435.9,253L453.8,259.4L471.6,266.2L489.5,274.1L507.3,283.4L525.2,295.2L543,310.7L560.9,327.8L578.7,346.2L596.6,366.7L614.4,387.7L632.3,409.5L650.1,431.2L668,453.3L685.8,476.1L703.7,499L721.5,521.9L739.4,545L757.2,567.8L775.1,590.1L792.9,612.3L810.8,634.2L828.6,655.3L846.5,676.3L864.3,696.3L882.2,715.8L900,735 M377.9,223.2L395.8,229.5L413.6,235.8L431.5,242.1L449.3,248.5L467.2,254.9L485,261.9L502.9,270.1L520.7,279.8L538.6,292.5L556.4,308.4L574.3,325.7L592.1,344.6L610,365.1L627.8,386.2L645.7,407.8L663.5,429.5L681.4,451.5L699.2,474.4L717.1,497.2L734.9,519.9L752.8,542.9L770.6,565.5L788.5,587.7L806.3,609.7L824.2,631.3L842,652.3L859.9,673.2L877.7,693L895.6,712.4L913.4,731.4 M391.3,218.6L409.1,224.9L427,231.2L444.8,237.5L462.7,243.9L480.5,250.3L498.4,257.5L516.2,266.1L534.1,276.1L551.9,289.8L569.8,306.1L587.6,323.7L605.5,343L623.3,363.5L641.2,384.6L659,406.2L676.9,427.9L694.7,449.9L712.6,472.6L730.4,495.3L748.3,517.9L766.1,540.8L784,563.3L801.8,585.3L819.7,607.2L837.5,628.5L855.4,649.4L873.2,670.1L891.1,689.8L908.9,709L926.8,727.8 M404.6,214.1L422.5,220.4L440.3,226.7L458.2,233L476,239.4L493.9,246L511.7,253.4L529.6,262.2L547.4,272.5L565.3,287.1L583.1,303.8L601,321.6L618.8,341.3L636.7,361.9L654.5,383.1L672.4,404.6L690.2,426.2L708.1,448.2L725.9,470.9L743.8,493.4L761.6,516L779.5,538.8L797.3,561L815.2,582.9L833,604.6L850.9,625.6L868.7,646.5L886.6,666.9L904.4,686.5L922.3,705.5L940.1,724.3 M418,209.5L435.9,215.8L453.7,222.1L471.6,228.4L489.4,234.8L507.3,241.6L525.1,249.4L543,258.6L560.8,269.7L578.7,284.7L596.5,301.6L614.4,319.6L632.2,339.7L650.1,360.2L667.9,381.5L685.8,402.9L703.6,424.5L721.5,446.6L739.3,469.1L757.2,491.6L775,514L792.9,536.6L810.7,558.8L828.6,580.5L846.4,602L864.3,622.8L882.1,643.6L900,663.8L917.8,683.3L935.7,702.1L953.5,720.6 M431.4,204.9L449.2,211.2L467.1,217.5L484.9,223.9L502.8,230.3L520.6,237.3L538.5,245.4L556.3,255L574.2,267L592,282.4L609.9,299.6L627.7,318.1L645.6,338.2L663.4,358.7L681.3,380L699.1,401.3L717,422.9L734.8,445L752.7,467.4L770.5,489.7L788.4,512L806.2,534.5L824.1,556.5L841.9,578L859.8,599.4L877.6,619.9L895.5,640.6L913.3,660.6L931.2,680L949,698.6L966.9,717 M444.7,200.3L462.6,206.7L480.4,213L498.3,219.3L516.1,225.8L534,232.9L551.8,241.4L569.7,251.4L587.5,264.4L605.4,280.2L623.2,297.6L641.1,316.6L658.9,336.7L676.8,357.2L694.6,378.5L712.5,399.6L730.3,421.2L748.2,443.4L766,465.7L783.9,487.9L801.7,510L819.6,532.4L837.4,554.2L855.3,575.6L873.1,596.7L891,617L908.8,637.6L926.7,657.4L944.5,676.7L962.4,695.2L980.2,713.4 M458.1,195.8L476,202.1L493.8,208.4L511.7,214.8L529.5,221.4L547.4,228.8L565.2,237.5L583.1,247.7L600.9,261.7L618.8,277.9L636.6,295.6L654.5,315L672.3,335.1L690.2,355.8L708,376.9L725.9,398.1L743.7,419.6L761.6,441.7L779.4,463.9L797.3,486L815.1,508.1L833,530.2L850.8,551.9L868.7,573.1L886.5,594L904.4,614.2L922.2,634.7L940.1,654.2L957.9,673.4L975.8,691.7L993.6,709.8 M471.5,191.2L489.3,197.5L507.2,203.9L525,210.2L542.9,217.1L560.7,224.8L578.6,233.9L596.4,244.9L614.3,259.1L632.1,275.7L650,293.6L667.8,313.5L685.7,333.6L703.5,354.3L721.4,375.4L739.2,396.5L757.1,418.1L774.9,440.1L792.8,462.2L810.6,484.2L828.5,506.1L846.3,528.1L864.2,549.5L882,570.6L899.9,591.2L917.7,611.4L935.6,631.6L953.4,651L971.3,670.1L989.1,688.2L1007,706.1 M484.9,186.6L502.7,193L520.5,199.3L538.4,205.7L556.2,212.7L574.1,220.8L592,230.4L609.8,242.3L627.7,256.9L645.5,273.7L663.4,291.9L681.2,312L699.1,332.1L716.9,352.9L734.8,373.8L752.6,395L770.5,416.6L788.3,438.5L806.1,460.5L824,482.3L841.9,504.1L859.7,526L877.6,547.2L895.4,568.2L913.3,588.4L931.1,608.5L949,628.5L966.8,647.9L984.7,666.8L1002.5,684.7L1020.4,702.5 M498.2,182L516.1,188.4L533.9,194.8L551.8,201.2L569.6,208.4L587.5,216.9L605.3,226.8L623.2,239.7L641,254.7L658.9,271.7L676.7,290.5L694.6,310.6L712.4,330.6L730.3,351.4L748.1,372.3L766,393.4L783.8,415.1L801.7,436.9L819.5,458.7L837.4,480.5L855.2,502.1L873.1,523.8L890.9,544.9L908.8,565.7L926.6,585.7L944.5,605.7L962.3,625.5L980.2,644.7L998,663.4L1015.9,681.2L1033.7,698.8 M511.6,177.5L529.4,183.9L547.3,190.2L565.1,196.9L583,204.4L600.8,213L618.7,223.2L636.5,237.1L654.4,252.5L672.2,269.8L690.1,289L707.9,309.1L725.8,329.3L743.6,350L761.5,370.8L779.3,391.8L797.2,413.6L815,435.3L832.9,457L850.7,478.6L868.6,500.1L886.4,521.6L904.3,542.6L922.1,563.2L940,582.9L957.8,602.9L975.7,622.4L993.5,641.5L1011.4,660.1L1029.2,677.7L1047.1,695.2 M525,172.9L542.8,179.3L560.7,185.7L578.5,192.5L596.4,200.4L614.2,209.5L632.1,220.4L649.9,234.6L667.8,250.3L685.6,267.8L703.5,287.6L721.3,307.7L739.2,328L757,348.5L774.9,369.3L792.7,390.4L810.6,412.1L828.4,433.6L846.3,455.3L864.1,476.8L882,498L899.8,519.4L917.7,540.3L935.5,560.7L953.4,580.2L971.2,600L989.1,619.3L1006.9,638.3L1024.8,656.8L1042.6,674.2L1060.5,691.5 M538.3,168.3L556.2,174.8L574,181.1L591.9,188.2L609.7,196.4L627.6,205.9L645.4,217.9L663.3,232.4L681.1,248.3L699,265.9L716.8,286.1L734.7,306.3L752.5,326.6L770.4,347.1L788.2,367.9L806.1,389L823.9,410.6L841.8,432L859.6,453.5L877.5,474.9L895.3,496L913.2,517.2L931,537.9L948.9,558.2L966.7,577.4L984.6,597.2L1002.4,616.2L1020.3,635.1L1038.1,653.4L1056,670.7L1073.8,687.8 M551.7,163.8L569.5,170.2L587.4,176.8L605.2,183.9L623.1,192.5L640.9,202.3L658.8,215.3L676.6,230.3L694.5,246.4L712.3,264.5L730.2,284.7L748,304.9L765.9,325.3L783.7,345.6L801.6,366.4L819.4,387.6L837.3,409.1L855.1,430.4L873,451.8L890.8,473.1L908.7,493.9L926.5,515L944.4,535.6L962.2,555.5L980.1,574.7L997.9,594.3L1015.8,613.1L1033.6,631.9L1051.5,650L1069.3,667.2L1087.2,684.1 M565.1,159.2L582.9,165.7L600.8,172.4L618.6,179.9L636.5,188.8L654.3,198.8L672.2,212.7L690,228.2L707.9,244.5L725.7,263.1L743.6,283.4L761.4,303.6L779.3,323.9L797.1,344.2L815,365L832.8,386.2L850.7,407.6L868.5,428.8L886.4,450.1L904.2,471.2L922.1,491.9L939.9,512.8L957.8,533.2L975.6,552.9L993.5,572L1011.3,591.5L1029.2,610L1047,628.7L1064.9,646.7L1082.7,663.7L1100.6,680.5 M578.4,154.7L596.3,161.1L614.1,168.1L632,176L649.8,185.2L667.7,196.2L685.5,210.4L703.4,226.1L721.2,242.6L739.1,261.7L756.9,282L774.8,302.4L792.6,322.6L810.5,342.8L828.3,363.5L846.2,384.8L864,406.1L881.9,427.1L899.7,448.3L917.6,469.3L935.4,489.9L953.3,510.6L971.1,530.8L989,550.2L1006.8,569.3L1024.7,588.5L1042.5,606.9L1060.4,625.5L1078.2,643.3L1096.1,660.1L1113.9,676.8 M591.8,150.1L609.6,156.7L627.5,163.8L645.3,172L663.2,181.7L681,193.7L698.9,208.3L716.7,224.2L734.6,240.7L752.4,260.4L770.3,280.7L788.1,301.1L806,321.2L823.8,341.4L841.7,362.2L859.5,383.4L877.4,404.6L895.2,425.5L913.1,446.6L930.9,467.4L948.8,487.8L966.6,508.4L984.5,528.5L1002.3,547.6L1020.2,566.5L1038,585.6L1055.9,603.8L1073.7,622.3L1091.6,639.9L1109.4,656.6L1127.3,673.1 M605.2,145.6L623,152.4L640.9,159.7L658.7,168.1L676.6,178.1L694.4,191.2L712.3,206.2L730.1,222.3L748,239.3L765.8,259L783.7,279.3L801.5,299.9L819.4,319.9L837.2,340.1L855.1,360.9L872.9,382L890.8,403.1L908.6,423.9L926.5,444.9L944.3,465.5L962.2,485.7L980,506.2L997.9,526.1L1015.7,544.9L1033.6,563.8L1051.4,582.6L1069.3,600.7L1087.1,619.1L1105,636.5L1122.8,653L1140.7,669.4 M618.5,141L636.4,148L654.2,155.8L672.1,164.5L689.9,175L707.8,188.7L725.6,204.2L743.5,220.5L761.3,237.9L779.2,257.7L797,278.1L814.9,298.6L832.7,318.5L850.6,338.7L868.4,359.6L886.3,380.6L904.1,401.6L922,422.3L939.8,443.1L957.7,463.6L975.5,483.6L993.4,503.9L1011.2,523.7L1029.1,542.3L1046.9,561.1L1064.8,579.7L1082.6,597.7L1100.5,615.8L1118.3,633.1L1136.2,649.5L1154,665.7 M631.9,136.5L649.7,143.7L667.6,151.8L685.4,161L703.3,172.6L721.1,186.5L739,202.1L756.8,218.7L774.7,236.6L792.5,256.4L810.4,277L828.2,297.4L846.1,317.2L863.9,337.3L881.8,358.3L899.6,379.2L917.5,400.1L935.3,420.6L953.2,441.4L971,461.6L988.9,481.5L1006.7,501.7L1024.6,521.1L1042.4,539.7L1060.3,558.4L1078.1,576.7L1096,594.6L1113.8,612.6L1131.7,629.7L1149.5,645.9L1167.4,662 M645.3,131.9L663.1,139.6L681,147.9L698.8,157.5L716.7,170.1L734.5,184.5L752.4,200.4L770.2,217L788.1,235.3L805.9,255.1L823.8,275.8L841.6,296.1L859.5,315.9L877.3,336L895.2,357L913,377.8L930.9,398.6L948.7,419L966.6,439.6L984.4,459.7L1002.3,479.4L1020.1,499.4L1038,518.6L1055.8,537.1L1073.7,555.7L1091.5,573.7L1109.4,591.5L1127.2,609.4L1145.1,626.3L1162.9,642.3L1180.8,658.2 M658.6,127.5L676.5,135.7L694.3,144.3L712.2,154L730,167.6L747.9,182.5L765.7,198.6L783.6,215.7L801.4,234L819.3,253.8L837.1,274.6L855,294.9L872.8,314.7L890.7,334.9L908.5,355.7L926.4,376.4L944.2,397.1L962.1,417.4L979.9,437.8L997.8,457.8L1015.6,477.3L1033.5,497.2L1051.3,516L1069.2,534.5L1087,553L1104.9,570.8L1122.7,588.4L1140.6,606.1L1158.4,622.9L1176.3,638.8L1194.1,654.5 M672,123.2L689.8,131.7L707.7,140.8L725.5,151.3L743.4,165.2L761.2,180.5L779.1,196.9L796.9,214.5L814.8,232.7L832.6,252.6L850.5,273.4L868.3,293.7L886.2,313.4L904,333.7L921.9,354.4L939.7,375L957.6,395.5L975.4,415.8L993.3,436L1011.1,455.8L1029,475.1L1046.8,494.9L1064.7,513.5L1082.5,531.9L1100.4,550.2L1118.2,567.8L1136.1,585.3L1153.9,602.9L1171.8,619.5L1189.6,635.2L1207.5,650.8 M685.4,118.8L703.2,127.8L721.1,137.3L738.9,148.9L756.8,163.3L774.6,178.6L792.5,195.1L810.3,213.3L828.2,231.5L846,251.5L863.9,272.3L881.7,292.4L899.6,312.2L917.4,332.5L935.3,353.1L953.1,373.6L971,394L988.8,414.1L1006.7,434.2L1024.5,453.8L1042.4,473L1060.2,492.6L1078.1,510.9L1095.9,529.3L1113.8,547.3L1131.6,564.8L1149.5,582.3L1167.3,599.6L1185.2,616.1L1203,631.6L1220.9,647.1 M698.7,114.5L716.6,124.1L734.4,133.8L752.3,146.4L770.1,161.4L788,176.9L805.8,193.7L823.7,212L841.5,230.2L859.4,250.4L877.2,271.1L895.1,291.3L912.9,310.9L930.8,331.3L948.6,351.8L966.5,372.2L984.3,392.5L1002.2,412.5L1020,432.4L1037.9,451.8L1055.7,470.8L1073.6,490.3L1091.4,508.4L1109.3,526.7L1127.1,544.5L1145,561.9L1162.8,579.2L1180.7,596.4L1198.5,612.7L1216.4,628L1234.2,643.3 M712.1,110.3L729.9,120.7L747.8,131L765.6,144L783.5,159.4L801.3,175.2L819.2,192.5L837,210.9L854.9,229L872.7,249.3L890.6,269.9L908.4,290.1L926.3,309.9L944.1,330.1L962,350.5L979.8,370.8L997.7,391L1015.5,410.8L1033.4,430.6L1051.2,449.8L1069.1,468.6L1086.9,487.8L1104.8,505.8L1122.6,524.1L1140.5,541.7L1158.3,559L1176.2,576.1L1194,593.1L1211.9,609.2L1229.7,624.4L1247.6,639.6 M725.5,106.4L743.3,117.2L761.2,128.6L779,141.9L796.9,157.5L814.7,173.5L832.6,191.4L850.4,209.7L868.3,227.9L886.1,248.2L904,268.8L921.8,289L939.7,308.8L957.5,328.9L975.4,349.3L993.2,369.4L1011.1,389.5L1028.9,409.2L1046.8,428.8L1064.6,447.8L1082.5,466.5L1100.3,485.4L1118.2,503.3L1136,521.5L1153.9,538.9L1171.7,556.1L1189.6,573L1207.4,589.8L1225.3,605.8L1243.1,620.8L1261,635.9 M738.8,102.4L756.7,113.7L774.5,126.3L792.4,140L810.2,155.9L828.1,171.8L845.9,190.2L863.8,208.6L881.6,226.8L899.5,247L917.3,267.6L935.2,287.8L953,307.7L970.9,327.7L988.7,348L1006.6,368L1024.4,388L1042.3,407.5L1060.1,426.9L1078,445.8L1095.8,464.3L1113.7,482.9L1131.5,500.8L1149.4,518.9L1167.2,536.1L1185.1,553.1L1202.9,569.9L1220.8,586.6L1238.6,602.4L1256.5,617.3L1274.3,632.1 M752.2,98.5L770.1,111L787.9,123.9L805.8,138.2L823.6,154.2L841.5,170.8L859.3,189.1L877.2,207.5L895,225.8L912.9,245.9L930.7,266.5L948.6,286.7L966.4,306.6L984.2,326.5L1002.1,346.7L1020,366.6L1037.8,386.5L1055.7,405.8L1073.5,425L1091.4,443.8L1109.2,462.1L1127.1,480.5L1144.9,498.4L1162.8,516.3L1180.6,533.2L1198.5,550.2L1216.3,566.8L1234.2,583.3L1252,598.9L1269.9,613.7L1287.7,628.4 M217.5,278.4L230.9,273.8L244.2,269.2L257.6,264.6L271,260L284.3,255.4L297.7,250.8L311.1,246.2L324.4,241.6L337.8,237L351.2,232.4L364.5,227.8L377.9,223.2L391.3,218.6L404.6,214.1L418,209.5L431.4,204.9L444.7,200.3L458.1,195.8L471.5,191.2L484.9,186.6L498.2,182L511.6,177.5L525,172.9L538.3,168.3L551.7,163.8L565.1,159.2L578.4,154.7L591.8,150.1L605.2,145.6L618.5,141L631.9,136.5L645.3,131.9L658.6,127.5L672,123.2L685.4,118.8L698.7,114.5L712.1,110.3L725.5,106.4L738.8,102.4L752.2,98.5 M235.3,284.6L248.7,280L262.1,275.4L275.5,270.8L288.8,266.2L302.2,261.6L315.6,257L328.9,252.4L342.3,247.8L355.7,243.2L369,238.7L382.4,234.1L395.8,229.5L409.1,224.9L422.5,220.4L435.9,215.8L449.2,211.2L462.6,206.7L476,202.1L489.3,197.5L502.7,193L516.1,188.4L529.4,183.9L542.8,179.3L556.2,174.8L569.5,170.2L582.9,165.7L596.3,161.1L609.6,156.7L623,152.4L636.4,148L649.7,143.7L663.1,139.6L676.5,135.7L689.8,131.7L703.2,127.8L716.6,124.1L729.9,120.7L743.3,117.2L756.7,113.7L770.1,111 M253.2,290.8L266.6,286.2L279.9,281.6L293.3,277L306.7,272.4L320,267.8L333.4,263.3L346.8,258.7L360.1,254.1L373.5,249.5L386.9,244.9L400.2,240.4L413.6,235.8L427,231.2L440.3,226.7L453.7,222.1L467.1,217.5L480.4,213L493.8,208.4L507.2,203.9L520.5,199.3L533.9,194.8L547.3,190.2L560.7,185.7L574,181.1L587.4,176.8L600.8,172.4L614.1,168.1L627.5,163.8L640.9,159.7L654.2,155.8L667.6,151.8L681,147.9L694.3,144.3L707.7,140.8L721.1,137.3L734.4,133.8L747.8,131L761.2,128.6L774.5,126.3L787.9,123.9 M271.1,297L284.4,292.4L297.8,287.8L311.2,283.3L324.5,278.7L337.9,274.1L351.3,269.5L364.6,265L378,260.4L391.4,255.8L404.7,251.2L418.1,246.7L431.5,242.1L444.8,237.5L458.2,233L471.6,228.4L484.9,223.9L498.3,219.3L511.7,214.8L525,210.2L538.4,205.7L551.8,201.2L565.1,196.9L578.5,192.5L591.9,188.2L605.2,183.9L618.6,179.9L632,176L645.3,172L658.7,168.1L672.1,164.5L685.4,161L698.8,157.5L712.2,154L725.5,151.3L738.9,148.9L752.3,146.4L765.6,144L779,141.9L792.4,140L805.8,138.2 M288.9,303.3L302.3,298.7L315.6,294.1L329,289.5L342.4,285L355.7,280.4L369.1,275.8L382.5,271.3L395.8,266.7L409.2,262.1L422.6,257.6L435.9,253L449.3,248.5L462.7,243.9L476,239.4L489.4,234.8L502.8,230.3L516.1,225.8L529.5,221.4L542.9,217.1L556.2,212.7L569.6,208.4L583,204.4L596.4,200.4L609.7,196.4L623.1,192.5L636.5,188.8L649.8,185.2L663.2,181.7L676.6,178.1L689.9,175L703.3,172.6L716.7,170.1L730,167.6L743.4,165.2L756.8,163.3L770.1,161.4L783.5,159.4L796.9,157.5L810.2,155.9L823.6,154.2 M306.8,309.6L320.1,305L333.5,300.4L346.9,295.9L360.2,291.3L373.6,286.7L387,282.2L400.3,277.6L413.7,273.1L427.1,268.5L440.4,264L453.8,259.4L467.2,254.9L480.5,250.3L493.9,246L507.3,241.6L520.6,237.3L534,232.9L547.4,228.8L560.7,224.8L574.1,220.8L587.5,216.9L600.8,213L614.2,209.5L627.6,205.9L640.9,202.3L654.3,198.8L667.7,196.2L681,193.7L694.4,191.2L707.8,188.7L721.1,186.5L734.5,184.5L747.9,182.5L761.2,180.5L774.6,178.6L788,176.9L801.3,175.2L814.7,173.5L828.1,171.8L841.5,170.8 M324.6,315.9L338,311.3L351.3,306.8L364.7,302.2L378.1,297.7L391.4,293.1L404.8,288.6L418.2,284L431.5,279.5L444.9,274.9L458.3,270.6L471.6,266.2L485,261.9L498.4,257.5L511.7,253.4L525.1,249.4L538.5,245.4L551.8,241.4L565.2,237.5L578.6,233.9L592,230.4L605.3,226.8L618.7,223.2L632.1,220.4L645.4,217.9L658.8,215.3L672.2,212.7L685.5,210.4L698.9,208.3L712.3,206.2L725.6,204.2L739,202.1L752.4,200.4L765.7,198.6L779.1,196.9L792.5,195.1L805.8,193.7L819.2,192.5L832.6,191.4L845.9,190.2L859.3,189.1 M342.5,322.3L355.8,317.7L369.2,313.2L382.6,308.6L395.9,304.1L409.3,299.6L422.7,295.2L436,290.9L449.4,286.5L462.8,282.2L476.1,278.1L489.5,274.1L502.9,270.1L516.2,266.1L529.6,262.2L543,258.6L556.3,255L569.7,251.4L583.1,247.7L596.4,244.9L609.8,242.3L623.2,239.7L636.5,237.1L649.9,234.6L663.3,232.4L676.6,230.3L690,228.2L703.4,226.1L716.7,224.2L730.1,222.3L743.5,220.5L756.8,218.7L770.2,217L783.6,215.7L796.9,214.5L810.3,213.3L823.7,212L837,210.9L850.4,209.7L863.8,208.6L877.2,207.5 M360.3,328.7L373.7,324.3L387,320L400.4,315.6L413.8,311.2L427.1,307L440.5,302.9L453.9,298.9L467.2,294.9L480.6,290.8L494,287L507.3,283.4L520.7,279.8L534.1,276.1L547.4,272.5L560.8,269.7L574.2,267L587.5,264.4L600.9,261.7L614.3,259.1L627.7,256.9L641,254.7L654.4,252.5L667.8,250.3L681.1,248.3L694.5,246.4L707.9,244.5L721.2,242.6L734.6,240.7L748,239.3L761.3,237.9L774.7,236.6L788.1,235.3L801.4,234L814.8,232.7L828.2,231.5L841.5,230.2L854.9,229L868.3,227.9L881.6,226.8L895,225.8 M378.1,336L391.5,331.9L404.9,327.9L418.3,323.8L431.6,319.8L445,315.8L458.4,312.2L471.7,308.5L485.1,304.9L498.5,301.2L511.8,298L525.2,295.2L538.6,292.5L551.9,289.8L565.3,287.1L578.7,284.7L592,282.4L605.4,280.2L618.8,277.9L632.1,275.7L645.5,273.7L658.9,271.7L672.2,269.8L685.6,267.8L699,265.9L712.3,264.5L725.7,263.1L739.1,261.7L752.4,260.4L765.8,259L779.2,257.7L792.5,256.4L805.9,255.1L819.3,253.8L832.6,252.6L846,251.5L859.4,250.4L872.7,249.3L886.1,248.2L899.5,247L912.9,245.9 M396,344.8L409.4,341.2L422.7,337.5L436.1,333.8L449.5,330.1L462.8,326.6L476.2,323.8L489.6,321.1L502.9,318.3L516.3,315.6L529.7,312.9L543,310.7L556.4,308.4L569.8,306.1L583.1,303.8L596.5,301.6L609.9,299.6L623.2,297.6L636.6,295.6L650,293.6L663.4,291.9L676.7,290.5L690.1,289L703.5,287.6L716.8,286.1L730.2,284.7L743.6,283.4L756.9,282L770.3,280.7L783.7,279.3L797,278.1L810.4,277L823.8,275.8L837.1,274.6L850.5,273.4L863.9,272.3L877.2,271.1L890.6,269.9L904,268.8L917.3,267.6L930.7,266.5 M413.9,355.5L427.2,352.7L440.6,349.9L454,347.1L467.3,344.3L480.7,341.5L494.1,339.2L507.4,336.9L520.8,334.5L534.2,332.2L547.5,329.9L560.9,327.8L574.3,325.7L587.6,323.7L601,321.6L614.4,319.6L627.7,318.1L641.1,316.6L654.5,315L667.8,313.5L681.2,312L694.6,310.6L707.9,309.1L721.3,307.7L734.7,306.3L748,304.9L761.4,303.6L774.8,302.4L788.1,301.1L801.5,299.9L814.9,298.6L828.2,297.4L841.6,296.1L855,294.9L868.3,293.7L881.7,292.4L895.1,291.3L908.4,290.1L921.8,289L935.2,287.8L948.6,286.7 M431.7,370.7L445.1,368.3L458.4,365.9L471.8,363.5L485.2,361.1L498.5,358.7L511.9,356.5L525.3,354.3L538.6,352.2L552,350.1L565.4,347.9L578.7,346.2L592.1,344.6L605.5,343L618.8,341.3L632.2,339.7L645.6,338.2L658.9,336.7L672.3,335.1L685.7,333.6L699.1,332.1L712.4,330.6L725.8,329.3L739.2,328L752.5,326.6L765.9,325.3L779.3,323.9L792.6,322.6L806,321.2L819.4,319.9L832.7,318.5L846.1,317.2L859.5,315.9L872.8,314.7L886.2,313.4L899.6,312.2L912.9,310.9L926.3,309.9L939.7,308.8L953,307.7L966.4,306.6 M449.6,388.1L462.9,385.9L476.3,383.7L489.7,381.5L503,379.3L516.4,377L529.8,375.2L543.1,373.5L556.5,371.8L569.9,370.1L583.2,368.4L596.6,366.7L610,365.1L623.3,363.5L636.7,361.9L650.1,360.2L663.4,358.7L676.8,357.2L690.2,355.8L703.5,354.3L716.9,352.9L730.3,351.4L743.6,350L757,348.5L770.4,347.1L783.7,345.6L797.1,344.2L810.5,342.8L823.8,341.4L837.2,340.1L850.6,338.7L863.9,337.3L877.3,336L890.7,334.9L904,333.7L917.4,332.5L930.8,331.3L944.1,330.1L957.5,328.9L970.9,327.7L984.2,326.5 M467.4,406.9L480.8,405.1L494.1,403.3L507.5,401.5L520.9,399.8L534.2,398L547.6,396.2L561,394.5L574.3,392.8L587.7,391.1L601.1,389.4L614.4,387.7L627.8,386.2L641.2,384.6L654.5,383.1L667.9,381.5L681.3,380L694.6,378.5L708,376.9L721.4,375.4L734.8,373.8L748.1,372.3L761.5,370.8L774.9,369.3L788.2,367.9L801.6,366.4L815,365L828.3,363.5L841.7,362.2L855.1,360.9L868.4,359.6L881.8,358.3L895.2,357L908.5,355.7L921.9,354.4L935.3,353.1L948.6,351.8L962,350.5L975.4,349.3L988.7,348L1002.1,346.7 M485.2,428.4L498.6,426.6L512,424.8L525.4,423L538.7,421.2L552.1,419.4L565.5,417.7L578.8,416L592.2,414.4L605.6,412.8L618.9,411.1L632.3,409.5L645.7,407.8L659,406.2L672.4,404.6L685.8,402.9L699.1,401.3L712.5,399.6L725.9,398.1L739.2,396.5L752.6,395L766,393.4L779.3,391.8L792.7,390.4L806.1,389L819.4,387.6L832.8,386.2L846.2,384.8L859.5,383.4L872.9,382L886.3,380.6L899.6,379.2L913,377.8L926.4,376.4L939.7,375L953.1,373.6L966.5,372.2L979.8,370.8L993.2,369.4L1006.6,368L1020,366.6 M503.1,450.4L516.5,448.6L529.8,446.9L543.2,445.1L556.6,443.4L569.9,441.7L583.3,439.9L596.7,438.2L610,436.5L623.4,434.7L636.8,433L650.1,431.2L663.5,429.5L676.9,427.9L690.2,426.2L703.6,424.5L717,422.9L730.3,421.2L743.7,419.6L757.1,418.1L770.5,416.6L783.8,415.1L797.2,413.6L810.6,412.1L823.9,410.6L837.3,409.1L850.7,407.6L864,406.1L877.4,404.6L890.8,403.1L904.1,401.6L917.5,400.1L930.9,398.6L944.2,397.1L957.6,395.5L971,394L984.3,392.5L997.7,391L1011.1,389.5L1024.4,388L1037.8,386.5 M521,473.2L534.3,471.4L547.7,469.5L561.1,467.7L574.4,465.8L587.8,464L601.2,462.1L614.5,460.4L627.9,458.6L641.3,456.8L654.6,455L668,453.3L681.4,451.5L694.7,449.9L708.1,448.2L721.5,446.6L734.8,445L748.2,443.4L761.6,441.7L774.9,440.1L788.3,438.5L801.7,436.9L815,435.3L828.4,433.6L841.8,432L855.1,430.4L868.5,428.8L881.9,427.1L895.2,425.5L908.6,423.9L922,422.3L935.3,420.6L948.7,419L962.1,417.4L975.4,415.8L988.8,414.1L1002.2,412.5L1015.5,410.8L1028.9,409.2L1042.3,407.5L1055.7,405.8 M538.8,496.1L552.2,494.2L565.5,492.3L578.9,490.4L592.3,488.6L605.6,486.7L619,484.8L632.4,483L645.7,481.3L659.1,479.6L672.5,477.8L685.8,476.1L699.2,474.4L712.6,472.6L725.9,470.9L739.3,469.1L752.7,467.4L766,465.7L779.4,463.9L792.8,462.2L806.1,460.5L819.5,458.7L832.9,457L846.3,455.3L859.6,453.5L873,451.8L886.4,450.1L899.7,448.3L913.1,446.6L926.5,444.9L939.8,443.1L953.2,441.4L966.6,439.6L979.9,437.8L993.3,436L1006.7,434.2L1020,432.4L1033.4,430.6L1046.8,428.8L1060.1,426.9L1073.5,425 M556.7,519.4L570,517.5L583.4,515.7L596.8,513.8L610.1,512L623.5,510.1L636.9,508.3L650.2,506.4L663.6,504.6L677,502.7L690.3,500.9L703.7,499L717.1,497.2L730.4,495.3L743.8,493.4L757.2,491.6L770.5,489.7L783.9,487.9L797.3,486L810.6,484.2L824,482.3L837.4,480.5L850.7,478.6L864.1,476.8L877.5,474.9L890.8,473.1L904.2,471.2L917.6,469.3L930.9,467.4L944.3,465.5L957.7,463.6L971,461.6L984.4,459.7L997.8,457.8L1011.1,455.8L1024.5,453.8L1037.9,451.8L1051.2,449.8L1064.6,447.8L1078,445.8L1091.4,443.8 M574.5,543.6L587.9,541.6L601.2,539.6L614.6,537.7L628,535.7L641.3,533.7L654.7,531.7L668.1,529.8L681.4,527.8L694.8,525.8L708.2,523.8L721.5,521.9L734.9,519.9L748.3,517.9L761.6,516L775,514L788.4,512L801.7,510L815.1,508.1L828.5,506.1L841.9,504.1L855.2,502.1L868.6,500.1L882,498L895.3,496L908.7,493.9L922.1,491.9L935.4,489.9L948.8,487.8L962.2,485.7L975.5,483.6L988.9,481.5L1002.3,479.4L1015.6,477.3L1029,475.1L1042.4,473L1055.7,470.8L1069.1,468.6L1082.5,466.5L1095.8,464.3L1109.2,462.1 M592.4,567.8L605.7,565.7L619.1,563.7L632.5,561.6L645.8,559.5L659.2,557.4L672.6,555.4L685.9,553.3L699.3,551.2L712.7,549.1L726,547.1L739.4,545L752.8,542.9L766.1,540.8L779.5,538.8L792.9,536.6L806.2,534.5L819.6,532.4L833,530.2L846.3,528.1L859.7,526L873.1,523.8L886.4,521.6L899.8,519.4L913.2,517.2L926.5,515L939.9,512.8L953.3,510.6L966.6,508.4L980,506.2L993.4,503.9L1006.7,501.7L1020.1,499.4L1033.5,497.2L1046.8,494.9L1060.2,492.6L1073.6,490.3L1086.9,487.8L1100.3,485.4L1113.7,482.9L1127.1,480.5 M610.2,592L623.6,589.8L636.9,587.6L650.3,585.5L663.7,583.3L677,581.1L690.4,578.9L703.8,576.7L717.1,574.5L730.5,572.3L743.9,570L757.2,567.8L770.6,565.5L784,563.3L797.3,561L810.7,558.8L824.1,556.5L837.4,554.2L850.8,551.9L864.2,549.5L877.6,547.2L890.9,544.9L904.3,542.6L917.7,540.3L931,537.9L944.4,535.6L957.8,533.2L971.1,530.8L984.5,528.5L997.9,526.1L1011.2,523.7L1024.6,521.1L1038,518.6L1051.3,516L1064.7,513.5L1078.1,510.9L1091.4,508.4L1104.8,505.8L1118.2,503.3L1131.5,500.8L1144.9,498.4 M628,616.2L641.4,613.9L654.8,611.5L668.2,609.2L681.5,606.8L694.9,604.4L708.3,602.1L721.6,599.7L735,597.4L748.4,595L761.7,592.5L775.1,590.1L788.5,587.7L801.8,585.3L815.2,582.9L828.6,580.5L841.9,578L855.3,575.6L868.7,573.1L882,570.6L895.4,568.2L908.8,565.7L922.1,563.2L935.5,560.7L948.9,558.2L962.2,555.5L975.6,552.9L989,550.2L1002.3,547.6L1015.7,544.9L1029.1,542.3L1042.4,539.7L1055.8,537.1L1069.2,534.5L1082.5,531.9L1095.9,529.3L1109.3,526.7L1122.6,524.1L1136,521.5L1149.4,518.9L1162.8,516.3 M645.9,640L659.3,637.5L672.6,635.1L686,632.6L699.4,630.1L712.7,627.6L726.1,625.1L739.5,622.6L752.8,620L766.2,617.5L779.6,614.9L792.9,612.3L806.3,609.7L819.7,607.2L833,604.6L846.4,602L859.8,599.4L873.1,596.7L886.5,594L899.9,591.2L913.3,588.4L926.6,585.7L940,582.9L953.4,580.2L966.7,577.4L980.1,574.7L993.5,572L1006.8,569.3L1020.2,566.5L1033.6,563.8L1046.9,561.1L1060.3,558.4L1073.7,555.7L1087,553L1100.4,550.2L1113.8,547.3L1127.1,544.5L1140.5,541.7L1153.9,538.9L1167.2,536.1L1180.6,533.2 M663.8,663.3L677.1,660.9L690.5,658.3L703.9,655.8L717.2,653.2L730.6,650.6L744,647.9L757.3,645.3L770.7,642.6L784.1,639.8L797.4,637L810.8,634.2L824.2,631.3L837.5,628.5L850.9,625.6L864.3,622.8L877.6,619.9L891,617L904.4,614.2L917.7,611.4L931.1,608.5L944.5,605.7L957.8,602.9L971.2,600L984.6,597.2L997.9,594.3L1011.3,591.5L1024.7,588.5L1038,585.6L1051.4,582.6L1064.8,579.7L1078.1,576.7L1091.5,573.7L1104.9,570.8L1118.2,567.8L1131.6,564.8L1145,561.9L1158.3,559L1171.7,556.1L1185.1,553.1L1198.5,550.2 M681.6,686.1L695,683.7L708.3,681L721.7,678.2L735.1,675.4L748.4,672.6L761.8,669.7L775.2,666.8L788.5,663.9L801.9,661L815.3,658.2L828.6,655.3L842,652.3L855.4,649.4L868.7,646.5L882.1,643.6L895.5,640.6L908.8,637.6L922.2,634.7L935.6,631.6L949,628.5L962.3,625.5L975.7,622.4L989.1,619.3L1002.4,616.2L1015.8,613.1L1029.2,610L1042.5,606.9L1055.9,603.8L1069.3,600.7L1082.6,597.7L1096,594.6L1109.4,591.5L1122.7,588.4L1136.1,585.3L1149.5,582.3L1162.8,579.2L1176.2,576.1L1189.6,573L1202.9,569.9L1216.3,566.8 M699.5,707.6L712.8,705.4L726.2,702.7L739.6,700L752.9,697.2L766.3,694.3L779.7,691.4L793,688.5L806.4,685.5L819.8,682.5L833.1,679.4L846.5,676.3L859.9,673.2L873.2,670.1L886.6,666.9L900,663.8L913.3,660.6L926.7,657.4L940.1,654.2L953.4,651L966.8,647.9L980.2,644.7L993.5,641.5L1006.9,638.3L1020.3,635.1L1033.6,631.9L1047,628.7L1060.4,625.5L1073.7,622.3L1087.1,619.1L1100.5,615.8L1113.8,612.6L1127.2,609.4L1140.6,606.1L1153.9,602.9L1167.3,599.6L1180.7,596.4L1194,593.1L1207.4,589.8L1220.8,586.6L1234.2,583.3 M717.3,729.6L730.7,727.2L744,724.4L757.4,721.4L770.8,718.4L784.1,715.3L797.5,712.2L810.9,709L824.2,705.9L837.6,702.7L851,699.5L864.3,696.3L877.7,693L891.1,689.8L904.4,686.5L917.8,683.3L931.2,680L944.5,676.7L957.9,673.4L971.3,670.1L984.7,666.8L998,663.4L1011.4,660.1L1024.8,656.8L1038.1,653.4L1051.5,650L1064.9,646.7L1078.2,643.3L1091.6,639.9L1105,636.5L1118.3,633.1L1131.7,629.7L1145.1,626.3L1158.4,622.9L1171.8,619.5L1185.2,616.1L1198.5,612.7L1211.9,609.2L1225.3,605.8L1238.6,602.4L1252,598.9 M735.2,750.6L748.5,748.1L761.9,745.1L775.3,742.1L788.6,738.9L802,735.7L815.4,732.4L828.7,729.1L842.1,725.8L855.5,722.5L868.8,719.1L882.2,715.8L895.6,712.4L908.9,709L922.3,705.5L935.7,702.1L949,698.6L962.4,695.2L975.8,691.7L989.1,688.2L1002.5,684.7L1015.9,681.2L1029.2,677.7L1042.6,674.2L1056,670.7L1069.3,667.2L1082.7,663.7L1096.1,660.1L1109.4,656.6L1122.8,653L1136.2,649.5L1149.5,645.9L1162.9,642.3L1176.3,638.8L1189.6,635.2L1203,631.6L1216.4,628L1229.7,624.4L1243.1,620.8L1256.5,617.3L1269.9,613.7 M753,772.1L766.4,769.3L779.7,766.1L793.1,762.8L806.5,759.4L819.8,756L833.2,752.6L846.6,749.1L859.9,745.6L873.3,742.1L886.7,738.6L900,735L913.4,731.4L926.8,727.8L940.1,724.3L953.5,720.6L966.9,717L980.2,713.4L993.6,709.8L1007,706.1L1020.4,702.5L1033.7,698.8L1047.1,695.2L1060.5,691.5L1073.8,687.8L1087.2,684.1L1100.6,680.5L1113.9,676.8L1127.3,673.1L1140.7,669.4L1154,665.7L1167.4,662L1180.8,658.2L1194.1,654.5L1207.5,650.8L1220.9,647.1L1234.2,643.3L1247.6,639.6L1261,635.9L1274.3,632.1L1287.7,628.4" stroke="#000" stroke-width="2.3" fill="none" stroke-linejoin="round" stroke-linecap="round"/>
</g>
<path d="M217.5,198L217.5,649.5L753,834L1287.7,649.6 M217.5,649.5L202.4,644.3 M217.5,536.6L202.4,531.4 M217.5,423.8L202.4,418.5 M217.5,310.9L202.4,305.7 M217.5,198L202.4,192.8 M217.5,649.5L202.4,654.7 M396,711L380.9,716.2 M574.5,772.5L559.4,777.7 M753,834L737.9,839.2 M753,834L768.1,839.2 M886.7,787.9L901.8,793.1 M1020.4,741.8L1035.5,747 M1154,695.7L1169.2,700.9 M1287.7,649.6L1302.8,654.8" stroke="#262626" stroke-width="4.6" fill="none" stroke-linejoin="miter" stroke-linecap="butt"/>
<g font-family="'Liberation Serif', serif" font-weight="bold" font-size="56.5" fill="#262626">
<text transform="translate(186.4,660.5) scale(1,1.04)" text-anchor="end">1.5</text>
<text transform="translate(186.4,547.6) scale(1,1.04)" text-anchor="end">1.75</text>
<text transform="translate(186.4,434.8) scale(1,1.04)" text-anchor="end">2</text>
<text transform="translate(186.4,321.9) scale(1,1.04)" text-anchor="end">2.25</text>
<text transform="translate(186.4,209) scale(1,1.04)" text-anchor="end">2.5</text>
<text transform="translate(185.2,715.4) scale(1,1.04)" text-anchor="end">0</text>
<text transform="translate(366.2,776.7) scale(1,1.04)" text-anchor="end">10</text>
<text transform="translate(544.9,838) scale(1,1.04)" text-anchor="end">20</text>
<text transform="translate(723.5,899.3) scale(1,1.04)" text-anchor="end">30</text>
<text transform="translate(783.7,899.7) scale(1,1.04)">0</text>
<text transform="translate(917.3,853.7) scale(1,1.04)">10</text>
<text transform="translate(1050.9,807.7) scale(1,1.04)">20</text>
<text transform="translate(1184.5,761.7) scale(1,1.04)">30</text>
<text transform="translate(1318.1,715.7) scale(1,1.04)">40</text>
</g>
<g font-family="'Liberation Serif', serif" font-weight="bold" font-size="54" fill="#111">
<text transform="translate(58.5,387.7) rotate(-90)" font-size="54.7" text-anchor="middle"><tspan font-style="italic">C</tspan> (bits/symbol)</text>
<text transform="translate(395,857.7) rotate(17)" font-size="49" text-anchor="middle" dominant-baseline="central"><tspan font-style="italic">T</tspan> (°C)</text>
<text transform="translate(1136.5,859) rotate(-34)" font-size="53" text-anchor="middle" dominant-baseline="central"><tspan font-style="italic">S</tspan> (ppt)</text>
</g>
</svg>
</body>
</html>
